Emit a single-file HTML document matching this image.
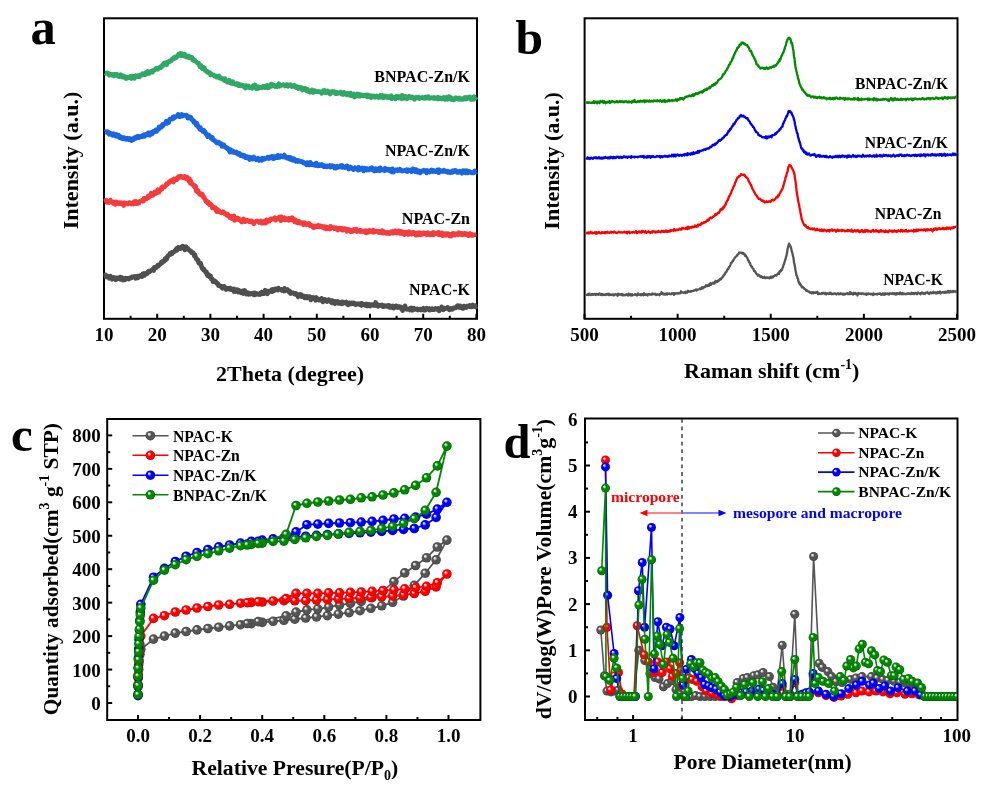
<!DOCTYPE html>
<html><head><meta charset="utf-8"><style>
html,body{margin:0;padding:0;background:#fff;width:988px;height:792px;overflow:hidden}
svg{display:block;will-change:transform}
text{font-family:'Liberation Serif',serif;font-weight:bold}
</style></head><body>
<svg width="988" height="792" viewBox="0 0 988 792">
<defs><radialGradient id="g_gray" cx="0.5" cy="0.5" r="0.5" fx="0.33" fy="0.3"><stop offset="0" stop-color="#ffffff"/><stop offset="0.16" stop-color="#dddddd"/><stop offset="0.42" stop-color="#555555"/><stop offset="0.82" stop-color="#555555"/><stop offset="1" stop-color="#3a3a3a"/></radialGradient><radialGradient id="g_red" cx="0.5" cy="0.5" r="0.5" fx="0.33" fy="0.3"><stop offset="0" stop-color="#ffffff"/><stop offset="0.16" stop-color="#ffcccc"/><stop offset="0.42" stop-color="#ff0000"/><stop offset="0.82" stop-color="#ff0000"/><stop offset="1" stop-color="#c00000"/></radialGradient><radialGradient id="g_blue" cx="0.5" cy="0.5" r="0.5" fx="0.33" fy="0.3"><stop offset="0" stop-color="#ffffff"/><stop offset="0.16" stop-color="#ccccff"/><stop offset="0.42" stop-color="#0000ff"/><stop offset="0.82" stop-color="#0000ff"/><stop offset="1" stop-color="#0000b0"/></radialGradient><radialGradient id="g_green" cx="0.5" cy="0.5" r="0.5" fx="0.33" fy="0.3"><stop offset="0" stop-color="#ffffff"/><stop offset="0.16" stop-color="#cce7cc"/><stop offset="0.42" stop-color="#008800"/><stop offset="0.82" stop-color="#008800"/><stop offset="1" stop-color="#005a00"/></radialGradient></defs>
<rect x="104" y="18.3" width="373" height="300.5" fill="none" stroke="#000" stroke-width="2"/>
<line x1="104.00" y1="318.8" x2="104.00" y2="313.8" stroke="#000" stroke-width="2"/>
<text x="104" y="341" font-size="19" text-anchor="middle" fill="#000" >10</text>
<line x1="130.60" y1="318.8" x2="130.60" y2="315.8" stroke="#000" stroke-width="2"/>
<line x1="157.20" y1="318.8" x2="157.20" y2="313.8" stroke="#000" stroke-width="2"/>
<text x="157.2" y="341" font-size="19" text-anchor="middle" fill="#000" >20</text>
<line x1="183.80" y1="318.8" x2="183.80" y2="315.8" stroke="#000" stroke-width="2"/>
<line x1="210.40" y1="318.8" x2="210.40" y2="313.8" stroke="#000" stroke-width="2"/>
<text x="210.4" y="341" font-size="19" text-anchor="middle" fill="#000" >30</text>
<line x1="237.00" y1="318.8" x2="237.00" y2="315.8" stroke="#000" stroke-width="2"/>
<line x1="263.60" y1="318.8" x2="263.60" y2="313.8" stroke="#000" stroke-width="2"/>
<text x="263.6" y="341" font-size="19" text-anchor="middle" fill="#000" >40</text>
<line x1="290.20" y1="318.8" x2="290.20" y2="315.8" stroke="#000" stroke-width="2"/>
<line x1="316.80" y1="318.8" x2="316.80" y2="313.8" stroke="#000" stroke-width="2"/>
<text x="316.8" y="341" font-size="19" text-anchor="middle" fill="#000" >50</text>
<line x1="343.40" y1="318.8" x2="343.40" y2="315.8" stroke="#000" stroke-width="2"/>
<line x1="370.00" y1="318.8" x2="370.00" y2="313.8" stroke="#000" stroke-width="2"/>
<text x="370" y="341" font-size="19" text-anchor="middle" fill="#000" >60</text>
<line x1="396.60" y1="318.8" x2="396.60" y2="315.8" stroke="#000" stroke-width="2"/>
<line x1="423.20" y1="318.8" x2="423.20" y2="313.8" stroke="#000" stroke-width="2"/>
<text x="423.2" y="341" font-size="19" text-anchor="middle" fill="#000" >70</text>
<line x1="449.80" y1="318.8" x2="449.80" y2="315.8" stroke="#000" stroke-width="2"/>
<line x1="476.40" y1="318.8" x2="476.40" y2="313.8" stroke="#000" stroke-width="2"/>
<text x="476.4" y="341" font-size="19" text-anchor="middle" fill="#000" >80</text>
<text x="290" y="380.8" font-size="22" text-anchor="middle" fill="#000" >2Theta (degree)</text>
<text transform="translate(77.5,160.5) rotate(-90)" font-size="22" text-anchor="middle">Intensity (a.u.)</text>
<text x="30.5" y="44.2" font-size="50.5" text-anchor="start" fill="#000" >a</text>
<path d="M105.00 73.03 L105.60 73.39 L106.20 73.09 L106.80 72.77 L107.40 73.30 L108.00 73.04 L108.60 74.06 L109.20 75.25 L109.80 73.95 L110.40 74.01 L111.00 75.05 L111.60 75.09 L112.20 75.04 L112.80 74.35 L113.40 75.20 L114.00 75.91 L114.60 74.41 L115.20 75.24 L115.80 74.21 L116.40 74.83 L117.00 74.52 L117.60 75.93 L118.20 75.23 L118.80 76.59 L119.40 76.62 L120.00 76.46 L120.60 74.72 L121.20 76.41 L121.80 76.91 L122.40 77.14 L123.00 75.92 L123.60 76.85 L124.20 76.53 L124.80 76.73 L125.40 78.29 L126.00 76.85 L126.60 77.51 L127.20 78.27 L127.80 77.11 L128.40 77.49 L129.00 77.66 L129.60 77.59 L130.20 76.52 L130.80 77.51 L131.40 78.46 L132.00 76.05 L132.60 77.88 L133.20 77.19 L133.80 76.46 L134.40 78.45 L135.00 77.33 L135.60 75.62 L136.20 76.49 L136.80 76.74 L137.40 75.97 L138.00 76.50 L138.60 75.74 L139.20 76.16 L139.80 76.60 L140.40 74.74 L141.00 75.28 L141.60 74.58 L142.20 74.88 L142.80 73.66 L143.40 73.97 L144.00 74.10 L144.60 74.79 L145.20 74.79 L145.80 72.61 L146.40 72.82 L147.00 73.76 L147.60 71.42 L148.20 72.41 L148.80 72.46 L149.40 73.30 L150.00 72.60 L150.60 71.53 L151.20 71.24 L151.80 71.07 L152.40 72.22 L153.00 70.39 L153.60 70.22 L154.20 70.46 L154.80 69.80 L155.40 69.46 L156.00 68.44 L156.60 69.03 L157.20 68.39 L157.80 69.37 L158.40 68.64 L159.00 67.77 L159.60 67.99 L160.20 66.83 L160.80 67.59 L161.40 66.38 L162.00 66.49 L162.60 64.61 L163.20 65.55 L163.80 63.54 L164.40 62.88 L165.00 63.88 L165.60 63.02 L166.20 63.49 L166.80 64.77 L167.40 61.93 L168.00 61.73 L168.60 62.02 L169.20 61.89 L169.80 61.00 L170.40 60.62 L171.00 60.99 L171.60 60.48 L172.20 58.86 L172.80 59.23 L173.40 58.92 L174.00 57.63 L174.60 58.26 L175.20 56.96 L175.80 58.02 L176.40 57.01 L177.00 56.56 L177.60 55.67 L178.20 55.74 L178.80 53.97 L179.40 54.44 L180.00 55.45 L180.60 53.34 L181.20 55.65 L181.80 53.56 L182.40 55.58 L183.00 54.37 L183.60 55.76 L184.20 55.36 L184.80 54.18 L185.40 56.58 L186.00 56.92 L186.60 55.93 L187.20 55.99 L187.80 56.31 L188.40 55.91 L189.00 57.83 L189.60 56.78 L190.20 57.45 L190.80 57.15 L191.40 57.61 L192.00 57.46 L192.60 59.90 L193.20 59.23 L193.80 60.62 L194.40 60.38 L195.00 60.36 L195.60 61.21 L196.20 61.60 L196.80 62.62 L197.40 62.88 L198.00 63.49 L198.60 63.16 L199.20 64.15 L199.80 66.64 L200.40 65.30 L201.00 65.52 L201.60 67.17 L202.20 68.57 L202.80 66.83 L203.40 68.38 L204.00 68.58 L204.60 68.22 L205.20 70.75 L205.80 70.66 L206.40 71.23 L207.00 71.06 L207.60 72.49 L208.20 72.13 L208.80 72.86 L209.40 72.46 L210.00 72.73 L210.60 75.09 L211.20 73.91 L211.80 74.82 L212.40 74.81 L213.00 74.72 L213.60 74.89 L214.20 76.02 L214.80 75.48 L215.40 75.80 L216.00 76.13 L216.60 77.25 L217.20 77.05 L217.80 77.00 L218.40 76.44 L219.00 75.99 L219.60 78.07 L220.20 78.31 L220.80 77.66 L221.40 78.44 L222.00 78.89 L222.60 79.19 L223.20 79.53 L223.80 78.70 L224.40 80.55 L225.00 78.63 L225.60 80.60 L226.20 80.60 L226.80 81.19 L227.40 82.29 L228.00 82.27 L228.60 80.45 L229.20 80.31 L229.80 82.60 L230.40 81.42 L231.00 82.50 L231.60 83.45 L232.20 81.73 L232.80 81.62 L233.40 83.76 L234.00 83.83 L234.60 83.83 L235.20 84.27 L235.80 83.76 L236.40 83.43 L237.00 84.68 L237.60 84.20 L238.20 83.82 L238.80 85.67 L239.40 85.35 L240.00 85.84 L240.60 84.85 L241.20 85.23 L241.80 85.07 L242.40 85.28 L243.00 86.26 L243.60 85.58 L244.20 86.60 L244.80 86.70 L245.40 88.15 L246.00 85.51 L246.60 87.44 L247.20 86.75 L247.80 86.90 L248.40 85.83 L249.00 86.71 L249.60 87.75 L250.20 87.16 L250.80 87.35 L251.40 87.11 L252.00 88.32 L252.60 87.43 L253.20 85.73 L253.80 86.97 L254.40 85.98 L255.00 84.97 L255.60 87.16 L256.20 88.66 L256.80 87.62 L257.40 86.64 L258.00 86.80 L258.60 88.43 L259.20 87.61 L259.80 87.48 L260.40 87.35 L261.00 87.37 L261.60 87.92 L262.20 87.65 L262.80 87.31 L263.40 86.23 L264.00 87.40 L264.60 86.37 L265.20 87.71 L265.80 85.74 L266.40 86.57 L267.00 86.59 L267.60 85.46 L268.20 87.83 L268.80 87.55 L269.40 85.94 L270.00 86.86 L270.60 86.48 L271.20 84.02 L271.80 86.25 L272.40 85.93 L273.00 85.97 L273.60 84.97 L274.20 85.53 L274.80 85.53 L275.40 86.54 L276.00 85.78 L276.60 85.43 L277.20 86.59 L277.80 84.85 L278.40 84.91 L279.00 83.70 L279.60 86.35 L280.20 85.80 L280.80 85.71 L281.40 85.47 L282.00 84.98 L282.60 85.03 L283.20 84.63 L283.80 84.66 L284.40 84.86 L285.00 86.03 L285.60 85.29 L286.20 84.83 L286.80 84.47 L287.40 84.49 L288.00 86.36 L288.60 85.58 L289.20 85.33 L289.80 85.12 L290.40 84.63 L291.00 85.60 L291.60 86.49 L292.20 85.62 L292.80 85.90 L293.40 86.06 L294.00 86.48 L294.60 85.27 L295.20 86.52 L295.80 86.18 L296.40 87.72 L297.00 86.55 L297.60 87.78 L298.20 88.68 L298.80 87.35 L299.40 87.27 L300.00 88.05 L300.60 88.05 L301.20 87.42 L301.80 88.75 L302.40 90.17 L303.00 88.53 L303.60 88.75 L304.20 88.26 L304.80 89.54 L305.40 88.46 L306.00 88.76 L306.60 90.84 L307.20 89.27 L307.80 91.02 L308.40 91.54 L309.00 90.67 L309.60 91.05 L310.20 92.30 L310.80 90.71 L311.40 90.50 L312.00 89.99 L312.60 91.19 L313.20 92.41 L313.80 92.06 L314.40 90.60 L315.00 90.72 L315.60 91.05 L316.20 91.74 L316.80 91.39 L317.40 91.77 L318.00 91.88 L318.60 91.44 L319.20 91.69 L319.80 91.92 L320.40 91.73 L321.00 92.23 L321.60 93.36 L322.20 92.37 L322.80 91.97 L323.40 90.61 L324.00 92.30 L324.60 90.46 L325.20 90.92 L325.80 92.76 L326.40 92.67 L327.00 92.02 L327.60 90.80 L328.20 91.90 L328.80 91.69 L329.40 92.78 L330.00 94.11 L330.60 92.51 L331.20 91.76 L331.80 91.48 L332.40 92.42 L333.00 92.37 L333.60 91.63 L334.20 92.70 L334.80 91.73 L335.40 93.60 L336.00 93.62 L336.60 93.70 L337.20 92.51 L337.80 93.37 L338.40 92.92 L339.00 92.78 L339.60 92.89 L340.20 92.20 L340.80 92.16 L341.40 94.02 L342.00 93.31 L342.60 93.71 L343.20 94.42 L343.80 92.31 L344.40 93.15 L345.00 94.00 L345.60 94.25 L346.20 93.71 L346.80 94.92 L347.40 94.34 L348.00 93.28 L348.60 93.58 L349.20 95.05 L349.80 94.85 L350.40 93.03 L351.00 95.70 L351.60 95.17 L352.20 95.84 L352.80 94.53 L353.40 94.66 L354.00 94.06 L354.60 97.05 L355.20 94.94 L355.80 96.41 L356.40 94.67 L357.00 95.38 L357.60 93.96 L358.20 95.05 L358.80 96.20 L359.40 94.46 L360.00 96.37 L360.60 95.84 L361.20 94.79 L361.80 95.27 L362.40 95.36 L363.00 95.74 L363.60 95.40 L364.20 95.21 L364.80 95.68 L365.40 95.15 L366.00 94.99 L366.60 96.03 L367.20 96.82 L367.80 94.93 L368.40 96.20 L369.00 95.72 L369.60 95.50 L370.20 97.00 L370.80 95.94 L371.40 97.60 L372.00 95.81 L372.60 96.78 L373.20 96.32 L373.80 95.93 L374.40 97.04 L375.00 96.47 L375.60 97.11 L376.20 96.62 L376.80 95.82 L377.40 96.63 L378.00 96.78 L378.60 97.53 L379.20 96.07 L379.80 96.79 L380.40 95.47 L381.00 97.39 L381.60 96.03 L382.20 95.47 L382.80 96.90 L383.40 97.85 L384.00 95.77 L384.60 96.14 L385.20 96.44 L385.80 96.15 L386.40 97.38 L387.00 96.45 L387.60 96.54 L388.20 97.61 L388.80 96.56 L389.40 97.53 L390.00 96.42 L390.60 96.25 L391.20 95.77 L391.80 98.75 L392.40 97.02 L393.00 97.49 L393.60 97.29 L394.20 97.46 L394.80 97.39 L395.40 98.89 L396.00 96.55 L396.60 96.16 L397.20 96.61 L397.80 96.37 L398.40 98.05 L399.00 98.13 L399.60 96.72 L400.20 96.40 L400.80 97.24 L401.40 98.66 L402.00 95.30 L402.60 98.00 L403.20 96.73 L403.80 98.44 L404.40 96.77 L405.00 97.42 L405.60 96.46 L406.20 96.90 L406.80 98.81 L407.40 98.37 L408.00 97.41 L408.60 97.05 L409.20 96.25 L409.80 97.47 L410.40 97.78 L411.00 97.75 L411.60 97.76 L412.20 96.96 L412.80 97.82 L413.40 97.86 L414.00 98.94 L414.60 99.42 L415.20 97.83 L415.80 97.34 L416.40 97.92 L417.00 97.50 L417.60 97.41 L418.20 97.97 L418.80 97.20 L419.40 98.54 L420.00 97.99 L420.60 98.28 L421.20 97.95 L421.80 97.53 L422.40 97.37 L423.00 97.95 L423.60 97.72 L424.20 98.36 L424.80 98.18 L425.40 97.11 L426.00 98.27 L426.60 97.15 L427.20 97.75 L427.80 98.02 L428.40 96.60 L429.00 98.35 L429.60 98.41 L430.20 98.17 L430.80 97.97 L431.40 98.02 L432.00 97.55 L432.60 98.13 L433.20 97.91 L433.80 98.43 L434.40 97.41 L435.00 98.57 L435.60 98.50 L436.20 98.28 L436.80 98.05 L437.40 98.85 L438.00 97.08 L438.60 98.79 L439.20 98.62 L439.80 98.66 L440.40 98.75 L441.00 97.93 L441.60 98.25 L442.20 98.97 L442.80 98.81 L443.40 98.64 L444.00 97.27 L444.60 98.92 L445.20 99.43 L445.80 99.31 L446.40 98.69 L447.00 97.27 L447.60 99.27 L448.20 98.41 L448.80 96.51 L449.40 98.84 L450.00 97.35 L450.60 97.51 L451.20 98.05 L451.80 99.58 L452.40 98.27 L453.00 98.79 L453.60 99.98 L454.20 99.86 L454.80 98.51 L455.40 98.40 L456.00 97.59 L456.60 98.05 L457.20 98.95 L457.80 98.93 L458.40 98.71 L459.00 99.42 L459.60 98.01 L460.20 98.59 L460.80 99.22 L461.40 99.11 L462.00 99.50 L462.60 98.97 L463.20 98.41 L463.80 98.95 L464.40 97.86 L465.00 97.35 L465.60 99.13 L466.20 98.63 L466.80 98.92 L467.40 97.32 L468.00 98.39 L468.60 98.20 L469.20 97.99 L469.80 96.88 L470.40 98.42 L471.00 99.41 L471.60 99.00 L472.20 98.21 L472.80 98.68 L473.40 99.30 L474.00 96.49 L474.60 98.60 L475.20 99.13 L475.80 99.25 L476.40 100.06" fill="none" stroke="#2ea864" stroke-width="4.6" stroke-linejoin="round"/>
<path d="M105.00 132.02 L105.60 131.53 L106.20 131.74 L106.80 132.38 L107.40 131.58 L108.00 132.23 L108.60 133.24 L109.20 134.34 L109.80 132.89 L110.40 133.22 L111.00 133.66 L111.60 134.81 L112.20 133.94 L112.80 135.36 L113.40 133.64 L114.00 134.48 L114.60 134.69 L115.20 135.70 L115.80 136.14 L116.40 134.33 L117.00 135.05 L117.60 136.29 L118.20 135.74 L118.80 135.29 L119.40 137.58 L120.00 137.38 L120.60 137.61 L121.20 137.06 L121.80 138.48 L122.40 137.67 L123.00 138.93 L123.60 137.51 L124.20 137.72 L124.80 138.71 L125.40 138.11 L126.00 139.32 L126.60 139.07 L127.20 138.19 L127.80 139.02 L128.40 138.70 L129.00 139.70 L129.60 138.44 L130.20 138.55 L130.80 139.82 L131.40 140.57 L132.00 140.30 L132.60 138.66 L133.20 138.68 L133.80 139.61 L134.40 138.16 L135.00 137.35 L135.60 138.08 L136.20 138.21 L136.80 137.03 L137.40 136.22 L138.00 136.22 L138.60 137.74 L139.20 136.43 L139.80 136.76 L140.40 136.87 L141.00 137.02 L141.60 136.09 L142.20 136.58 L142.80 135.29 L143.40 135.54 L144.00 134.81 L144.60 136.34 L145.20 135.20 L145.80 134.41 L146.40 134.49 L147.00 134.36 L147.60 134.85 L148.20 132.76 L148.80 132.94 L149.40 133.20 L150.00 135.25 L150.60 133.71 L151.20 132.57 L151.80 132.93 L152.40 133.71 L153.00 131.57 L153.60 131.16 L154.20 132.11 L154.80 131.21 L155.40 131.04 L156.00 129.77 L156.60 131.38 L157.20 130.87 L157.80 129.59 L158.40 129.31 L159.00 126.75 L159.60 128.47 L160.20 127.39 L160.80 127.45 L161.40 127.21 L162.00 125.93 L162.60 124.39 L163.20 125.58 L163.80 124.22 L164.40 124.08 L165.00 123.40 L165.60 123.15 L166.20 121.12 L166.80 123.49 L167.40 122.28 L168.00 122.54 L168.60 122.83 L169.20 120.86 L169.80 119.02 L170.40 119.39 L171.00 118.78 L171.60 118.99 L172.20 119.10 L172.80 117.07 L173.40 118.58 L174.00 116.73 L174.60 117.81 L175.20 117.12 L175.80 116.61 L176.40 116.47 L177.00 115.79 L177.60 115.44 L178.20 114.33 L178.80 115.43 L179.40 116.74 L180.00 116.70 L180.60 116.07 L181.20 115.52 L181.80 114.41 L182.40 116.13 L183.00 114.99 L183.60 115.08 L184.20 115.02 L184.80 115.47 L185.40 115.21 L186.00 115.68 L186.60 115.08 L187.20 115.87 L187.80 118.22 L188.40 116.59 L189.00 116.72 L189.60 117.64 L190.20 118.14 L190.80 117.12 L191.40 118.35 L192.00 119.81 L192.60 119.92 L193.20 120.48 L193.80 122.33 L194.40 121.29 L195.00 122.65 L195.60 122.93 L196.20 125.30 L196.80 123.29 L197.40 125.05 L198.00 125.86 L198.60 127.47 L199.20 128.05 L199.80 129.29 L200.40 127.49 L201.00 129.93 L201.60 129.67 L202.20 129.93 L202.80 131.46 L203.40 130.85 L204.00 130.47 L204.60 132.38 L205.20 132.01 L205.80 133.22 L206.40 134.56 L207.00 135.03 L207.60 136.55 L208.20 135.62 L208.80 135.04 L209.40 136.14 L210.00 136.47 L210.60 136.69 L211.20 138.46 L211.80 138.04 L212.40 137.40 L213.00 139.97 L213.60 139.74 L214.20 140.53 L214.80 140.73 L215.40 141.55 L216.00 141.47 L216.60 142.82 L217.20 142.56 L217.80 142.92 L218.40 143.31 L219.00 142.19 L219.60 143.60 L220.20 143.89 L220.80 144.63 L221.40 143.74 L222.00 146.49 L222.60 145.63 L223.20 144.94 L223.80 144.90 L224.40 146.40 L225.00 146.91 L225.60 146.77 L226.20 147.79 L226.80 147.58 L227.40 148.91 L228.00 148.26 L228.60 149.19 L229.20 150.38 L229.80 152.03 L230.40 149.54 L231.00 150.35 L231.60 150.41 L232.20 152.07 L232.80 150.87 L233.40 151.74 L234.00 152.43 L234.60 151.99 L235.20 152.31 L235.80 152.98 L236.40 151.96 L237.00 152.74 L237.60 153.80 L238.20 154.47 L238.80 154.41 L239.40 153.33 L240.00 154.56 L240.60 155.76 L241.20 155.75 L241.80 155.42 L242.40 154.95 L243.00 156.34 L243.60 155.55 L244.20 155.25 L244.80 155.72 L245.40 157.69 L246.00 156.87 L246.60 157.78 L247.20 156.63 L247.80 157.92 L248.40 156.83 L249.00 157.33 L249.60 159.59 L250.20 158.35 L250.80 157.46 L251.40 157.92 L252.00 158.37 L252.60 159.19 L253.20 157.93 L253.80 157.03 L254.40 158.29 L255.00 158.61 L255.60 158.77 L256.20 159.80 L256.80 159.06 L257.40 159.51 L258.00 158.02 L258.60 159.63 L259.20 160.64 L259.80 159.60 L260.40 159.19 L261.00 159.10 L261.60 160.39 L262.20 158.19 L262.80 158.79 L263.40 159.19 L264.00 159.35 L264.60 158.33 L265.20 158.84 L265.80 158.28 L266.40 158.49 L267.00 158.18 L267.60 157.26 L268.20 158.04 L268.80 158.64 L269.40 157.04 L270.00 157.49 L270.60 158.09 L271.20 156.58 L271.80 157.45 L272.40 156.34 L273.00 157.97 L273.60 158.80 L274.20 158.46 L274.80 156.56 L275.40 157.23 L276.00 156.65 L276.60 156.55 L277.20 157.63 L277.80 155.28 L278.40 157.13 L279.00 156.21 L279.60 157.35 L280.20 156.37 L280.80 155.69 L281.40 156.48 L282.00 156.90 L282.60 156.40 L283.20 156.85 L283.80 156.15 L284.40 154.97 L285.00 157.53 L285.60 157.52 L286.20 157.24 L286.80 157.34 L287.40 158.30 L288.00 157.29 L288.60 157.29 L289.20 157.90 L289.80 159.21 L290.40 157.36 L291.00 159.64 L291.60 158.39 L292.20 158.24 L292.80 160.34 L293.40 159.47 L294.00 158.72 L294.60 159.68 L295.20 160.91 L295.80 161.31 L296.40 160.20 L297.00 161.04 L297.60 161.46 L298.20 160.53 L298.80 161.48 L299.40 161.31 L300.00 161.05 L300.60 161.22 L301.20 161.81 L301.80 161.92 L302.40 161.58 L303.00 161.83 L303.60 163.20 L304.20 162.62 L304.80 163.30 L305.40 163.69 L306.00 163.33 L306.60 164.81 L307.20 162.47 L307.80 163.91 L308.40 163.14 L309.00 165.00 L309.60 165.01 L310.20 162.21 L310.80 163.12 L311.40 164.55 L312.00 164.76 L312.60 164.84 L313.20 164.30 L313.80 164.83 L314.40 165.10 L315.00 164.62 L315.60 165.60 L316.20 163.07 L316.80 165.48 L317.40 164.23 L318.00 165.91 L318.60 165.04 L319.20 164.59 L319.80 165.67 L320.40 164.71 L321.00 164.78 L321.60 164.32 L322.20 165.61 L322.80 166.09 L323.40 166.57 L324.00 165.69 L324.60 166.70 L325.20 165.92 L325.80 165.89 L326.40 166.47 L327.00 166.90 L327.60 165.83 L328.20 165.95 L328.80 166.07 L329.40 166.30 L330.00 165.56 L330.60 167.15 L331.20 166.05 L331.80 166.78 L332.40 165.79 L333.00 166.78 L333.60 166.84 L334.20 166.24 L334.80 168.23 L335.40 166.95 L336.00 168.12 L336.60 167.51 L337.20 166.25 L337.80 166.52 L338.40 167.22 L339.00 166.97 L339.60 167.00 L340.20 166.78 L340.80 165.61 L341.40 166.93 L342.00 165.39 L342.60 167.51 L343.20 166.69 L343.80 166.75 L344.40 167.21 L345.00 167.66 L345.60 166.35 L346.20 166.16 L346.80 166.77 L347.40 166.05 L348.00 166.97 L348.60 169.07 L349.20 167.02 L349.80 168.45 L350.40 166.89 L351.00 168.29 L351.60 167.85 L352.20 168.12 L352.80 168.68 L353.40 169.69 L354.00 168.50 L354.60 168.50 L355.20 167.68 L355.80 168.98 L356.40 168.37 L357.00 169.28 L357.60 168.63 L358.20 170.11 L358.80 167.17 L359.40 168.57 L360.00 169.55 L360.60 168.61 L361.20 168.29 L361.80 168.75 L362.40 167.89 L363.00 169.12 L363.60 171.01 L364.20 170.00 L364.80 168.23 L365.40 168.44 L366.00 168.85 L366.60 170.00 L367.20 168.57 L367.80 168.70 L368.40 169.98 L369.00 169.99 L369.60 169.03 L370.20 168.45 L370.80 168.13 L371.40 168.84 L372.00 167.63 L372.60 170.04 L373.20 168.96 L373.80 169.87 L374.40 171.00 L375.00 170.47 L375.60 168.63 L376.20 170.26 L376.80 170.52 L377.40 169.01 L378.00 168.87 L378.60 169.56 L379.20 168.39 L379.80 170.86 L380.40 167.78 L381.00 168.84 L381.60 169.53 L382.20 169.58 L382.80 169.91 L383.40 170.01 L384.00 169.64 L384.60 170.74 L385.20 168.13 L385.80 169.86 L386.40 169.31 L387.00 170.00 L387.60 170.09 L388.20 169.20 L388.80 169.44 L389.40 170.60 L390.00 170.26 L390.60 169.45 L391.20 171.65 L391.80 171.88 L392.40 168.88 L393.00 170.31 L393.60 172.09 L394.20 170.73 L394.80 170.29 L395.40 169.97 L396.00 169.72 L396.60 170.00 L397.20 169.74 L397.80 170.80 L398.40 169.90 L399.00 169.89 L399.60 169.30 L400.20 170.24 L400.80 169.58 L401.40 170.17 L402.00 171.17 L402.60 170.64 L403.20 170.77 L403.80 170.67 L404.40 170.46 L405.00 170.33 L405.60 170.20 L406.20 171.07 L406.80 169.62 L407.40 171.58 L408.00 170.55 L408.60 169.95 L409.20 170.17 L409.80 170.04 L410.40 170.73 L411.00 170.05 L411.60 171.56 L412.20 170.04 L412.80 168.86 L413.40 170.12 L414.00 169.12 L414.60 170.71 L415.20 171.61 L415.80 171.30 L416.40 169.73 L417.00 170.21 L417.60 172.26 L418.20 171.11 L418.80 170.88 L419.40 171.74 L420.00 172.88 L420.60 171.97 L421.20 171.07 L421.80 171.26 L422.40 171.48 L423.00 170.52 L423.60 170.18 L424.20 171.09 L424.80 170.31 L425.40 171.03 L426.00 171.18 L426.60 172.99 L427.20 170.45 L427.80 171.06 L428.40 171.04 L429.00 171.54 L429.60 172.04 L430.20 170.83 L430.80 170.58 L431.40 169.94 L432.00 170.53 L432.60 171.71 L433.20 171.34 L433.80 170.50 L434.40 171.03 L435.00 171.37 L435.60 171.76 L436.20 170.90 L436.80 171.19 L437.40 169.95 L438.00 170.50 L438.60 172.72 L439.20 169.69 L439.80 171.19 L440.40 171.64 L441.00 171.18 L441.60 170.85 L442.20 171.45 L442.80 171.51 L443.40 171.46 L444.00 170.04 L444.60 171.43 L445.20 170.88 L445.80 171.13 L446.40 171.76 L447.00 172.11 L447.60 172.32 L448.20 171.22 L448.80 172.36 L449.40 172.57 L450.00 172.56 L450.60 172.77 L451.20 171.55 L451.80 171.54 L452.40 172.35 L453.00 170.60 L453.60 171.88 L454.20 171.29 L454.80 171.43 L455.40 170.34 L456.00 171.03 L456.60 171.74 L457.20 172.48 L457.80 172.57 L458.40 171.72 L459.00 171.64 L459.60 171.14 L460.20 172.13 L460.80 171.62 L461.40 172.31 L462.00 173.24 L462.60 171.82 L463.20 170.66 L463.80 171.17 L464.40 170.70 L465.00 170.92 L465.60 172.93 L466.20 172.07 L466.80 170.68 L467.40 172.43 L468.00 172.92 L468.60 171.63 L469.20 171.39 L469.80 171.66 L470.40 172.17 L471.00 172.46 L471.60 172.90 L472.20 172.93 L472.80 172.91 L473.40 173.06 L474.00 172.50 L474.60 170.76 L475.20 171.88 L475.80 172.24 L476.40 171.69" fill="none" stroke="#1a66e0" stroke-width="4.6" stroke-linejoin="round"/>
<path d="M105.00 201.51 L105.60 200.59 L106.20 200.27 L106.80 202.32 L107.40 201.85 L108.00 201.64 L108.60 202.35 L109.20 202.60 L109.80 202.16 L110.40 200.06 L111.00 201.61 L111.60 201.90 L112.20 201.59 L112.80 202.65 L113.40 203.55 L114.00 202.30 L114.60 201.87 L115.20 204.49 L115.80 202.58 L116.40 202.03 L117.00 203.26 L117.60 203.47 L118.20 202.61 L118.80 203.85 L119.40 202.86 L120.00 202.53 L120.60 203.43 L121.20 203.91 L121.80 202.79 L122.40 203.56 L123.00 203.21 L123.60 205.54 L124.20 202.70 L124.80 204.36 L125.40 203.19 L126.00 203.11 L126.60 203.77 L127.20 203.88 L127.80 204.15 L128.40 203.37 L129.00 202.60 L129.60 202.61 L130.20 203.41 L130.80 203.43 L131.40 204.04 L132.00 203.22 L132.60 203.68 L133.20 204.00 L133.80 202.87 L134.40 201.50 L135.00 201.68 L135.60 201.41 L136.20 203.74 L136.80 201.68 L137.40 203.20 L138.00 202.52 L138.60 203.25 L139.20 202.48 L139.80 201.38 L140.40 201.08 L141.00 201.07 L141.60 200.90 L142.20 200.09 L142.80 200.22 L143.40 201.26 L144.00 198.30 L144.60 199.54 L145.20 198.27 L145.80 198.78 L146.40 198.93 L147.00 197.82 L147.60 198.10 L148.20 195.82 L148.80 197.60 L149.40 195.85 L150.00 196.45 L150.60 195.72 L151.20 193.13 L151.80 194.22 L152.40 194.62 L153.00 195.30 L153.60 193.90 L154.20 193.49 L154.80 191.76 L155.40 193.65 L156.00 193.56 L156.60 191.74 L157.20 191.15 L157.80 189.63 L158.40 191.24 L159.00 192.29 L159.60 190.30 L160.20 190.33 L160.80 189.34 L161.40 187.70 L162.00 189.13 L162.60 186.64 L163.20 187.03 L163.80 186.99 L164.40 187.03 L165.00 186.23 L165.60 185.77 L166.20 184.43 L166.80 183.59 L167.40 184.26 L168.00 183.23 L168.60 182.36 L169.20 182.01 L169.80 182.26 L170.40 180.81 L171.00 180.86 L171.60 180.28 L172.20 181.37 L172.80 181.18 L173.40 182.09 L174.00 178.91 L174.60 179.19 L175.20 180.10 L175.80 178.84 L176.40 178.41 L177.00 179.72 L177.60 177.79 L178.20 176.87 L178.80 176.51 L179.40 177.64 L180.00 177.47 L180.60 176.02 L181.20 176.28 L181.80 177.49 L182.40 177.58 L183.00 176.70 L183.60 177.86 L184.20 178.00 L184.80 176.33 L185.40 177.75 L186.00 178.60 L186.60 178.10 L187.20 177.15 L187.80 178.97 L188.40 180.19 L189.00 181.30 L189.60 178.81 L190.20 183.25 L190.80 180.92 L191.40 183.31 L192.00 184.29 L192.60 184.87 L193.20 185.01 L193.80 184.78 L194.40 187.02 L195.00 186.74 L195.60 186.07 L196.20 191.10 L196.80 190.13 L197.40 191.73 L198.00 190.26 L198.60 192.88 L199.20 193.69 L199.80 194.37 L200.40 193.83 L201.00 193.59 L201.60 195.12 L202.20 194.20 L202.80 195.29 L203.40 197.40 L204.00 197.21 L204.60 198.54 L205.20 199.24 L205.80 201.53 L206.40 201.67 L207.00 201.26 L207.60 202.91 L208.20 201.97 L208.80 202.96 L209.40 204.59 L210.00 203.47 L210.60 204.83 L211.20 204.57 L211.80 206.26 L212.40 207.99 L213.00 206.56 L213.60 207.80 L214.20 207.34 L214.80 207.55 L215.40 207.88 L216.00 210.42 L216.60 211.52 L217.20 210.38 L217.80 209.78 L218.40 211.26 L219.00 210.76 L219.60 212.00 L220.20 211.91 L220.80 212.21 L221.40 212.78 L222.00 212.13 L222.60 212.57 L223.20 211.80 L223.80 213.12 L224.40 212.62 L225.00 213.93 L225.60 213.57 L226.20 214.70 L226.80 215.27 L227.40 214.06 L228.00 214.84 L228.60 215.02 L229.20 216.66 L229.80 217.71 L230.40 217.31 L231.00 216.62 L231.60 218.34 L232.20 216.22 L232.80 218.88 L233.40 217.40 L234.00 215.93 L234.60 220.50 L235.20 219.86 L235.80 217.97 L236.40 219.11 L237.00 218.97 L237.60 219.38 L238.20 218.26 L238.80 219.02 L239.40 220.06 L240.00 219.98 L240.60 220.87 L241.20 220.08 L241.80 222.00 L242.40 219.65 L243.00 220.53 L243.60 218.89 L244.20 219.52 L244.80 221.68 L245.40 219.95 L246.00 221.22 L246.60 220.84 L247.20 220.14 L247.80 220.77 L248.40 220.72 L249.00 220.82 L249.60 221.89 L250.20 221.87 L250.80 220.96 L251.40 220.76 L252.00 221.77 L252.60 221.51 L253.20 222.47 L253.80 223.82 L254.40 222.41 L255.00 221.74 L255.60 221.67 L256.20 221.15 L256.80 221.13 L257.40 221.07 L258.00 221.57 L258.60 221.55 L259.20 222.48 L259.80 221.55 L260.40 221.68 L261.00 220.81 L261.60 223.04 L262.20 222.05 L262.80 222.99 L263.40 222.09 L264.00 222.53 L264.60 221.01 L265.20 221.65 L265.80 223.10 L266.40 219.81 L267.00 221.57 L267.60 221.83 L268.20 220.65 L268.80 220.77 L269.40 221.02 L270.00 219.29 L270.60 220.00 L271.20 218.80 L271.80 218.81 L272.40 218.71 L273.00 218.96 L273.60 219.07 L274.20 219.19 L274.80 217.55 L275.40 220.23 L276.00 219.47 L276.60 219.05 L277.20 218.10 L277.80 218.28 L278.40 218.77 L279.00 218.65 L279.60 216.94 L280.20 218.93 L280.80 220.73 L281.40 216.85 L282.00 219.21 L282.60 218.73 L283.20 218.38 L283.80 219.64 L284.40 217.59 L285.00 218.74 L285.60 219.87 L286.20 218.56 L286.80 218.44 L287.40 218.94 L288.00 218.55 L288.60 220.26 L289.20 218.33 L289.80 219.89 L290.40 218.26 L291.00 219.98 L291.60 219.50 L292.20 217.63 L292.80 219.93 L293.40 219.25 L294.00 219.96 L294.60 221.80 L295.20 219.82 L295.80 220.08 L296.40 222.34 L297.00 221.44 L297.60 222.81 L298.20 221.99 L298.80 221.17 L299.40 222.01 L300.00 223.24 L300.60 223.17 L301.20 222.56 L301.80 222.77 L302.40 222.81 L303.00 222.59 L303.60 224.83 L304.20 223.42 L304.80 222.65 L305.40 223.36 L306.00 224.52 L306.60 224.62 L307.20 224.15 L307.80 223.88 L308.40 224.61 L309.00 223.38 L309.60 223.84 L310.20 225.73 L310.80 224.84 L311.40 225.69 L312.00 226.53 L312.60 226.21 L313.20 225.84 L313.80 227.71 L314.40 226.64 L315.00 225.93 L315.60 226.95 L316.20 226.80 L316.80 225.88 L317.40 226.75 L318.00 226.66 L318.60 225.27 L319.20 226.84 L319.80 226.83 L320.40 226.79 L321.00 225.87 L321.60 227.00 L322.20 227.33 L322.80 227.52 L323.40 226.56 L324.00 228.08 L324.60 226.62 L325.20 227.49 L325.80 228.80 L326.40 227.22 L327.00 227.42 L327.60 228.77 L328.20 227.62 L328.80 227.74 L329.40 228.22 L330.00 228.94 L330.60 226.32 L331.20 227.49 L331.80 227.39 L332.40 227.37 L333.00 227.61 L333.60 227.66 L334.20 228.65 L334.80 227.72 L335.40 228.59 L336.00 228.87 L336.60 227.99 L337.20 228.74 L337.80 230.03 L338.40 229.00 L339.00 228.26 L339.60 228.79 L340.20 228.15 L340.80 229.17 L341.40 229.72 L342.00 228.40 L342.60 228.97 L343.20 230.11 L343.80 228.87 L344.40 229.50 L345.00 228.58 L345.60 228.82 L346.20 229.15 L346.80 231.38 L347.40 229.39 L348.00 229.37 L348.60 229.43 L349.20 229.82 L349.80 230.56 L350.40 230.27 L351.00 231.84 L351.60 230.44 L352.20 231.51 L352.80 230.65 L353.40 230.99 L354.00 229.42 L354.60 230.55 L355.20 230.67 L355.80 230.60 L356.40 229.14 L357.00 231.63 L357.60 230.68 L358.20 230.70 L358.80 230.91 L359.40 230.98 L360.00 231.54 L360.60 230.25 L361.20 230.57 L361.80 231.59 L362.40 231.51 L363.00 231.13 L363.60 231.00 L364.20 230.83 L364.80 231.48 L365.40 232.50 L366.00 230.74 L366.60 232.84 L367.20 232.32 L367.80 231.32 L368.40 232.33 L369.00 230.56 L369.60 230.38 L370.20 230.76 L370.80 231.49 L371.40 231.58 L372.00 231.45 L372.60 231.97 L373.20 230.20 L373.80 232.33 L374.40 230.82 L375.00 231.45 L375.60 231.67 L376.20 231.10 L376.80 230.95 L377.40 231.26 L378.00 232.08 L378.60 232.58 L379.20 232.58 L379.80 231.35 L380.40 231.53 L381.00 231.45 L381.60 232.56 L382.20 230.59 L382.80 233.23 L383.40 231.87 L384.00 231.65 L384.60 232.57 L385.20 233.14 L385.80 232.61 L386.40 233.19 L387.00 232.47 L387.60 233.37 L388.20 233.40 L388.80 232.34 L389.40 233.59 L390.00 232.59 L390.60 232.54 L391.20 231.75 L391.80 232.28 L392.40 233.15 L393.00 231.49 L393.60 233.08 L394.20 232.86 L394.80 232.82 L395.40 230.85 L396.00 232.55 L396.60 233.17 L397.20 232.06 L397.80 232.76 L398.40 230.81 L399.00 233.27 L399.60 232.22 L400.20 233.47 L400.80 231.32 L401.40 233.37 L402.00 232.65 L402.60 233.50 L403.20 232.14 L403.80 232.41 L404.40 234.72 L405.00 232.29 L405.60 232.41 L406.20 232.77 L406.80 232.20 L407.40 234.00 L408.00 234.45 L408.60 232.53 L409.20 231.74 L409.80 234.08 L410.40 234.05 L411.00 233.85 L411.60 234.14 L412.20 232.55 L412.80 233.13 L413.40 232.19 L414.00 232.19 L414.60 234.13 L415.20 232.83 L415.80 235.22 L416.40 233.48 L417.00 232.93 L417.60 234.11 L418.20 234.94 L418.80 233.91 L419.40 232.57 L420.00 233.87 L420.60 234.70 L421.20 233.22 L421.80 233.02 L422.40 234.48 L423.00 233.80 L423.60 232.83 L424.20 233.43 L424.80 233.15 L425.40 234.02 L426.00 233.89 L426.60 234.75 L427.20 234.41 L427.80 232.62 L428.40 234.21 L429.00 234.62 L429.60 234.29 L430.20 234.77 L430.80 233.52 L431.40 233.22 L432.00 234.74 L432.60 233.16 L433.20 232.31 L433.80 234.87 L434.40 233.49 L435.00 233.83 L435.60 232.98 L436.20 233.05 L436.80 233.19 L437.40 233.84 L438.00 234.44 L438.60 232.32 L439.20 234.77 L439.80 233.23 L440.40 233.33 L441.00 234.73 L441.60 234.14 L442.20 232.97 L442.80 235.68 L443.40 233.52 L444.00 234.42 L444.60 234.38 L445.20 235.36 L445.80 233.87 L446.40 235.05 L447.00 233.65 L447.60 235.15 L448.20 233.65 L448.80 233.97 L449.40 235.78 L450.00 234.53 L450.60 234.37 L451.20 236.08 L451.80 234.58 L452.40 233.64 L453.00 234.88 L453.60 233.36 L454.20 235.21 L454.80 235.27 L455.40 233.86 L456.00 233.82 L456.60 234.46 L457.20 234.34 L457.80 233.55 L458.40 234.79 L459.00 232.71 L459.60 234.00 L460.20 234.02 L460.80 234.13 L461.40 234.60 L462.00 233.37 L462.60 234.83 L463.20 234.22 L463.80 233.85 L464.40 233.28 L465.00 233.42 L465.60 234.66 L466.20 233.61 L466.80 234.43 L467.40 235.23 L468.00 235.21 L468.60 235.63 L469.20 234.15 L469.80 233.52 L470.40 235.21 L471.00 234.64 L471.60 235.29 L472.20 234.40 L472.80 235.35 L473.40 235.07 L474.00 234.97 L474.60 234.80 L475.20 234.72 L475.80 234.59 L476.40 234.58" fill="none" stroke="#f43c3c" stroke-width="4.6" stroke-linejoin="round"/>
<path d="M105.00 276.00 L105.60 274.96 L106.20 276.97 L106.80 275.73 L107.40 276.84 L108.00 276.21 L108.60 276.30 L109.20 278.34 L109.80 276.67 L110.40 276.09 L111.00 276.72 L111.60 277.21 L112.20 279.36 L112.80 277.95 L113.40 278.68 L114.00 277.27 L114.60 278.48 L115.20 278.85 L115.80 279.86 L116.40 277.96 L117.00 279.08 L117.60 278.91 L118.20 277.92 L118.80 278.77 L119.40 278.62 L120.00 277.00 L120.60 279.36 L121.20 279.32 L121.80 278.53 L122.40 277.80 L123.00 280.03 L123.60 279.02 L124.20 279.57 L124.80 279.83 L125.40 278.22 L126.00 279.22 L126.60 278.29 L127.20 278.35 L127.80 278.24 L128.40 278.20 L129.00 278.99 L129.60 278.09 L130.20 277.75 L130.80 277.54 L131.40 277.91 L132.00 276.80 L132.60 276.99 L133.20 277.22 L133.80 276.69 L134.40 276.92 L135.00 276.39 L135.60 278.36 L136.20 277.68 L136.80 276.84 L137.40 276.29 L138.00 277.93 L138.60 276.27 L139.20 275.77 L139.80 275.91 L140.40 275.72 L141.00 276.42 L141.60 275.07 L142.20 276.56 L142.80 273.96 L143.40 275.00 L144.00 273.42 L144.60 275.44 L145.20 273.48 L145.80 273.46 L146.40 273.99 L147.00 273.99 L147.60 271.83 L148.20 272.17 L148.80 271.06 L149.40 271.99 L150.00 271.50 L150.60 270.98 L151.20 270.36 L151.80 270.24 L152.40 269.56 L153.00 270.18 L153.60 270.55 L154.20 267.35 L154.80 268.36 L155.40 267.66 L156.00 267.92 L156.60 266.28 L157.20 266.45 L157.80 265.25 L158.40 266.15 L159.00 265.18 L159.60 264.48 L160.20 264.39 L160.80 263.38 L161.40 261.79 L162.00 262.96 L162.60 262.14 L163.20 261.21 L163.80 261.53 L164.40 261.13 L165.00 258.68 L165.60 258.34 L166.20 259.61 L166.80 258.92 L167.40 256.61 L168.00 255.69 L168.60 255.57 L169.20 255.14 L169.80 253.75 L170.40 254.54 L171.00 252.99 L171.60 252.55 L172.20 253.74 L172.80 251.94 L173.40 251.91 L174.00 251.93 L174.60 251.55 L175.20 250.11 L175.80 249.91 L176.40 248.73 L177.00 250.34 L177.60 249.04 L178.20 247.26 L178.80 247.81 L179.40 248.11 L180.00 247.70 L180.60 248.63 L181.20 248.19 L181.80 246.64 L182.40 247.05 L183.00 246.19 L183.60 247.56 L184.20 247.67 L184.80 249.94 L185.40 248.11 L186.00 246.65 L186.60 248.11 L187.20 249.08 L187.80 248.36 L188.40 249.05 L189.00 249.85 L189.60 250.82 L190.20 250.84 L190.80 250.72 L191.40 252.57 L192.00 252.09 L192.60 252.77 L193.20 252.78 L193.80 254.03 L194.40 256.00 L195.00 255.05 L195.60 257.17 L196.20 258.71 L196.80 258.75 L197.40 260.15 L198.00 259.96 L198.60 262.78 L199.20 263.47 L199.80 263.64 L200.40 262.91 L201.00 264.36 L201.60 266.86 L202.20 268.35 L202.80 268.12 L203.40 269.77 L204.00 269.17 L204.60 270.37 L205.20 271.37 L205.80 272.53 L206.40 271.76 L207.00 274.49 L207.60 275.51 L208.20 274.22 L208.80 274.73 L209.40 276.74 L210.00 276.58 L210.60 275.83 L211.20 278.99 L211.80 279.07 L212.40 279.15 L213.00 281.78 L213.60 280.75 L214.20 280.57 L214.80 281.76 L215.40 281.34 L216.00 282.03 L216.60 283.39 L217.20 283.07 L217.80 283.56 L218.40 285.64 L219.00 285.38 L219.60 285.71 L220.20 285.85 L220.80 286.17 L221.40 287.30 L222.00 286.45 L222.60 288.27 L223.20 286.33 L223.80 287.18 L224.40 286.55 L225.00 287.64 L225.60 288.57 L226.20 289.53 L226.80 288.04 L227.40 288.76 L228.00 288.63 L228.60 288.48 L229.20 288.26 L229.80 289.39 L230.40 288.09 L231.00 289.68 L231.60 289.72 L232.20 289.28 L232.80 289.10 L233.40 288.90 L234.00 291.60 L234.60 289.13 L235.20 291.54 L235.80 290.87 L236.40 290.19 L237.00 289.65 L237.60 291.51 L238.20 292.17 L238.80 290.14 L239.40 290.76 L240.00 291.96 L240.60 291.51 L241.20 292.97 L241.80 291.04 L242.40 292.07 L243.00 290.77 L243.60 293.59 L244.20 291.47 L244.80 290.43 L245.40 292.24 L246.00 292.36 L246.60 294.15 L247.20 292.48 L247.80 292.87 L248.40 293.49 L249.00 294.41 L249.60 293.21 L250.20 294.20 L250.80 293.89 L251.40 293.33 L252.00 293.72 L252.60 293.76 L253.20 293.08 L253.80 294.84 L254.40 292.81 L255.00 294.89 L255.60 294.74 L256.20 293.91 L256.80 293.36 L257.40 293.77 L258.00 294.29 L258.60 294.45 L259.20 294.01 L259.80 294.49 L260.40 293.15 L261.00 293.67 L261.60 292.11 L262.20 293.84 L262.80 293.21 L263.40 292.61 L264.00 293.71 L264.60 293.17 L265.20 290.19 L265.80 292.30 L266.40 290.92 L267.00 292.76 L267.60 293.71 L268.20 291.12 L268.80 291.40 L269.40 290.96 L270.00 291.26 L270.60 291.31 L271.20 291.65 L271.80 289.65 L272.40 291.53 L273.00 289.37 L273.60 290.18 L274.20 290.74 L274.80 290.25 L275.40 288.80 L276.00 288.88 L276.60 288.96 L277.20 289.20 L277.80 290.09 L278.40 288.07 L279.00 289.44 L279.60 289.52 L280.20 289.48 L280.80 289.42 L281.40 290.31 L282.00 289.57 L282.60 289.98 L283.20 289.88 L283.80 291.03 L284.40 288.26 L285.00 291.02 L285.60 290.02 L286.20 290.25 L286.80 289.96 L287.40 289.51 L288.00 290.98 L288.60 291.02 L289.20 292.26 L289.80 290.98 L290.40 293.60 L291.00 292.96 L291.60 292.82 L292.20 292.73 L292.80 292.93 L293.40 292.91 L294.00 293.62 L294.60 294.28 L295.20 294.33 L295.80 293.52 L296.40 294.61 L297.00 294.27 L297.60 295.27 L298.20 296.78 L298.80 295.94 L299.40 295.33 L300.00 294.42 L300.60 294.73 L301.20 294.64 L301.80 296.71 L302.40 295.64 L303.00 296.43 L303.60 296.01 L304.20 296.71 L304.80 297.88 L305.40 296.33 L306.00 296.72 L306.60 296.47 L307.20 297.93 L307.80 296.52 L308.40 296.55 L309.00 296.46 L309.60 296.56 L310.20 298.17 L310.80 299.97 L311.40 297.23 L312.00 298.89 L312.60 298.45 L313.20 297.47 L313.80 298.25 L314.40 298.39 L315.00 298.14 L315.60 300.34 L316.20 297.39 L316.80 299.33 L317.40 299.40 L318.00 298.78 L318.60 299.47 L319.20 300.16 L319.80 299.68 L320.40 300.00 L321.00 300.33 L321.60 298.25 L322.20 301.17 L322.80 301.91 L323.40 300.97 L324.00 301.10 L324.60 299.26 L325.20 300.39 L325.80 299.94 L326.40 300.21 L327.00 301.55 L327.60 300.23 L328.20 300.86 L328.80 299.53 L329.40 301.02 L330.00 301.30 L330.60 300.75 L331.20 300.83 L331.80 302.99 L332.40 300.60 L333.00 300.81 L333.60 301.08 L334.20 302.76 L334.80 303.55 L335.40 302.21 L336.00 301.44 L336.60 301.74 L337.20 303.01 L337.80 301.49 L338.40 303.45 L339.00 303.49 L339.60 302.47 L340.20 303.00 L340.80 303.14 L341.40 303.85 L342.00 301.82 L342.60 303.67 L343.20 302.49 L343.80 302.23 L344.40 302.98 L345.00 302.79 L345.60 302.23 L346.20 301.79 L346.80 302.37 L347.40 304.35 L348.00 304.81 L348.60 303.81 L349.20 304.30 L349.80 302.99 L350.40 303.39 L351.00 303.73 L351.60 302.70 L352.20 302.82 L352.80 303.75 L353.40 303.47 L354.00 302.92 L354.60 304.14 L355.20 303.67 L355.80 304.75 L356.40 303.99 L357.00 303.80 L357.60 304.20 L358.20 304.01 L358.80 303.67 L359.40 303.94 L360.00 304.91 L360.60 304.88 L361.20 305.45 L361.80 303.12 L362.40 304.21 L363.00 304.24 L363.60 304.76 L364.20 304.31 L364.80 304.31 L365.40 305.40 L366.00 304.96 L366.60 303.93 L367.20 305.97 L367.80 305.75 L368.40 304.53 L369.00 305.70 L369.60 304.48 L370.20 306.01 L370.80 304.97 L371.40 304.54 L372.00 304.91 L372.60 304.63 L373.20 305.43 L373.80 305.44 L374.40 305.36 L375.00 304.91 L375.60 302.45 L376.20 305.48 L376.80 303.91 L377.40 305.65 L378.00 306.38 L378.60 305.71 L379.20 305.21 L379.80 305.40 L380.40 305.45 L381.00 305.14 L381.60 305.14 L382.20 304.89 L382.80 306.60 L383.40 305.66 L384.00 306.47 L384.60 305.53 L385.20 305.81 L385.80 305.65 L386.40 306.18 L387.00 306.51 L387.60 306.07 L388.20 305.37 L388.80 305.32 L389.40 307.31 L390.00 305.80 L390.60 305.84 L391.20 307.29 L391.80 307.04 L392.40 306.65 L393.00 305.97 L393.60 308.26 L394.20 306.79 L394.80 307.03 L395.40 306.58 L396.00 305.72 L396.60 305.92 L397.20 307.46 L397.80 307.60 L398.40 307.25 L399.00 306.65 L399.60 306.58 L400.20 307.60 L400.80 306.83 L401.40 308.83 L402.00 309.13 L402.60 310.56 L403.20 309.07 L403.80 307.95 L404.40 307.78 L405.00 305.77 L405.60 308.10 L406.20 308.49 L406.80 309.45 L407.40 309.21 L408.00 309.24 L408.60 308.98 L409.20 309.38 L409.80 310.05 L410.40 308.08 L411.00 308.61 L411.60 307.90 L412.20 310.35 L412.80 310.12 L413.40 309.72 L414.00 308.20 L414.60 309.33 L415.20 309.03 L415.80 309.31 L416.40 309.12 L417.00 309.72 L417.60 309.01 L418.20 310.03 L418.80 309.57 L419.40 309.16 L420.00 309.32 L420.60 309.08 L421.20 310.09 L421.80 309.24 L422.40 309.70 L423.00 309.16 L423.60 308.30 L424.20 310.22 L424.80 308.65 L425.40 310.04 L426.00 309.83 L426.60 308.17 L427.20 308.73 L427.80 309.07 L428.40 308.82 L429.00 308.52 L429.60 310.04 L430.20 309.24 L430.80 309.72 L431.40 309.05 L432.00 309.62 L432.60 308.75 L433.20 309.30 L433.80 309.76 L434.40 309.30 L435.00 308.87 L435.60 308.34 L436.20 309.31 L436.80 309.42 L437.40 308.90 L438.00 308.46 L438.60 309.47 L439.20 310.98 L439.80 308.72 L440.40 309.19 L441.00 309.18 L441.60 306.79 L442.20 308.90 L442.80 308.20 L443.40 309.83 L444.00 308.47 L444.60 308.01 L445.20 308.42 L445.80 308.69 L446.40 308.06 L447.00 308.43 L447.60 307.34 L448.20 308.20 L448.80 308.96 L449.40 309.86 L450.00 308.80 L450.60 308.39 L451.20 309.06 L451.80 308.87 L452.40 309.32 L453.00 308.79 L453.60 307.76 L454.20 308.00 L454.80 307.87 L455.40 307.90 L456.00 307.75 L456.60 306.91 L457.20 305.79 L457.80 306.88 L458.40 305.74 L459.00 307.37 L459.60 307.27 L460.20 305.88 L460.80 307.72 L461.40 307.82 L462.00 307.16 L462.60 308.37 L463.20 308.49 L463.80 305.99 L464.40 307.74 L465.00 307.22 L465.60 307.16 L466.20 307.53 L466.80 306.17 L467.40 306.23 L468.00 306.01 L468.60 306.03 L469.20 306.51 L469.80 305.39 L470.40 305.68 L471.00 306.95 L471.60 306.40 L472.20 306.73 L472.80 304.88 L473.40 305.73 L474.00 305.89 L474.60 306.33 L475.20 305.81 L475.80 307.00 L476.40 306.19" fill="none" stroke="#4f4f4f" stroke-width="4.6" stroke-linejoin="round"/>
<text x="470" y="82" font-size="16" text-anchor="end" fill="#000" >BNPAC-Zn/K</text>
<text x="470" y="155.7" font-size="16" text-anchor="end" fill="#000" >NPAC-Zn/K</text>
<text x="470" y="224.3" font-size="16" text-anchor="end" fill="#000" >NPAC-Zn</text>
<text x="470" y="294.7" font-size="16" text-anchor="end" fill="#000" >NPAC-K</text>
<rect x="584.6" y="18.3" width="372.9" height="300.5" fill="none" stroke="#000" stroke-width="2"/>
<line x1="584.50" y1="318.8" x2="584.50" y2="313.8" stroke="#000" stroke-width="2"/>
<text x="584.5" y="341" font-size="19" text-anchor="middle" fill="#000" >500</text>
<line x1="631.06" y1="318.8" x2="631.06" y2="315.8" stroke="#000" stroke-width="2"/>
<line x1="677.62" y1="318.8" x2="677.62" y2="313.8" stroke="#000" stroke-width="2"/>
<text x="677.6" y="341" font-size="19" text-anchor="middle" fill="#000" >1000</text>
<line x1="724.19" y1="318.8" x2="724.19" y2="315.8" stroke="#000" stroke-width="2"/>
<line x1="770.75" y1="318.8" x2="770.75" y2="313.8" stroke="#000" stroke-width="2"/>
<text x="770.8" y="341" font-size="19" text-anchor="middle" fill="#000" >1500</text>
<line x1="817.31" y1="318.8" x2="817.31" y2="315.8" stroke="#000" stroke-width="2"/>
<line x1="863.88" y1="318.8" x2="863.88" y2="313.8" stroke="#000" stroke-width="2"/>
<text x="863.9" y="341" font-size="19" text-anchor="middle" fill="#000" >2000</text>
<line x1="910.44" y1="318.8" x2="910.44" y2="315.8" stroke="#000" stroke-width="2"/>
<line x1="957.00" y1="318.8" x2="957.00" y2="313.8" stroke="#000" stroke-width="2"/>
<text x="957" y="341" font-size="19" text-anchor="middle" fill="#000" >2500</text>
<text x="684" y="377.7" font-size="22">Raman shift (cm<tspan font-size="14" dy="-9">-1</tspan><tspan dy="9">)</tspan></text>
<text transform="translate(558.5,160.9) rotate(-90)" font-size="22" text-anchor="middle">Intensity (a.u.)</text>
<text x="515.5" y="54.3" font-size="49.5" text-anchor="start" fill="#000" >b</text>
<path d="M586.00 102.49 L586.50 102.47 L587.00 102.81 L587.50 102.21 L588.00 103.00 L588.50 102.65 L589.00 102.49 L589.50 102.42 L590.00 102.65 L590.50 102.89 L591.00 102.84 L591.50 102.55 L592.00 102.79 L592.50 102.40 L593.00 102.95 L593.50 102.30 L594.00 101.27 L594.50 102.96 L595.00 102.34 L595.50 101.68 L596.00 102.16 L596.50 101.81 L597.00 103.29 L597.50 102.48 L598.00 101.43 L598.50 102.48 L599.00 101.99 L599.50 103.14 L600.00 101.65 L600.50 101.04 L601.00 102.18 L601.50 101.97 L602.00 101.92 L602.50 101.05 L603.00 102.32 L603.50 102.93 L604.00 101.13 L604.50 102.66 L605.00 101.78 L605.50 103.23 L606.00 102.26 L606.50 101.94 L607.00 102.57 L607.50 102.27 L608.00 101.70 L608.50 102.34 L609.00 101.72 L609.50 101.07 L610.00 102.97 L610.50 101.77 L611.00 101.63 L611.50 102.09 L612.00 101.13 L612.50 101.22 L613.00 101.64 L613.50 101.62 L614.00 101.90 L614.50 102.42 L615.00 101.61 L615.50 102.08 L616.00 102.12 L616.50 101.27 L617.00 101.92 L617.50 101.32 L618.00 102.31 L618.50 102.00 L619.00 101.77 L619.50 101.08 L620.00 101.79 L620.50 101.34 L621.00 102.07 L621.50 101.64 L622.00 101.29 L622.50 102.14 L623.00 102.03 L623.50 101.36 L624.00 102.23 L624.50 101.49 L625.00 101.47 L625.50 101.68 L626.00 101.23 L626.50 101.37 L627.00 101.50 L627.50 102.34 L628.00 102.31 L628.50 101.42 L629.00 102.34 L629.50 101.51 L630.00 101.71 L630.50 101.95 L631.00 101.64 L631.50 102.69 L632.00 101.60 L632.50 100.86 L633.00 102.11 L633.50 101.24 L634.00 101.28 L634.50 99.92 L635.00 101.91 L635.50 101.81 L636.00 101.79 L636.50 101.87 L637.00 102.21 L637.50 101.33 L638.00 101.81 L638.50 100.96 L639.00 101.14 L639.50 101.84 L640.00 101.50 L640.50 100.62 L641.00 101.46 L641.50 101.18 L642.00 100.85 L642.50 101.47 L643.00 101.04 L643.50 100.44 L644.00 100.66 L644.50 102.09 L645.00 100.44 L645.50 101.30 L646.00 101.49 L646.50 101.49 L647.00 100.55 L647.50 101.00 L648.00 101.22 L648.50 101.54 L649.00 100.81 L649.50 100.54 L650.00 101.61 L650.50 101.65 L651.00 101.28 L651.50 100.78 L652.00 101.28 L652.50 101.12 L653.00 101.47 L653.50 100.42 L654.00 101.09 L654.50 100.94 L655.00 100.46 L655.50 101.11 L656.00 101.01 L656.50 100.78 L657.00 101.17 L657.50 100.25 L658.00 100.92 L658.50 101.15 L659.00 101.06 L659.50 101.44 L660.00 100.29 L660.50 100.12 L661.00 100.98 L661.50 101.08 L662.00 101.89 L662.50 101.12 L663.00 100.36 L663.50 101.19 L664.00 100.34 L664.50 100.00 L665.00 102.03 L665.50 100.87 L666.00 101.04 L666.50 100.94 L667.00 101.54 L667.50 100.75 L668.00 101.19 L668.50 100.04 L669.00 99.83 L669.50 101.21 L670.00 101.20 L670.50 100.68 L671.00 100.51 L671.50 100.44 L672.00 99.97 L672.50 101.05 L673.00 100.56 L673.50 100.44 L674.00 100.33 L674.50 100.61 L675.00 100.27 L675.50 100.31 L676.00 99.28 L676.50 100.03 L677.00 100.77 L677.50 99.32 L678.00 99.41 L678.50 99.80 L679.00 99.72 L679.50 99.43 L680.00 98.18 L680.50 99.11 L681.00 98.13 L681.50 98.18 L682.00 98.72 L682.50 98.15 L683.00 98.56 L683.50 99.58 L684.00 98.24 L684.50 98.06 L685.00 97.10 L685.50 97.07 L686.00 96.70 L686.50 96.81 L687.00 96.38 L687.50 96.44 L688.00 96.51 L688.50 95.95 L689.00 95.59 L689.50 95.47 L690.00 96.23 L690.50 95.88 L691.00 96.21 L691.50 96.07 L692.00 95.22 L692.50 95.57 L693.00 94.35 L693.50 96.05 L694.00 95.34 L694.50 94.47 L695.00 93.82 L695.50 94.42 L696.00 93.12 L696.50 93.48 L697.00 94.06 L697.50 93.54 L698.00 93.06 L698.50 93.59 L699.00 92.39 L699.50 92.85 L700.00 92.25 L700.50 91.86 L701.00 92.30 L701.50 91.36 L702.00 92.58 L702.50 91.11 L703.00 92.17 L703.50 90.39 L704.00 91.01 L704.50 89.86 L705.00 89.54 L705.50 90.04 L706.00 90.04 L706.50 88.80 L707.00 89.76 L707.50 88.50 L708.00 88.68 L708.50 88.52 L709.00 88.33 L709.50 86.84 L710.00 88.24 L710.50 87.40 L711.00 86.59 L711.50 85.96 L712.00 85.29 L712.50 85.11 L713.00 85.72 L713.50 84.91 L714.00 84.14 L714.50 84.06 L715.00 84.71 L715.50 83.35 L716.00 82.79 L716.50 83.32 L717.00 82.42 L717.50 81.74 L718.00 80.93 L718.50 79.96 L719.00 79.64 L719.50 79.46 L720.00 79.05 L720.50 78.78 L721.00 78.31 L721.50 77.56 L722.00 76.96 L722.50 75.73 L723.00 74.53 L723.50 74.70 L724.00 73.82 L724.50 73.25 L725.00 72.67 L725.50 71.37 L726.00 70.58 L726.50 70.19 L727.00 69.38 L727.50 68.05 L728.00 67.66 L728.50 66.31 L729.00 64.92 L729.50 64.45 L730.00 64.38 L730.50 62.11 L731.00 62.04 L731.50 61.18 L732.00 60.26 L732.50 58.07 L733.00 58.42 L733.50 56.37 L734.00 55.07 L734.50 53.96 L735.00 53.28 L735.50 51.92 L736.00 50.77 L736.50 50.51 L737.00 48.59 L737.50 47.59 L738.00 47.76 L738.50 47.05 L739.00 46.57 L739.50 44.80 L740.00 45.24 L740.50 44.37 L741.00 44.55 L741.50 42.72 L742.00 43.31 L742.50 43.08 L743.00 42.50 L743.50 43.06 L744.00 44.14 L744.50 43.54 L745.00 43.64 L745.50 44.68 L746.00 44.99 L746.50 45.33 L747.00 44.92 L747.50 45.89 L748.00 47.14 L748.50 47.10 L749.00 47.92 L749.50 49.62 L750.00 50.95 L750.50 50.56 L751.00 50.81 L751.50 52.33 L752.00 53.47 L752.50 54.77 L753.00 55.99 L753.50 56.55 L754.00 57.28 L754.50 58.76 L755.00 59.29 L755.50 60.85 L756.00 61.65 L756.50 64.38 L757.00 64.46 L757.50 64.59 L758.00 65.37 L758.50 66.41 L759.00 66.44 L759.50 67.38 L760.00 67.70 L760.50 68.64 L761.00 68.02 L761.50 67.87 L762.00 67.62 L762.50 67.73 L763.00 68.31 L763.50 68.25 L764.00 68.94 L764.50 68.07 L765.00 68.92 L765.50 68.53 L766.00 68.40 L766.50 67.37 L767.00 67.69 L767.50 68.64 L768.00 68.88 L768.50 68.17 L769.00 68.33 L769.50 67.61 L770.00 67.47 L770.50 67.16 L771.00 67.80 L771.50 67.29 L772.00 66.80 L772.50 66.55 L773.00 66.78 L773.50 66.45 L774.00 65.64 L774.50 66.65 L775.00 65.60 L775.50 65.11 L776.00 65.44 L776.50 64.77 L777.00 63.73 L777.50 63.52 L778.00 62.15 L778.50 61.78 L779.00 60.34 L779.50 61.33 L780.00 58.88 L780.50 59.16 L781.00 57.30 L781.50 56.03 L782.00 55.18 L782.50 54.13 L783.00 53.02 L783.50 52.32 L784.00 50.36 L784.50 49.37 L785.00 47.14 L785.50 46.16 L786.00 44.17 L786.50 42.19 L787.00 40.83 L787.50 39.53 L788.00 38.67 L788.50 38.20 L789.00 37.68 L789.50 37.95 L790.00 39.43 L790.50 39.24 L791.00 41.02 L791.50 43.50 L792.00 42.85 L792.50 45.65 L793.00 48.96 L793.50 51.03 L794.00 56.76 L794.50 57.92 L795.00 63.60 L795.50 67.01 L796.00 69.48 L796.50 71.21 L797.00 73.75 L797.50 75.31 L798.00 78.26 L798.50 79.30 L799.00 81.58 L799.50 83.93 L800.00 84.40 L800.50 86.09 L801.00 87.45 L801.50 87.55 L802.00 89.59 L802.50 89.92 L803.00 89.71 L803.50 91.12 L804.00 91.39 L804.50 92.05 L805.00 92.98 L805.50 93.10 L806.00 94.41 L806.50 94.00 L807.00 95.22 L807.50 95.04 L808.00 95.77 L808.50 95.30 L809.00 95.49 L809.50 95.30 L810.00 96.29 L810.50 96.58 L811.00 97.29 L811.50 96.98 L812.00 96.57 L812.50 96.44 L813.00 96.84 L813.50 96.73 L814.00 97.57 L814.50 97.40 L815.00 96.59 L815.50 96.75 L816.00 97.86 L816.50 97.41 L817.00 97.21 L817.50 97.99 L818.00 97.27 L818.50 97.39 L819.00 97.36 L819.50 96.67 L820.00 98.14 L820.50 97.16 L821.00 97.54 L821.50 97.50 L822.00 98.28 L822.50 97.93 L823.00 98.01 L823.50 97.21 L824.00 98.04 L824.50 97.38 L825.00 98.31 L825.50 98.37 L826.00 98.21 L826.50 99.27 L827.00 98.54 L827.50 98.60 L828.00 98.39 L828.50 98.25 L829.00 98.85 L829.50 98.93 L830.00 97.75 L830.50 98.94 L831.00 98.69 L831.50 98.93 L832.00 98.70 L832.50 97.86 L833.00 97.91 L833.50 99.43 L834.00 98.66 L834.50 97.84 L835.00 98.73 L835.50 98.39 L836.00 97.67 L836.50 97.46 L837.00 97.82 L837.50 98.77 L838.00 98.63 L838.50 98.54 L839.00 98.82 L839.50 98.99 L840.00 97.66 L840.50 98.57 L841.00 98.32 L841.50 98.13 L842.00 98.49 L842.50 98.71 L843.00 98.66 L843.50 98.07 L844.00 98.57 L844.50 99.83 L845.00 98.31 L845.50 98.01 L846.00 99.00 L846.50 99.17 L847.00 99.12 L847.50 98.34 L848.00 99.41 L848.50 98.53 L849.00 98.37 L849.50 98.64 L850.00 98.90 L850.50 99.33 L851.00 99.29 L851.50 98.98 L852.00 99.47 L852.50 99.05 L853.00 99.47 L853.50 98.33 L854.00 98.25 L854.50 99.44 L855.00 98.37 L855.50 98.92 L856.00 99.03 L856.50 98.85 L857.00 98.87 L857.50 99.80 L858.00 97.85 L858.50 99.57 L859.00 100.28 L859.50 99.16 L860.00 99.14 L860.50 99.52 L861.00 100.08 L861.50 98.58 L862.00 99.23 L862.50 99.10 L863.00 99.48 L863.50 99.29 L864.00 99.54 L864.50 99.01 L865.00 99.25 L865.50 98.90 L866.00 98.91 L866.50 99.18 L867.00 99.18 L867.50 98.67 L868.00 100.05 L868.50 99.21 L869.00 98.59 L869.50 99.84 L870.00 98.92 L870.50 99.55 L871.00 99.29 L871.50 99.43 L872.00 99.40 L872.50 99.03 L873.00 99.34 L873.50 100.34 L874.00 98.21 L874.50 99.37 L875.00 99.56 L875.50 98.82 L876.00 98.66 L876.50 100.43 L877.00 99.17 L877.50 100.40 L878.00 99.63 L878.50 99.40 L879.00 99.60 L879.50 99.69 L880.00 99.96 L880.50 99.59 L881.00 99.45 L881.50 99.47 L882.00 100.06 L882.50 99.79 L883.00 98.89 L883.50 99.07 L884.00 99.56 L884.50 99.08 L885.00 99.20 L885.50 98.92 L886.00 99.26 L886.50 99.61 L887.00 99.90 L887.50 99.40 L888.00 100.44 L888.50 99.36 L889.00 101.00 L889.50 99.90 L890.00 99.65 L890.50 99.15 L891.00 97.99 L891.50 99.32 L892.00 99.49 L892.50 100.36 L893.00 98.70 L893.50 100.34 L894.00 99.26 L894.50 99.75 L895.00 98.11 L895.50 99.45 L896.00 99.20 L896.50 99.71 L897.00 99.41 L897.50 98.79 L898.00 99.83 L898.50 99.70 L899.00 99.65 L899.50 99.85 L900.00 99.89 L900.50 99.32 L901.00 98.64 L901.50 98.62 L902.00 99.98 L902.50 99.66 L903.00 99.34 L903.50 99.07 L904.00 99.29 L904.50 99.28 L905.00 99.09 L905.50 98.90 L906.00 100.32 L906.50 99.34 L907.00 98.92 L907.50 98.56 L908.00 98.84 L908.50 99.55 L909.00 99.55 L909.50 99.05 L910.00 99.18 L910.50 98.99 L911.00 98.57 L911.50 99.77 L912.00 99.29 L912.50 100.33 L913.00 98.70 L913.50 98.99 L914.00 99.49 L914.50 98.91 L915.00 98.32 L915.50 98.53 L916.00 99.04 L916.50 99.14 L917.00 98.91 L917.50 99.44 L918.00 99.42 L918.50 99.07 L919.00 98.91 L919.50 98.75 L920.00 99.13 L920.50 99.30 L921.00 98.85 L921.50 99.03 L922.00 98.63 L922.50 98.06 L923.00 98.25 L923.50 99.11 L924.00 98.94 L924.50 99.49 L925.00 98.70 L925.50 99.09 L926.00 99.30 L926.50 99.11 L927.00 98.29 L927.50 98.48 L928.00 98.62 L928.50 98.04 L929.00 98.75 L929.50 99.00 L930.00 98.23 L930.50 99.43 L931.00 98.28 L931.50 98.30 L932.00 98.26 L932.50 98.00 L933.00 98.54 L933.50 98.32 L934.00 99.11 L934.50 98.56 L935.00 98.51 L935.50 98.10 L936.00 97.48 L936.50 98.12 L937.00 97.71 L937.50 98.59 L938.00 98.07 L938.50 98.90 L939.00 98.41 L939.50 98.43 L940.00 98.10 L940.50 98.06 L941.00 98.26 L941.50 98.37 L942.00 97.53 L942.50 98.10 L943.00 99.14 L943.50 97.75 L944.00 97.64 L944.50 97.40 L945.00 96.99 L945.50 98.28 L946.00 97.69 L946.50 97.78 L947.00 98.53 L947.50 98.83 L948.00 97.10 L948.50 98.04 L949.00 97.80 L949.50 97.66 L950.00 97.67 L950.50 97.39 L951.00 98.17 L951.50 97.65 L952.00 97.48 L952.50 97.90 L953.00 97.70 L953.50 97.45 L954.00 97.35 L954.50 98.04 L955.00 97.38 L955.50 97.05 L956.00 96.64 L956.50 96.86" fill="none" stroke="#008c00" stroke-width="2.3" stroke-linejoin="round"/>
<path d="M586.00 157.94 L586.50 158.49 L587.00 158.55 L587.50 157.38 L588.00 158.39 L588.50 158.69 L589.00 158.43 L589.50 157.85 L590.00 158.94 L590.50 157.94 L591.00 157.65 L591.50 157.71 L592.00 158.22 L592.50 158.70 L593.00 158.77 L593.50 158.27 L594.00 157.55 L594.50 157.80 L595.00 157.67 L595.50 158.01 L596.00 157.19 L596.50 158.11 L597.00 158.36 L597.50 157.95 L598.00 158.23 L598.50 157.52 L599.00 157.24 L599.50 157.63 L600.00 158.51 L600.50 158.43 L601.00 157.67 L601.50 158.48 L602.00 157.70 L602.50 158.60 L603.00 158.07 L603.50 157.59 L604.00 158.19 L604.50 157.39 L605.00 157.29 L605.50 157.02 L606.00 157.86 L606.50 157.68 L607.00 157.66 L607.50 157.47 L608.00 158.38 L608.50 157.43 L609.00 157.27 L609.50 158.24 L610.00 158.31 L610.50 157.75 L611.00 156.70 L611.50 157.25 L612.00 157.84 L612.50 157.53 L613.00 158.28 L613.50 156.81 L614.00 157.81 L614.50 157.14 L615.00 158.10 L615.50 157.39 L616.00 157.93 L616.50 157.07 L617.00 156.68 L617.50 156.81 L618.00 157.05 L618.50 156.83 L619.00 157.93 L619.50 157.98 L620.00 157.43 L620.50 156.77 L621.00 157.21 L621.50 156.91 L622.00 157.97 L622.50 157.39 L623.00 157.46 L623.50 157.00 L624.00 156.18 L624.50 156.79 L625.00 156.60 L625.50 157.33 L626.00 157.18 L626.50 156.72 L627.00 156.91 L627.50 157.88 L628.00 156.60 L628.50 156.61 L629.00 156.94 L629.50 156.69 L630.00 156.82 L630.50 157.28 L631.00 157.87 L631.50 156.10 L632.00 156.97 L632.50 156.99 L633.00 156.92 L633.50 156.85 L634.00 156.76 L634.50 157.43 L635.00 156.68 L635.50 156.84 L636.00 156.89 L636.50 156.93 L637.00 156.78 L637.50 157.35 L638.00 156.84 L638.50 156.92 L639.00 156.80 L639.50 156.31 L640.00 156.39 L640.50 156.26 L641.00 156.88 L641.50 156.41 L642.00 156.23 L642.50 156.87 L643.00 157.01 L643.50 155.85 L644.00 157.57 L644.50 156.73 L645.00 156.66 L645.50 157.24 L646.00 156.73 L646.50 156.39 L647.00 157.78 L647.50 156.14 L648.00 156.62 L648.50 157.09 L649.00 156.12 L649.50 156.60 L650.00 156.84 L650.50 157.84 L651.00 156.18 L651.50 156.60 L652.00 156.95 L652.50 156.65 L653.00 156.00 L653.50 156.80 L654.00 156.64 L654.50 156.80 L655.00 157.14 L655.50 157.07 L656.00 156.76 L656.50 156.70 L657.00 155.99 L657.50 156.46 L658.00 156.63 L658.50 156.31 L659.00 156.55 L659.50 156.08 L660.00 157.25 L660.50 157.54 L661.00 156.26 L661.50 156.64 L662.00 156.31 L662.50 157.05 L663.00 156.62 L663.50 156.42 L664.00 156.25 L664.50 156.41 L665.00 155.82 L665.50 156.63 L666.00 155.91 L666.50 156.50 L667.00 156.26 L667.50 156.71 L668.00 156.12 L668.50 156.60 L669.00 155.59 L669.50 156.32 L670.00 155.86 L670.50 156.03 L671.00 155.93 L671.50 156.32 L672.00 154.80 L672.50 155.93 L673.00 154.98 L673.50 156.30 L674.00 154.67 L674.50 155.11 L675.00 154.74 L675.50 156.35 L676.00 154.85 L676.50 155.51 L677.00 155.14 L677.50 154.47 L678.00 155.16 L678.50 155.62 L679.00 155.15 L679.50 155.67 L680.00 154.98 L680.50 155.12 L681.00 154.88 L681.50 155.19 L682.00 155.92 L682.50 155.11 L683.00 154.97 L683.50 154.52 L684.00 154.39 L684.50 155.45 L685.00 154.11 L685.50 154.15 L686.00 154.50 L686.50 154.27 L687.00 155.40 L687.50 153.17 L688.00 154.47 L688.50 154.58 L689.00 153.59 L689.50 153.75 L690.00 154.22 L690.50 154.73 L691.00 153.37 L691.50 152.94 L692.00 154.11 L692.50 154.28 L693.00 153.23 L693.50 152.17 L694.00 153.87 L694.50 152.91 L695.00 153.44 L695.50 152.71 L696.00 152.39 L696.50 152.20 L697.00 153.01 L697.50 152.83 L698.00 150.89 L698.50 151.33 L699.00 152.52 L699.50 151.28 L700.00 150.62 L700.50 151.13 L701.00 150.90 L701.50 150.73 L702.00 150.36 L702.50 150.26 L703.00 150.00 L703.50 150.20 L704.00 149.42 L704.50 149.48 L705.00 149.35 L705.50 149.86 L706.00 149.18 L706.50 148.72 L707.00 148.82 L707.50 148.52 L708.00 148.63 L708.50 148.10 L709.00 148.50 L709.50 148.03 L710.00 147.09 L710.50 146.65 L711.00 147.04 L711.50 146.59 L712.00 146.01 L712.50 145.05 L713.00 144.60 L713.50 145.40 L714.00 145.32 L714.50 145.03 L715.00 143.66 L715.50 144.49 L716.00 143.36 L716.50 143.47 L717.00 143.12 L717.50 142.14 L718.00 141.86 L718.50 140.73 L719.00 140.91 L719.50 140.06 L720.00 140.77 L720.50 140.16 L721.00 140.16 L721.50 139.45 L722.00 138.51 L722.50 138.54 L723.00 137.71 L723.50 137.74 L724.00 137.10 L724.50 135.96 L725.00 135.95 L725.50 135.46 L726.00 134.75 L726.50 134.81 L727.00 134.67 L727.50 133.06 L728.00 132.50 L728.50 130.96 L729.00 131.41 L729.50 130.61 L730.00 129.04 L730.50 129.52 L731.00 128.89 L731.50 127.42 L732.00 126.78 L732.50 125.66 L733.00 125.71 L733.50 123.77 L734.00 123.60 L734.50 123.99 L735.00 122.36 L735.50 121.93 L736.00 121.01 L736.50 119.84 L737.00 119.74 L737.50 119.28 L738.00 117.92 L738.50 117.98 L739.00 117.86 L739.50 117.28 L740.00 115.54 L740.50 115.54 L741.00 115.04 L741.50 116.34 L742.00 116.15 L742.50 116.31 L743.00 115.69 L743.50 115.76 L744.00 116.64 L744.50 116.94 L745.00 116.78 L745.50 117.62 L746.00 118.22 L746.50 118.37 L747.00 118.11 L747.50 118.04 L748.00 119.52 L748.50 120.35 L749.00 120.82 L749.50 121.46 L750.00 122.09 L750.50 123.56 L751.00 123.95 L751.50 124.80 L752.00 124.99 L752.50 125.86 L753.00 126.92 L753.50 127.05 L754.00 127.65 L754.50 128.86 L755.00 130.38 L755.50 130.62 L756.00 131.99 L756.50 131.90 L757.00 132.48 L757.50 132.56 L758.00 133.53 L758.50 135.04 L759.00 134.92 L759.50 135.48 L760.00 135.82 L760.50 135.81 L761.00 136.04 L761.50 136.52 L762.00 137.08 L762.50 137.23 L763.00 137.45 L763.50 137.44 L764.00 137.08 L764.50 137.37 L765.00 137.02 L765.50 137.96 L766.00 136.35 L766.50 137.23 L767.00 138.44 L767.50 136.97 L768.00 136.45 L768.50 136.88 L769.00 137.38 L769.50 136.49 L770.00 136.71 L770.50 136.27 L771.00 135.85 L771.50 137.41 L772.00 135.66 L772.50 135.15 L773.00 134.96 L773.50 135.18 L774.00 134.97 L774.50 134.89 L775.00 134.29 L775.50 133.18 L776.00 133.81 L776.50 133.01 L777.00 132.61 L777.50 131.56 L778.00 131.55 L778.50 130.97 L779.00 130.78 L779.50 129.51 L780.00 129.68 L780.50 129.10 L781.00 127.84 L781.50 127.42 L782.00 126.55 L782.50 126.49 L783.00 123.67 L783.50 123.56 L784.00 121.62 L784.50 120.93 L785.00 120.28 L785.50 118.32 L786.00 117.58 L786.50 116.05 L787.00 116.28 L787.50 114.58 L788.00 113.57 L788.50 111.41 L789.00 110.89 L789.50 111.74 L790.00 111.26 L790.50 111.66 L791.00 112.61 L791.50 112.63 L792.00 114.58 L792.50 115.20 L793.00 116.48 L793.50 117.31 L794.00 119.66 L794.50 121.09 L795.00 124.15 L795.50 126.56 L796.00 128.79 L796.50 130.85 L797.00 133.01 L797.50 133.20 L798.00 136.80 L798.50 138.12 L799.00 140.18 L799.50 141.82 L800.00 143.00 L800.50 145.01 L801.00 147.01 L801.50 148.54 L802.00 148.39 L802.50 148.93 L803.00 150.76 L803.50 150.20 L804.00 152.24 L804.50 151.75 L805.00 151.76 L805.50 153.12 L806.00 153.84 L806.50 152.60 L807.00 154.36 L807.50 153.64 L808.00 154.67 L808.50 153.86 L809.00 153.38 L809.50 154.54 L810.00 154.86 L810.50 155.56 L811.00 155.48 L811.50 155.07 L812.00 154.71 L812.50 154.67 L813.00 154.88 L813.50 154.70 L814.00 155.07 L814.50 154.02 L815.00 155.47 L815.50 155.45 L816.00 156.82 L816.50 155.99 L817.00 155.45 L817.50 156.04 L818.00 155.21 L818.50 155.59 L819.00 155.02 L819.50 156.73 L820.00 156.36 L820.50 155.53 L821.00 156.14 L821.50 156.69 L822.00 156.51 L822.50 156.49 L823.00 155.91 L823.50 156.06 L824.00 156.46 L824.50 156.90 L825.00 156.05 L825.50 155.93 L826.00 157.09 L826.50 156.07 L827.00 157.09 L827.50 156.69 L828.00 157.02 L828.50 157.46 L829.00 156.94 L829.50 156.99 L830.00 156.14 L830.50 156.25 L831.00 156.92 L831.50 157.37 L832.00 157.29 L832.50 157.75 L833.00 156.75 L833.50 156.69 L834.00 157.09 L834.50 156.60 L835.00 156.56 L835.50 156.06 L836.00 157.08 L836.50 156.04 L837.00 156.83 L837.50 155.86 L838.00 157.11 L838.50 156.05 L839.00 156.98 L839.50 155.76 L840.00 156.33 L840.50 157.13 L841.00 156.13 L841.50 156.57 L842.00 156.29 L842.50 155.37 L843.00 156.67 L843.50 156.72 L844.00 155.95 L844.50 156.78 L845.00 156.09 L845.50 155.98 L846.00 156.48 L846.50 156.13 L847.00 157.61 L847.50 155.67 L848.00 156.81 L848.50 156.93 L849.00 155.44 L849.50 155.55 L850.00 156.69 L850.50 156.16 L851.00 156.59 L851.50 156.95 L852.00 156.19 L852.50 155.83 L853.00 154.99 L853.50 156.45 L854.00 155.87 L854.50 156.49 L855.00 156.44 L855.50 155.62 L856.00 157.16 L856.50 156.83 L857.00 156.70 L857.50 155.68 L858.00 156.06 L858.50 155.98 L859.00 156.03 L859.50 155.67 L860.00 156.44 L860.50 156.32 L861.00 156.38 L861.50 155.93 L862.00 156.82 L862.50 156.26 L863.00 154.79 L863.50 155.82 L864.00 156.10 L864.50 156.60 L865.00 155.96 L865.50 155.97 L866.00 155.76 L866.50 156.41 L867.00 155.84 L867.50 155.75 L868.00 155.67 L868.50 156.31 L869.00 155.76 L869.50 155.17 L870.00 156.31 L870.50 155.64 L871.00 156.16 L871.50 156.15 L872.00 156.56 L872.50 156.47 L873.00 155.65 L873.50 155.84 L874.00 155.27 L874.50 156.74 L875.00 156.11 L875.50 156.58 L876.00 155.71 L876.50 154.83 L877.00 156.61 L877.50 155.88 L878.00 155.89 L878.50 155.84 L879.00 156.13 L879.50 156.06 L880.00 154.99 L880.50 156.32 L881.00 155.50 L881.50 155.52 L882.00 156.61 L882.50 156.19 L883.00 155.55 L883.50 154.79 L884.00 155.79 L884.50 155.96 L885.00 155.65 L885.50 155.05 L886.00 155.27 L886.50 155.03 L887.00 155.76 L887.50 156.05 L888.00 156.15 L888.50 155.26 L889.00 155.73 L889.50 155.88 L890.00 155.34 L890.50 155.52 L891.00 156.65 L891.50 155.68 L892.00 156.01 L892.50 155.34 L893.00 155.57 L893.50 154.69 L894.00 155.52 L894.50 156.13 L895.00 156.57 L895.50 156.11 L896.00 155.85 L896.50 155.52 L897.00 155.19 L897.50 155.40 L898.00 155.78 L898.50 155.07 L899.00 155.93 L899.50 154.96 L900.00 154.55 L900.50 154.93 L901.00 154.60 L901.50 154.73 L902.00 155.98 L902.50 155.30 L903.00 155.51 L903.50 155.97 L904.00 156.01 L904.50 155.12 L905.00 156.03 L905.50 155.55 L906.00 155.35 L906.50 155.56 L907.00 154.62 L907.50 154.93 L908.00 155.27 L908.50 155.62 L909.00 155.12 L909.50 155.23 L910.00 155.77 L910.50 155.99 L911.00 155.66 L911.50 155.90 L912.00 155.06 L912.50 155.10 L913.00 155.40 L913.50 155.09 L914.00 154.97 L914.50 156.05 L915.00 155.11 L915.50 154.72 L916.00 155.44 L916.50 156.11 L917.00 155.22 L917.50 155.79 L918.00 154.95 L918.50 154.91 L919.00 154.81 L919.50 155.07 L920.00 156.06 L920.50 154.55 L921.00 155.94 L921.50 154.61 L922.00 154.99 L922.50 155.52 L923.00 155.41 L923.50 155.23 L924.00 154.25 L924.50 155.25 L925.00 154.55 L925.50 156.34 L926.00 154.94 L926.50 155.13 L927.00 154.46 L927.50 154.79 L928.00 154.37 L928.50 155.50 L929.00 154.87 L929.50 155.28 L930.00 154.65 L930.50 154.73 L931.00 155.62 L931.50 154.48 L932.00 154.06 L932.50 155.15 L933.00 154.37 L933.50 154.72 L934.00 155.39 L934.50 154.51 L935.00 155.35 L935.50 154.57 L936.00 155.65 L936.50 155.56 L937.00 154.65 L937.50 154.77 L938.00 154.46 L938.50 154.96 L939.00 155.43 L939.50 154.13 L940.00 155.30 L940.50 154.17 L941.00 154.40 L941.50 153.93 L942.00 155.87 L942.50 154.84 L943.00 154.92 L943.50 154.45 L944.00 155.32 L944.50 153.73 L945.00 154.78 L945.50 155.87 L946.00 154.56 L946.50 154.76 L947.00 155.08 L947.50 154.33 L948.00 154.74 L948.50 155.20 L949.00 154.81 L949.50 154.89 L950.00 154.52 L950.50 154.85 L951.00 154.71 L951.50 155.41 L952.00 155.03 L952.50 154.54 L953.00 153.43 L953.50 155.01 L954.00 155.02 L954.50 154.18 L955.00 153.63 L955.50 154.05 L956.00 155.08 L956.50 154.07" fill="none" stroke="#0000f0" stroke-width="2.3" stroke-linejoin="round"/>
<path d="M586.00 232.56 L586.50 232.90 L587.00 233.40 L587.50 232.77 L588.00 232.73 L588.50 232.50 L589.00 233.59 L589.50 233.30 L590.00 232.72 L590.50 232.06 L591.00 232.36 L591.50 233.04 L592.00 232.38 L592.50 233.19 L593.00 232.92 L593.50 232.88 L594.00 233.05 L594.50 232.97 L595.00 232.29 L595.50 232.55 L596.00 233.88 L596.50 232.10 L597.00 232.46 L597.50 233.22 L598.00 232.60 L598.50 232.27 L599.00 232.01 L599.50 232.93 L600.00 233.17 L600.50 233.35 L601.00 232.68 L601.50 233.17 L602.00 232.12 L602.50 232.71 L603.00 232.29 L603.50 232.70 L604.00 232.99 L604.50 233.14 L605.00 232.10 L605.50 233.22 L606.00 232.35 L606.50 232.06 L607.00 232.48 L607.50 231.83 L608.00 232.56 L608.50 232.69 L609.00 232.44 L609.50 232.80 L610.00 232.37 L610.50 232.52 L611.00 231.79 L611.50 232.53 L612.00 232.07 L612.50 232.26 L613.00 232.43 L613.50 232.57 L614.00 231.64 L614.50 231.68 L615.00 232.30 L615.50 232.68 L616.00 232.61 L616.50 232.87 L617.00 233.07 L617.50 232.66 L618.00 232.39 L618.50 231.88 L619.00 231.91 L619.50 232.14 L620.00 232.50 L620.50 232.47 L621.00 232.35 L621.50 232.27 L622.00 232.65 L622.50 232.43 L623.00 232.47 L623.50 232.46 L624.00 232.03 L624.50 231.77 L625.00 232.53 L625.50 232.48 L626.00 232.15 L626.50 232.05 L627.00 233.38 L627.50 231.86 L628.00 232.12 L628.50 232.35 L629.00 231.63 L629.50 232.26 L630.00 233.09 L630.50 232.65 L631.00 232.49 L631.50 232.46 L632.00 232.21 L632.50 232.62 L633.00 232.06 L633.50 231.91 L634.00 232.17 L634.50 232.56 L635.00 232.26 L635.50 232.42 L636.00 231.07 L636.50 232.66 L637.00 233.23 L637.50 232.72 L638.00 231.88 L638.50 231.60 L639.00 232.16 L639.50 231.52 L640.00 232.36 L640.50 231.73 L641.00 232.46 L641.50 232.65 L642.00 230.95 L642.50 232.10 L643.00 231.59 L643.50 231.23 L644.00 231.62 L644.50 231.81 L645.00 232.42 L645.50 231.14 L646.00 232.41 L646.50 232.89 L647.00 232.17 L647.50 232.13 L648.00 231.84 L648.50 231.25 L649.00 232.10 L649.50 232.01 L650.00 232.18 L650.50 233.08 L651.00 232.15 L651.50 231.99 L652.00 232.55 L652.50 231.08 L653.00 231.17 L653.50 231.54 L654.00 231.39 L654.50 232.05 L655.00 231.53 L655.50 232.55 L656.00 232.42 L656.50 232.03 L657.00 231.44 L657.50 231.92 L658.00 232.00 L658.50 231.05 L659.00 231.74 L659.50 231.90 L660.00 231.63 L660.50 232.29 L661.00 232.09 L661.50 231.05 L662.00 231.51 L662.50 231.00 L663.00 231.69 L663.50 230.94 L664.00 231.80 L664.50 231.50 L665.00 231.75 L665.50 231.15 L666.00 230.44 L666.50 232.00 L667.00 230.97 L667.50 231.69 L668.00 231.15 L668.50 231.21 L669.00 231.72 L669.50 230.91 L670.00 231.37 L670.50 229.86 L671.00 230.97 L671.50 230.34 L672.00 230.32 L672.50 230.33 L673.00 230.43 L673.50 231.02 L674.00 229.19 L674.50 230.07 L675.00 229.63 L675.50 230.50 L676.00 229.64 L676.50 230.01 L677.00 229.51 L677.50 229.98 L678.00 230.08 L678.50 229.30 L679.00 229.45 L679.50 228.65 L680.00 229.43 L680.50 229.63 L681.00 228.85 L681.50 229.61 L682.00 227.94 L682.50 227.97 L683.00 228.12 L683.50 228.49 L684.00 228.66 L684.50 228.52 L685.00 228.44 L685.50 228.75 L686.00 228.06 L686.50 227.57 L687.00 227.49 L687.50 229.07 L688.00 226.74 L688.50 227.73 L689.00 228.44 L689.50 227.85 L690.00 227.09 L690.50 227.39 L691.00 227.71 L691.50 227.76 L692.00 226.59 L692.50 227.29 L693.00 226.91 L693.50 227.20 L694.00 227.21 L694.50 226.20 L695.00 225.50 L695.50 226.27 L696.00 226.80 L696.50 226.10 L697.00 225.71 L697.50 226.62 L698.00 224.73 L698.50 225.52 L699.00 224.60 L699.50 224.72 L700.00 224.54 L700.50 225.06 L701.00 223.62 L701.50 223.59 L702.00 222.83 L702.50 223.63 L703.00 222.90 L703.50 223.08 L704.00 222.07 L704.50 222.15 L705.00 222.56 L705.50 221.66 L706.00 221.76 L706.50 221.41 L707.00 220.66 L707.50 219.73 L708.00 220.68 L708.50 219.95 L709.00 220.02 L709.50 218.19 L710.00 218.02 L710.50 217.44 L711.00 217.72 L711.50 218.33 L712.00 217.74 L712.50 217.08 L713.00 216.81 L713.50 216.77 L714.00 215.88 L714.50 215.87 L715.00 215.38 L715.50 213.86 L716.00 214.39 L716.50 214.90 L717.00 213.64 L717.50 213.38 L718.00 212.75 L718.50 212.41 L719.00 212.79 L719.50 211.66 L720.00 210.83 L720.50 209.32 L721.00 210.11 L721.50 208.90 L722.00 208.45 L722.50 209.21 L723.00 208.60 L723.50 206.69 L724.00 207.44 L724.50 206.53 L725.00 205.11 L725.50 205.01 L726.00 202.91 L726.50 202.15 L727.00 201.01 L727.50 200.11 L728.00 200.02 L728.50 197.80 L729.00 196.77 L729.50 195.74 L730.00 195.19 L730.50 193.81 L731.00 193.31 L731.50 191.45 L732.00 190.08 L732.50 189.31 L733.00 188.34 L733.50 186.58 L734.00 185.88 L734.50 185.36 L735.00 182.88 L735.50 181.97 L736.00 181.46 L736.50 179.40 L737.00 178.35 L737.50 177.41 L738.00 177.50 L738.50 177.06 L739.00 176.24 L739.50 175.87 L740.00 176.07 L740.50 175.50 L741.00 174.08 L741.50 174.57 L742.00 174.54 L742.50 174.89 L743.00 174.56 L743.50 174.59 L744.00 175.01 L744.50 174.74 L745.00 176.07 L745.50 176.26 L746.00 177.30 L746.50 177.07 L747.00 177.90 L747.50 178.31 L748.00 179.06 L748.50 180.85 L749.00 181.25 L749.50 182.75 L750.00 183.05 L750.50 184.75 L751.00 184.93 L751.50 186.58 L752.00 187.55 L752.50 189.00 L753.00 189.65 L753.50 190.35 L754.00 191.76 L754.50 192.34 L755.00 193.41 L755.50 194.40 L756.00 194.83 L756.50 195.53 L757.00 196.59 L757.50 196.90 L758.00 197.91 L758.50 198.79 L759.00 199.07 L759.50 198.77 L760.00 198.62 L760.50 199.53 L761.00 199.77 L761.50 200.66 L762.00 200.17 L762.50 200.50 L763.00 201.19 L763.50 200.79 L764.00 201.13 L764.50 202.23 L765.00 202.25 L765.50 201.93 L766.00 201.83 L766.50 201.27 L767.00 202.05 L767.50 201.80 L768.00 201.84 L768.50 201.42 L769.00 201.59 L769.50 201.41 L770.00 201.54 L770.50 201.96 L771.00 201.27 L771.50 200.10 L772.00 200.26 L772.50 199.77 L773.00 199.97 L773.50 200.44 L774.00 200.14 L774.50 199.36 L775.00 199.45 L775.50 198.54 L776.00 197.75 L776.50 197.25 L777.00 196.96 L777.50 197.49 L778.00 195.46 L778.50 196.05 L779.00 195.35 L779.50 193.82 L780.00 193.07 L780.50 191.94 L781.00 191.35 L781.50 190.79 L782.00 189.45 L782.50 188.68 L783.00 187.31 L783.50 185.27 L784.00 183.54 L784.50 181.56 L785.00 179.98 L785.50 177.50 L786.00 176.60 L786.50 174.88 L787.00 172.47 L787.50 171.98 L788.00 168.52 L788.50 166.97 L789.00 166.43 L789.50 164.91 L790.00 165.58 L790.50 165.49 L791.00 166.22 L791.50 167.22 L792.00 168.16 L792.50 169.36 L793.00 170.11 L793.50 171.28 L794.00 172.66 L794.50 174.64 L795.00 178.59 L795.50 181.39 L796.00 185.18 L796.50 190.16 L797.00 193.55 L797.50 196.69 L798.00 199.85 L798.50 202.52 L799.00 204.08 L799.50 207.41 L800.00 209.54 L800.50 212.79 L801.00 214.86 L801.50 218.17 L802.00 219.81 L802.50 220.94 L803.00 222.80 L803.50 223.30 L804.00 224.60 L804.50 225.36 L805.00 225.69 L805.50 225.04 L806.00 226.25 L806.50 227.06 L807.00 227.31 L807.50 228.05 L808.00 227.12 L808.50 228.29 L809.00 227.94 L809.50 228.57 L810.00 228.85 L810.50 229.14 L811.00 228.64 L811.50 229.12 L812.00 228.52 L812.50 228.46 L813.00 229.51 L813.50 229.27 L814.00 228.55 L814.50 228.99 L815.00 229.48 L815.50 230.31 L816.00 230.10 L816.50 230.03 L817.00 228.79 L817.50 229.68 L818.00 230.01 L818.50 230.01 L819.00 230.06 L819.50 229.77 L820.00 230.80 L820.50 230.70 L821.00 229.94 L821.50 229.53 L822.00 231.08 L822.50 229.81 L823.00 230.71 L823.50 231.09 L824.00 229.69 L824.50 230.33 L825.00 230.03 L825.50 230.48 L826.00 230.41 L826.50 231.24 L827.00 230.58 L827.50 230.29 L828.00 230.88 L828.50 230.19 L829.00 230.16 L829.50 231.48 L830.00 229.96 L830.50 230.14 L831.00 230.42 L831.50 229.88 L832.00 229.37 L832.50 230.96 L833.00 230.05 L833.50 230.19 L834.00 230.28 L834.50 229.99 L835.00 229.96 L835.50 230.59 L836.00 231.72 L836.50 230.90 L837.00 230.91 L837.50 229.80 L838.00 230.55 L838.50 229.98 L839.00 230.97 L839.50 230.48 L840.00 230.63 L840.50 230.57 L841.00 230.34 L841.50 229.88 L842.00 230.94 L842.50 229.97 L843.00 230.08 L843.50 230.53 L844.00 230.34 L844.50 230.83 L845.00 231.22 L845.50 230.85 L846.00 230.83 L846.50 230.75 L847.00 231.18 L847.50 229.84 L848.00 230.95 L848.50 230.31 L849.00 230.17 L849.50 230.80 L850.00 230.61 L850.50 231.11 L851.00 231.37 L851.50 229.67 L852.00 230.80 L852.50 231.83 L853.00 231.29 L853.50 231.59 L854.00 230.92 L854.50 230.16 L855.00 230.33 L855.50 231.25 L856.00 231.38 L856.50 230.55 L857.00 230.79 L857.50 231.06 L858.00 230.06 L858.50 230.77 L859.00 231.76 L859.50 232.05 L860.00 230.91 L860.50 231.89 L861.00 230.71 L861.50 230.58 L862.00 229.87 L862.50 231.47 L863.00 230.81 L863.50 232.18 L864.00 231.18 L864.50 231.11 L865.00 230.12 L865.50 231.78 L866.00 230.86 L866.50 230.96 L867.00 229.94 L867.50 231.52 L868.00 231.55 L868.50 230.76 L869.00 231.11 L869.50 231.27 L870.00 231.56 L870.50 231.13 L871.00 231.95 L871.50 230.97 L872.00 230.79 L872.50 230.87 L873.00 229.83 L873.50 230.70 L874.00 231.62 L874.50 231.25 L875.00 230.71 L875.50 231.30 L876.00 230.12 L876.50 230.99 L877.00 231.40 L877.50 231.48 L878.00 230.75 L878.50 231.60 L879.00 232.08 L879.50 230.93 L880.00 231.52 L880.50 230.37 L881.00 230.17 L881.50 231.46 L882.00 231.18 L882.50 231.26 L883.00 230.87 L883.50 231.02 L884.00 231.57 L884.50 232.03 L885.00 231.06 L885.50 230.34 L886.00 231.81 L886.50 231.47 L887.00 231.51 L887.50 231.26 L888.00 232.34 L888.50 231.21 L889.00 231.43 L889.50 230.25 L890.00 230.88 L890.50 230.83 L891.00 231.16 L891.50 231.35 L892.00 230.79 L892.50 232.03 L893.00 230.63 L893.50 230.93 L894.00 231.28 L894.50 230.53 L895.00 231.43 L895.50 231.46 L896.00 230.99 L896.50 232.08 L897.00 231.16 L897.50 231.25 L898.00 230.62 L898.50 230.25 L899.00 230.77 L899.50 230.91 L900.00 230.83 L900.50 231.43 L901.00 229.84 L901.50 230.46 L902.00 230.10 L902.50 231.67 L903.00 230.70 L903.50 230.71 L904.00 230.41 L904.50 231.39 L905.00 230.72 L905.50 231.02 L906.00 229.87 L906.50 231.46 L907.00 231.06 L907.50 231.12 L908.00 231.44 L908.50 230.71 L909.00 230.70 L909.50 231.12 L910.00 230.96 L910.50 230.60 L911.00 230.72 L911.50 230.43 L912.00 231.01 L912.50 231.10 L913.00 230.61 L913.50 231.53 L914.00 229.79 L914.50 230.42 L915.00 231.37 L915.50 230.28 L916.00 229.66 L916.50 231.13 L917.00 230.68 L917.50 229.78 L918.00 230.74 L918.50 229.82 L919.00 229.63 L919.50 230.19 L920.00 230.00 L920.50 229.66 L921.00 230.00 L921.50 229.65 L922.00 230.15 L922.50 230.08 L923.00 230.43 L923.50 229.80 L924.00 229.33 L924.50 229.30 L925.00 229.81 L925.50 230.67 L926.00 230.29 L926.50 229.51 L927.00 230.27 L927.50 229.18 L928.00 230.24 L928.50 229.50 L929.00 230.05 L929.50 229.94 L930.00 229.45 L930.50 229.72 L931.00 228.98 L931.50 229.44 L932.00 229.99 L932.50 231.46 L933.00 229.72 L933.50 229.37 L934.00 228.78 L934.50 229.78 L935.00 228.38 L935.50 228.77 L936.00 229.32 L936.50 228.49 L937.00 229.83 L937.50 229.56 L938.00 228.69 L938.50 228.66 L939.00 228.23 L939.50 228.15 L940.00 229.03 L940.50 229.08 L941.00 228.90 L941.50 228.82 L942.00 228.36 L942.50 228.78 L943.00 227.82 L943.50 228.52 L944.00 229.21 L944.50 229.09 L945.00 228.15 L945.50 228.17 L946.00 228.99 L946.50 229.15 L947.00 227.46 L947.50 227.95 L948.00 228.23 L948.50 228.68 L949.00 227.61 L949.50 228.30 L950.00 227.78 L950.50 229.08 L951.00 228.06 L951.50 227.73 L952.00 227.58 L952.50 228.23 L953.00 228.00 L953.50 227.07 L954.00 227.67 L954.50 226.84 L955.00 227.09 L955.50 226.77 L956.00 226.71 L956.50 226.98" fill="none" stroke="#ff0000" stroke-width="2.3" stroke-linejoin="round"/>
<path d="M586.00 294.09 L586.50 294.84 L587.00 294.98 L587.50 294.46 L588.00 294.02 L588.50 294.98 L589.00 293.56 L589.50 293.61 L590.00 294.94 L590.50 294.91 L591.00 295.07 L591.50 294.47 L592.00 293.94 L592.50 294.32 L593.00 294.86 L593.50 294.19 L594.00 294.23 L594.50 293.88 L595.00 293.99 L595.50 295.00 L596.00 294.81 L596.50 293.99 L597.00 294.04 L597.50 294.30 L598.00 294.85 L598.50 293.99 L599.00 294.49 L599.50 293.50 L600.00 293.95 L600.50 294.79 L601.00 295.03 L601.50 294.00 L602.00 294.19 L602.50 294.98 L603.00 294.38 L603.50 294.31 L604.00 294.84 L604.50 294.68 L605.00 295.14 L605.50 294.98 L606.00 294.29 L606.50 294.52 L607.00 294.55 L607.50 293.90 L608.00 294.09 L608.50 295.07 L609.00 293.78 L609.50 295.08 L610.00 294.72 L610.50 294.51 L611.00 294.85 L611.50 294.82 L612.00 295.19 L612.50 294.38 L613.00 294.46 L613.50 294.46 L614.00 295.52 L614.50 295.05 L615.00 294.12 L615.50 294.41 L616.00 294.22 L616.50 294.59 L617.00 294.69 L617.50 295.73 L618.00 293.66 L618.50 295.10 L619.00 294.80 L619.50 294.23 L620.00 294.50 L620.50 294.33 L621.00 294.61 L621.50 295.09 L622.00 293.82 L622.50 295.24 L623.00 294.39 L623.50 295.33 L624.00 294.79 L624.50 295.20 L625.00 294.86 L625.50 295.13 L626.00 294.61 L626.50 294.16 L627.00 294.92 L627.50 294.94 L628.00 295.63 L628.50 293.58 L629.00 294.48 L629.50 295.11 L630.00 293.95 L630.50 294.47 L631.00 295.64 L631.50 295.29 L632.00 294.14 L632.50 295.30 L633.00 295.18 L633.50 294.97 L634.00 294.77 L634.50 294.70 L635.00 294.15 L635.50 294.33 L636.00 294.95 L636.50 294.65 L637.00 295.51 L637.50 294.42 L638.00 293.38 L638.50 294.42 L639.00 294.72 L639.50 294.78 L640.00 294.62 L640.50 294.17 L641.00 295.33 L641.50 294.25 L642.00 294.93 L642.50 294.43 L643.00 293.97 L643.50 295.27 L644.00 293.29 L644.50 294.11 L645.00 294.75 L645.50 294.34 L646.00 294.88 L646.50 294.45 L647.00 294.26 L647.50 295.55 L648.00 294.35 L648.50 294.36 L649.00 293.88 L649.50 294.03 L650.00 294.72 L650.50 294.66 L651.00 294.36 L651.50 293.99 L652.00 294.66 L652.50 293.45 L653.00 294.11 L653.50 294.14 L654.00 293.82 L654.50 294.30 L655.00 293.87 L655.50 293.78 L656.00 295.06 L656.50 294.51 L657.00 294.72 L657.50 294.13 L658.00 294.57 L658.50 294.45 L659.00 294.65 L659.50 295.21 L660.00 293.89 L660.50 294.12 L661.00 293.94 L661.50 292.19 L662.00 293.23 L662.50 293.92 L663.00 294.21 L663.50 293.59 L664.00 294.43 L664.50 294.49 L665.00 293.62 L665.50 294.53 L666.00 294.68 L666.50 294.02 L667.00 293.28 L667.50 294.49 L668.00 293.65 L668.50 293.53 L669.00 293.76 L669.50 293.41 L670.00 294.20 L670.50 294.03 L671.00 294.23 L671.50 293.89 L672.00 293.18 L672.50 293.47 L673.00 293.96 L673.50 293.29 L674.00 294.92 L674.50 293.31 L675.00 293.10 L675.50 293.93 L676.00 293.69 L676.50 293.26 L677.00 293.12 L677.50 293.40 L678.00 293.55 L678.50 293.46 L679.00 292.88 L679.50 293.19 L680.00 293.34 L680.50 293.24 L681.00 291.25 L681.50 292.28 L682.00 292.27 L682.50 292.48 L683.00 292.61 L683.50 292.91 L684.00 292.68 L684.50 292.24 L685.00 292.23 L685.50 293.02 L686.00 291.75 L686.50 292.13 L687.00 292.68 L687.50 291.98 L688.00 290.70 L688.50 291.82 L689.00 291.35 L689.50 291.39 L690.00 291.88 L690.50 291.49 L691.00 291.03 L691.50 291.51 L692.00 291.19 L692.50 290.92 L693.00 290.92 L693.50 290.79 L694.00 290.39 L694.50 290.23 L695.00 290.36 L695.50 289.77 L696.00 289.50 L696.50 290.66 L697.00 289.75 L697.50 289.72 L698.00 289.51 L698.50 289.42 L699.00 289.26 L699.50 289.11 L700.00 288.50 L700.50 289.19 L701.00 288.19 L701.50 288.86 L702.00 287.19 L702.50 287.42 L703.00 288.24 L703.50 287.45 L704.00 286.98 L704.50 287.28 L705.00 286.35 L705.50 286.68 L706.00 285.31 L706.50 285.96 L707.00 285.62 L707.50 285.98 L708.00 285.92 L708.50 284.82 L709.00 285.81 L709.50 284.47 L710.00 283.51 L710.50 283.11 L711.00 284.84 L711.50 283.80 L712.00 283.31 L712.50 283.04 L713.00 282.66 L713.50 283.67 L714.00 282.73 L714.50 283.45 L715.00 282.24 L715.50 280.93 L716.00 282.29 L716.50 281.44 L717.00 281.25 L717.50 281.88 L718.00 280.68 L718.50 281.09 L719.00 280.18 L719.50 279.47 L720.00 279.73 L720.50 278.75 L721.00 279.19 L721.50 278.54 L722.00 277.54 L722.50 277.22 L723.00 276.58 L723.50 275.51 L724.00 275.43 L724.50 274.19 L725.00 273.92 L725.50 272.44 L726.00 272.27 L726.50 271.73 L727.00 270.38 L727.50 269.76 L728.00 268.86 L728.50 268.61 L729.00 266.98 L729.50 266.63 L730.00 266.25 L730.50 264.74 L731.00 262.84 L731.50 262.82 L732.00 262.41 L732.50 260.93 L733.00 260.85 L733.50 259.89 L734.00 259.15 L734.50 258.22 L735.00 257.50 L735.50 257.01 L736.00 256.56 L736.50 256.19 L737.00 255.56 L737.50 254.65 L738.00 254.33 L738.50 254.05 L739.00 252.66 L739.50 252.78 L740.00 252.55 L740.50 252.72 L741.00 252.68 L741.50 252.77 L742.00 252.62 L742.50 253.61 L743.00 253.69 L743.50 253.05 L744.00 254.22 L744.50 254.00 L745.00 255.80 L745.50 255.22 L746.00 255.86 L746.50 256.82 L747.00 257.48 L747.50 258.42 L748.00 260.15 L748.50 260.46 L749.00 261.75 L749.50 262.91 L750.00 262.86 L750.50 265.17 L751.00 265.62 L751.50 266.65 L752.00 266.58 L752.50 268.18 L753.00 268.68 L753.50 268.92 L754.00 271.06 L754.50 270.93 L755.00 271.24 L755.50 272.16 L756.00 273.19 L756.50 273.94 L757.00 274.26 L757.50 275.11 L758.00 275.72 L758.50 274.77 L759.00 275.46 L759.50 275.48 L760.00 276.24 L760.50 277.14 L761.00 276.96 L761.50 276.32 L762.00 276.89 L762.50 277.72 L763.00 277.10 L763.50 277.45 L764.00 277.77 L764.50 276.80 L765.00 278.16 L765.50 277.98 L766.00 278.09 L766.50 277.31 L767.00 277.38 L767.50 277.42 L768.00 277.79 L768.50 277.63 L769.00 277.58 L769.50 278.32 L770.00 277.97 L770.50 276.84 L771.00 276.75 L771.50 277.80 L772.00 276.64 L772.50 277.34 L773.00 277.29 L773.50 276.06 L774.00 276.03 L774.50 276.03 L775.00 275.38 L775.50 275.12 L776.00 275.17 L776.50 275.51 L777.00 274.54 L777.50 274.30 L778.00 273.76 L778.50 272.87 L779.00 273.81 L779.50 271.38 L780.00 271.66 L780.50 271.66 L781.00 270.04 L781.50 270.35 L782.00 269.88 L782.50 267.76 L783.00 267.02 L783.50 264.89 L784.00 264.10 L784.50 262.18 L785.00 260.48 L785.50 259.26 L786.00 257.04 L786.50 255.61 L787.00 252.86 L787.50 249.30 L788.00 247.54 L788.50 245.66 L789.00 243.60 L789.50 245.02 L790.00 245.16 L790.50 246.61 L791.00 247.64 L791.50 249.96 L792.00 251.91 L792.50 253.52 L793.00 256.13 L793.50 257.79 L794.00 262.51 L794.50 264.33 L795.00 266.80 L795.50 270.21 L796.00 272.75 L796.50 275.44 L797.00 276.22 L797.50 278.21 L798.00 278.91 L798.50 281.74 L799.00 282.07 L799.50 283.86 L800.00 283.37 L800.50 285.13 L801.00 285.14 L801.50 286.64 L802.00 287.32 L802.50 286.72 L803.00 287.41 L803.50 287.83 L804.00 288.09 L804.50 288.88 L805.00 289.15 L805.50 289.27 L806.00 290.38 L806.50 290.92 L807.00 290.29 L807.50 290.93 L808.00 291.45 L808.50 291.55 L809.00 291.49 L809.50 292.40 L810.00 292.54 L810.50 292.55 L811.00 292.17 L811.50 293.34 L812.00 293.28 L812.50 292.28 L813.00 292.48 L813.50 293.19 L814.00 292.26 L814.50 292.91 L815.00 292.79 L815.50 292.47 L816.00 292.76 L816.50 292.13 L817.00 292.70 L817.50 292.01 L818.00 294.20 L818.50 293.85 L819.00 293.75 L819.50 293.33 L820.00 293.71 L820.50 293.88 L821.00 293.79 L821.50 293.77 L822.00 292.88 L822.50 293.58 L823.00 293.12 L823.50 292.83 L824.00 292.87 L824.50 293.67 L825.00 294.01 L825.50 292.82 L826.00 294.39 L826.50 294.27 L827.00 293.36 L827.50 293.33 L828.00 293.53 L828.50 294.07 L829.00 293.40 L829.50 293.04 L830.00 293.77 L830.50 292.57 L831.00 293.68 L831.50 294.20 L832.00 293.77 L832.50 294.02 L833.00 293.88 L833.50 294.00 L834.00 293.71 L834.50 293.23 L835.00 293.54 L835.50 293.62 L836.00 294.29 L836.50 294.48 L837.00 293.88 L837.50 293.30 L838.00 293.32 L838.50 293.59 L839.00 294.38 L839.50 293.86 L840.00 293.67 L840.50 293.32 L841.00 294.15 L841.50 293.86 L842.00 293.69 L842.50 293.77 L843.00 294.57 L843.50 293.65 L844.00 294.58 L844.50 294.36 L845.00 293.77 L845.50 294.19 L846.00 293.69 L846.50 293.34 L847.00 293.62 L847.50 293.30 L848.00 294.02 L848.50 293.77 L849.00 294.05 L849.50 294.19 L850.00 292.22 L850.50 293.93 L851.00 292.88 L851.50 293.87 L852.00 293.35 L852.50 293.84 L853.00 294.48 L853.50 292.94 L854.00 293.90 L854.50 293.76 L855.00 292.86 L855.50 294.13 L856.00 293.83 L856.50 293.56 L857.00 293.46 L857.50 295.43 L858.00 293.63 L858.50 292.92 L859.00 293.36 L859.50 293.65 L860.00 293.64 L860.50 293.80 L861.00 293.31 L861.50 294.11 L862.00 293.60 L862.50 293.16 L863.00 293.44 L863.50 293.66 L864.00 294.27 L864.50 294.09 L865.00 293.68 L865.50 293.87 L866.00 293.97 L866.50 294.88 L867.00 293.55 L867.50 294.10 L868.00 294.23 L868.50 293.39 L869.00 293.96 L869.50 293.95 L870.00 293.64 L870.50 294.16 L871.00 294.39 L871.50 294.44 L872.00 293.78 L872.50 293.97 L873.00 295.05 L873.50 293.33 L874.00 293.99 L874.50 294.33 L875.00 293.96 L875.50 294.21 L876.00 293.97 L876.50 294.26 L877.00 294.53 L877.50 293.78 L878.00 293.99 L878.50 293.86 L879.00 293.69 L879.50 293.88 L880.00 293.33 L880.50 294.27 L881.00 294.75 L881.50 294.75 L882.00 294.53 L882.50 293.41 L883.00 294.66 L883.50 293.54 L884.00 293.87 L884.50 294.82 L885.00 293.36 L885.50 294.32 L886.00 294.04 L886.50 293.82 L887.00 293.46 L887.50 294.11 L888.00 293.67 L888.50 294.42 L889.00 294.51 L889.50 293.21 L890.00 293.65 L890.50 293.74 L891.00 293.31 L891.50 293.34 L892.00 293.94 L892.50 293.79 L893.00 293.07 L893.50 293.62 L894.00 294.15 L894.50 293.28 L895.00 293.42 L895.50 294.67 L896.00 294.53 L896.50 293.06 L897.00 293.19 L897.50 294.05 L898.00 293.26 L898.50 293.72 L899.00 293.62 L899.50 294.12 L900.00 292.56 L900.50 292.72 L901.00 293.20 L901.50 294.31 L902.00 293.72 L902.50 292.94 L903.00 294.03 L903.50 294.13 L904.00 293.64 L904.50 293.59 L905.00 293.96 L905.50 294.34 L906.00 293.80 L906.50 293.98 L907.00 293.68 L907.50 293.50 L908.00 293.22 L908.50 293.79 L909.00 293.50 L909.50 293.52 L910.00 294.09 L910.50 293.86 L911.00 294.03 L911.50 292.80 L912.00 293.85 L912.50 293.26 L913.00 293.14 L913.50 293.10 L914.00 294.12 L914.50 293.91 L915.00 293.12 L915.50 292.90 L916.00 293.46 L916.50 293.20 L917.00 294.25 L917.50 292.67 L918.00 292.47 L918.50 293.24 L919.00 293.35 L919.50 293.40 L920.00 293.69 L920.50 294.33 L921.00 293.10 L921.50 292.99 L922.00 292.36 L922.50 293.34 L923.00 293.63 L923.50 293.05 L924.00 293.75 L924.50 293.16 L925.00 293.88 L925.50 293.27 L926.00 292.55 L926.50 292.74 L927.00 292.27 L927.50 292.15 L928.00 293.13 L928.50 293.41 L929.00 293.93 L929.50 292.90 L930.00 292.79 L930.50 292.33 L931.00 293.36 L931.50 293.03 L932.00 292.52 L932.50 293.14 L933.00 293.05 L933.50 291.81 L934.00 293.09 L934.50 292.77 L935.00 292.48 L935.50 292.44 L936.00 293.50 L936.50 293.37 L937.00 293.49 L937.50 291.98 L938.00 292.20 L938.50 292.96 L939.00 291.87 L939.50 292.09 L940.00 291.53 L940.50 293.33 L941.00 292.91 L941.50 292.58 L942.00 292.43 L942.50 292.09 L943.00 292.07 L943.50 292.55 L944.00 291.86 L944.50 292.81 L945.00 291.92 L945.50 291.70 L946.00 292.76 L946.50 292.01 L947.00 292.34 L947.50 291.82 L948.00 290.88 L948.50 292.25 L949.00 291.28 L949.50 292.46 L950.00 291.12 L950.50 290.93 L951.00 291.99 L951.50 292.02 L952.00 291.84 L952.50 291.15 L953.00 292.17 L953.50 290.97 L954.00 291.44 L954.50 291.25 L955.00 291.43 L955.50 292.01 L956.00 291.24 L956.50 291.81" fill="none" stroke="#555555" stroke-width="2.3" stroke-linejoin="round"/>
<text x="948" y="89.2" font-size="16" text-anchor="end" fill="#000" textLength="93" lengthAdjust="spacingAndGlyphs" >BNPAC-Zn/K</text>
<text x="948" y="147.5" font-size="16" text-anchor="end" fill="#000" textLength="83.3" lengthAdjust="spacingAndGlyphs" >NPAC-Zn/K</text>
<text x="941.5" y="218.5" font-size="16" text-anchor="end" fill="#000" textLength="66.7" lengthAdjust="spacingAndGlyphs" >NPAC-Zn</text>
<text x="943" y="285.1" font-size="16" text-anchor="end" fill="#000" textLength="59.8" lengthAdjust="spacingAndGlyphs" >NPAC-K</text>
<rect x="107.2" y="419" width="373.2" height="301" fill="none" stroke="#000" stroke-width="2"/>
<line x1="138.00" y1="720" x2="138.00" y2="715" stroke="#000" stroke-width="2"/>
<text x="138" y="742.2" font-size="19" text-anchor="middle" fill="#000" >0.0</text>
<line x1="169.05" y1="720" x2="169.05" y2="717" stroke="#000" stroke-width="2"/>
<line x1="200.10" y1="720" x2="200.10" y2="715" stroke="#000" stroke-width="2"/>
<text x="200.1" y="742.2" font-size="19" text-anchor="middle" fill="#000" >0.2</text>
<line x1="231.15" y1="720" x2="231.15" y2="717" stroke="#000" stroke-width="2"/>
<line x1="262.20" y1="720" x2="262.20" y2="715" stroke="#000" stroke-width="2"/>
<text x="262.2" y="742.2" font-size="19" text-anchor="middle" fill="#000" >0.4</text>
<line x1="293.25" y1="720" x2="293.25" y2="717" stroke="#000" stroke-width="2"/>
<line x1="324.30" y1="720" x2="324.30" y2="715" stroke="#000" stroke-width="2"/>
<text x="324.3" y="742.2" font-size="19" text-anchor="middle" fill="#000" >0.6</text>
<line x1="355.35" y1="720" x2="355.35" y2="717" stroke="#000" stroke-width="2"/>
<line x1="386.40" y1="720" x2="386.40" y2="715" stroke="#000" stroke-width="2"/>
<text x="386.4" y="742.2" font-size="19" text-anchor="middle" fill="#000" >0.8</text>
<line x1="417.45" y1="720" x2="417.45" y2="717" stroke="#000" stroke-width="2"/>
<line x1="448.50" y1="720" x2="448.50" y2="715" stroke="#000" stroke-width="2"/>
<text x="448.5" y="742.2" font-size="19" text-anchor="middle" fill="#000" >1.0</text>
<line x1="107.2" y1="703.00" x2="112.2" y2="703.00" stroke="#000" stroke-width="2"/>
<text x="100.8" y="710" font-size="19" text-anchor="end" fill="#000" >0</text>
<line x1="107.2" y1="686.27" x2="110.2" y2="686.27" stroke="#000" stroke-width="2"/>
<line x1="107.2" y1="669.55" x2="112.2" y2="669.55" stroke="#000" stroke-width="2"/>
<text x="100.8" y="676.5" font-size="19" text-anchor="end" fill="#000" >100</text>
<line x1="107.2" y1="652.83" x2="110.2" y2="652.83" stroke="#000" stroke-width="2"/>
<line x1="107.2" y1="636.10" x2="112.2" y2="636.10" stroke="#000" stroke-width="2"/>
<text x="100.8" y="643.1" font-size="19" text-anchor="end" fill="#000" >200</text>
<line x1="107.2" y1="619.38" x2="110.2" y2="619.38" stroke="#000" stroke-width="2"/>
<line x1="107.2" y1="602.65" x2="112.2" y2="602.65" stroke="#000" stroke-width="2"/>
<text x="100.8" y="609.6" font-size="19" text-anchor="end" fill="#000" >300</text>
<line x1="107.2" y1="585.92" x2="110.2" y2="585.92" stroke="#000" stroke-width="2"/>
<line x1="107.2" y1="569.20" x2="112.2" y2="569.20" stroke="#000" stroke-width="2"/>
<text x="100.8" y="576.2" font-size="19" text-anchor="end" fill="#000" >400</text>
<line x1="107.2" y1="552.48" x2="110.2" y2="552.48" stroke="#000" stroke-width="2"/>
<line x1="107.2" y1="535.75" x2="112.2" y2="535.75" stroke="#000" stroke-width="2"/>
<text x="100.8" y="542.8" font-size="19" text-anchor="end" fill="#000" >500</text>
<line x1="107.2" y1="519.02" x2="110.2" y2="519.02" stroke="#000" stroke-width="2"/>
<line x1="107.2" y1="502.30" x2="112.2" y2="502.30" stroke="#000" stroke-width="2"/>
<text x="100.8" y="509.3" font-size="19" text-anchor="end" fill="#000" >600</text>
<line x1="107.2" y1="485.57" x2="110.2" y2="485.57" stroke="#000" stroke-width="2"/>
<line x1="107.2" y1="468.85" x2="112.2" y2="468.85" stroke="#000" stroke-width="2"/>
<text x="100.8" y="475.9" font-size="19" text-anchor="end" fill="#000" >700</text>
<line x1="107.2" y1="452.12" x2="110.2" y2="452.12" stroke="#000" stroke-width="2"/>
<line x1="107.2" y1="435.40" x2="112.2" y2="435.40" stroke="#000" stroke-width="2"/>
<text x="100.8" y="442.4" font-size="19" text-anchor="end" fill="#000" >800</text>
<text x="191.5" y="775.4" font-size="21.7">Relative Presure(P/P<tspan font-size="14" dy="5">0</tspan><tspan dy="-5">)</tspan></text>
<text transform="translate(57.5,715.2) rotate(-90)" font-size="21.35">Quantity adsorbed(cm<tspan font-size="14" dy="-9">3</tspan><tspan dy="9"> g</tspan><tspan font-size="14" dy="-9">-1</tspan><tspan dy="9"> STP)</tspan></text>
<text x="11" y="451" font-size="49" text-anchor="start" fill="#000" >c</text>
<path d="M138.0 694.6 L138.1 686.3 L138.3 677.9 L138.7 669.5 L139.2 661.2 L139.9 654.5 L140.8 649.5 L153.5 639.1 L164.4 636.1 L175.3 633.1 L186.1 631.5 L197.0 629.9 L207.9 628.5 L218.7 627.2 L229.6 625.9 L240.5 624.7 L251.3 623.6 L262.2 622.4 L273.1 621.3 L283.9 620.3 L294.8 619.2 L305.7 618.0 L316.5 616.9 L327.4 615.6 L338.3 614.1 L349.1 612.6 L360.0 610.7 L370.9 608.3 L381.7 605.8 L392.6 602.3 L403.5 596.0 L414.3 585.3 L425.2 573.2 L436.1 559.8 L446.9 540.1 L437.3 547.0 L426.5 557.8 L415.6 565.5 L404.7 572.9 L393.9 581.6 L383.0 590.9 L372.1 597.6 L361.2 601.4 L350.4 603.4 L339.5 605.1 L328.6 607.1 L317.8 608.8 L306.9 609.9 L296.0 612.1 L286.1 615.8 L258.2 621.6 L247.3 623.5" fill="none" stroke="#555555" stroke-width="1.8" stroke-linejoin="round"/>
<circle cx="138.0" cy="694.6" r="4.8" fill="url(#g_gray)"/>
<circle cx="138.1" cy="686.3" r="4.8" fill="url(#g_gray)"/>
<circle cx="138.3" cy="677.9" r="4.8" fill="url(#g_gray)"/>
<circle cx="138.7" cy="669.5" r="4.8" fill="url(#g_gray)"/>
<circle cx="139.2" cy="661.2" r="4.8" fill="url(#g_gray)"/>
<circle cx="139.9" cy="654.5" r="4.8" fill="url(#g_gray)"/>
<circle cx="140.8" cy="649.5" r="4.8" fill="url(#g_gray)"/>
<circle cx="153.5" cy="639.1" r="4.8" fill="url(#g_gray)"/>
<circle cx="164.4" cy="636.1" r="4.8" fill="url(#g_gray)"/>
<circle cx="175.3" cy="633.1" r="4.8" fill="url(#g_gray)"/>
<circle cx="186.1" cy="631.5" r="4.8" fill="url(#g_gray)"/>
<circle cx="197.0" cy="629.9" r="4.8" fill="url(#g_gray)"/>
<circle cx="207.9" cy="628.5" r="4.8" fill="url(#g_gray)"/>
<circle cx="218.7" cy="627.2" r="4.8" fill="url(#g_gray)"/>
<circle cx="229.6" cy="625.9" r="4.8" fill="url(#g_gray)"/>
<circle cx="240.5" cy="624.7" r="4.8" fill="url(#g_gray)"/>
<circle cx="251.3" cy="623.6" r="4.8" fill="url(#g_gray)"/>
<circle cx="262.2" cy="622.4" r="4.8" fill="url(#g_gray)"/>
<circle cx="273.1" cy="621.3" r="4.8" fill="url(#g_gray)"/>
<circle cx="283.9" cy="620.3" r="4.8" fill="url(#g_gray)"/>
<circle cx="294.8" cy="619.2" r="4.8" fill="url(#g_gray)"/>
<circle cx="305.7" cy="618.0" r="4.8" fill="url(#g_gray)"/>
<circle cx="316.5" cy="616.9" r="4.8" fill="url(#g_gray)"/>
<circle cx="327.4" cy="615.6" r="4.8" fill="url(#g_gray)"/>
<circle cx="338.3" cy="614.1" r="4.8" fill="url(#g_gray)"/>
<circle cx="349.1" cy="612.6" r="4.8" fill="url(#g_gray)"/>
<circle cx="360.0" cy="610.7" r="4.8" fill="url(#g_gray)"/>
<circle cx="370.9" cy="608.3" r="4.8" fill="url(#g_gray)"/>
<circle cx="381.7" cy="605.8" r="4.8" fill="url(#g_gray)"/>
<circle cx="392.6" cy="602.3" r="4.8" fill="url(#g_gray)"/>
<circle cx="403.5" cy="596.0" r="4.8" fill="url(#g_gray)"/>
<circle cx="414.3" cy="585.3" r="4.8" fill="url(#g_gray)"/>
<circle cx="425.2" cy="573.2" r="4.8" fill="url(#g_gray)"/>
<circle cx="436.1" cy="559.8" r="4.8" fill="url(#g_gray)"/>
<circle cx="446.9" cy="540.1" r="4.8" fill="url(#g_gray)"/>
<circle cx="437.3" cy="547.0" r="4.8" fill="url(#g_gray)"/>
<circle cx="426.5" cy="557.8" r="4.8" fill="url(#g_gray)"/>
<circle cx="415.6" cy="565.5" r="4.8" fill="url(#g_gray)"/>
<circle cx="404.7" cy="572.9" r="4.8" fill="url(#g_gray)"/>
<circle cx="393.9" cy="581.6" r="4.8" fill="url(#g_gray)"/>
<circle cx="383.0" cy="590.9" r="4.8" fill="url(#g_gray)"/>
<circle cx="372.1" cy="597.6" r="4.8" fill="url(#g_gray)"/>
<circle cx="361.2" cy="601.4" r="4.8" fill="url(#g_gray)"/>
<circle cx="350.4" cy="603.4" r="4.8" fill="url(#g_gray)"/>
<circle cx="339.5" cy="605.1" r="4.8" fill="url(#g_gray)"/>
<circle cx="328.6" cy="607.1" r="4.8" fill="url(#g_gray)"/>
<circle cx="317.8" cy="608.8" r="4.8" fill="url(#g_gray)"/>
<circle cx="306.9" cy="609.9" r="4.8" fill="url(#g_gray)"/>
<circle cx="296.0" cy="612.1" r="4.8" fill="url(#g_gray)"/>
<circle cx="286.1" cy="615.8" r="4.8" fill="url(#g_gray)"/>
<circle cx="258.2" cy="621.6" r="4.8" fill="url(#g_gray)"/>
<circle cx="247.3" cy="623.5" r="4.8" fill="url(#g_gray)"/>
<path d="M138.0 694.6 L138.1 684.6 L138.3 674.6 L138.7 664.5 L139.2 654.5 L139.9 644.5 L140.8 636.1 L153.5 618.4 L164.4 615.7 L175.3 612.0 L186.1 610.0 L197.0 608.0 L207.9 606.5 L218.7 605.0 L229.6 604.3 L240.5 603.2 L251.3 602.4 L262.2 602.0 L273.1 601.0 L283.9 600.6 L294.8 600.8 L305.7 600.5 L316.5 600.0 L327.4 599.5 L338.3 599.0 L349.1 598.5 L360.0 598.0 L370.9 597.5 L381.7 596.8 L392.6 596.0 L403.5 595.0 L414.3 593.5 L425.2 591.3 L436.1 586.9 L446.9 574.0 L437.3 582.7 L426.5 586.4 L415.6 587.6 L404.7 588.8 L393.9 589.9 L383.0 590.6 L372.1 591.3 L361.2 592.0 L350.4 592.4 L339.5 592.9 L328.6 592.9 L317.8 593.4 L306.9 593.4 L296.0 593.4 L286.1 598.6 L258.2 601.7 L247.3 602.7" fill="none" stroke="#ff0000" stroke-width="1.8" stroke-linejoin="round"/>
<circle cx="138.0" cy="694.6" r="4.8" fill="url(#g_red)"/>
<circle cx="138.1" cy="684.6" r="4.8" fill="url(#g_red)"/>
<circle cx="138.3" cy="674.6" r="4.8" fill="url(#g_red)"/>
<circle cx="138.7" cy="664.5" r="4.8" fill="url(#g_red)"/>
<circle cx="139.2" cy="654.5" r="4.8" fill="url(#g_red)"/>
<circle cx="139.9" cy="644.5" r="4.8" fill="url(#g_red)"/>
<circle cx="140.8" cy="636.1" r="4.8" fill="url(#g_red)"/>
<circle cx="153.5" cy="618.4" r="4.8" fill="url(#g_red)"/>
<circle cx="164.4" cy="615.7" r="4.8" fill="url(#g_red)"/>
<circle cx="175.3" cy="612.0" r="4.8" fill="url(#g_red)"/>
<circle cx="186.1" cy="610.0" r="4.8" fill="url(#g_red)"/>
<circle cx="197.0" cy="608.0" r="4.8" fill="url(#g_red)"/>
<circle cx="207.9" cy="606.5" r="4.8" fill="url(#g_red)"/>
<circle cx="218.7" cy="605.0" r="4.8" fill="url(#g_red)"/>
<circle cx="229.6" cy="604.3" r="4.8" fill="url(#g_red)"/>
<circle cx="240.5" cy="603.2" r="4.8" fill="url(#g_red)"/>
<circle cx="251.3" cy="602.4" r="4.8" fill="url(#g_red)"/>
<circle cx="262.2" cy="602.0" r="4.8" fill="url(#g_red)"/>
<circle cx="273.1" cy="601.0" r="4.8" fill="url(#g_red)"/>
<circle cx="283.9" cy="600.6" r="4.8" fill="url(#g_red)"/>
<circle cx="294.8" cy="600.8" r="4.8" fill="url(#g_red)"/>
<circle cx="305.7" cy="600.5" r="4.8" fill="url(#g_red)"/>
<circle cx="316.5" cy="600.0" r="4.8" fill="url(#g_red)"/>
<circle cx="327.4" cy="599.5" r="4.8" fill="url(#g_red)"/>
<circle cx="338.3" cy="599.0" r="4.8" fill="url(#g_red)"/>
<circle cx="349.1" cy="598.5" r="4.8" fill="url(#g_red)"/>
<circle cx="360.0" cy="598.0" r="4.8" fill="url(#g_red)"/>
<circle cx="370.9" cy="597.5" r="4.8" fill="url(#g_red)"/>
<circle cx="381.7" cy="596.8" r="4.8" fill="url(#g_red)"/>
<circle cx="392.6" cy="596.0" r="4.8" fill="url(#g_red)"/>
<circle cx="403.5" cy="595.0" r="4.8" fill="url(#g_red)"/>
<circle cx="414.3" cy="593.5" r="4.8" fill="url(#g_red)"/>
<circle cx="425.2" cy="591.3" r="4.8" fill="url(#g_red)"/>
<circle cx="436.1" cy="586.9" r="4.8" fill="url(#g_red)"/>
<circle cx="446.9" cy="574.0" r="4.8" fill="url(#g_red)"/>
<circle cx="437.3" cy="582.7" r="4.8" fill="url(#g_red)"/>
<circle cx="426.5" cy="586.4" r="4.8" fill="url(#g_red)"/>
<circle cx="415.6" cy="587.6" r="4.8" fill="url(#g_red)"/>
<circle cx="404.7" cy="588.8" r="4.8" fill="url(#g_red)"/>
<circle cx="393.9" cy="589.9" r="4.8" fill="url(#g_red)"/>
<circle cx="383.0" cy="590.6" r="4.8" fill="url(#g_red)"/>
<circle cx="372.1" cy="591.3" r="4.8" fill="url(#g_red)"/>
<circle cx="361.2" cy="592.0" r="4.8" fill="url(#g_red)"/>
<circle cx="350.4" cy="592.4" r="4.8" fill="url(#g_red)"/>
<circle cx="339.5" cy="592.9" r="4.8" fill="url(#g_red)"/>
<circle cx="328.6" cy="592.9" r="4.8" fill="url(#g_red)"/>
<circle cx="317.8" cy="593.4" r="4.8" fill="url(#g_red)"/>
<circle cx="306.9" cy="593.4" r="4.8" fill="url(#g_red)"/>
<circle cx="296.0" cy="593.4" r="4.8" fill="url(#g_red)"/>
<circle cx="286.1" cy="598.6" r="4.8" fill="url(#g_red)"/>
<circle cx="258.2" cy="601.7" r="4.8" fill="url(#g_red)"/>
<circle cx="247.3" cy="602.7" r="4.8" fill="url(#g_red)"/>
<path d="M138.0 695.6 L138.0 686.3 L138.1 676.9 L138.3 667.5 L138.4 658.2 L138.7 648.8 L139.0 639.4 L139.4 630.1 L139.8 620.7 L140.3 612.0 L140.8 604.3 L153.5 577.2 L164.4 568.4 L175.3 561.5 L186.1 556.2 L197.0 552.5 L207.9 549.5 L218.7 546.8 L229.6 545.0 L240.5 543.1 L251.3 541.4 L262.2 540.1 L273.1 538.9 L283.9 537.9 L294.8 537.0 L305.7 536.2 L316.5 535.3 L327.4 534.6 L338.3 534.0 L349.1 533.4 L360.0 532.8 L370.9 532.1 L381.7 531.4 L392.6 530.4 L403.5 529.4 L414.3 528.5 L425.2 524.9 L436.1 517.4 L446.9 502.3 L437.3 509.1 L426.5 514.2 L415.6 517.1 L404.7 518.3 L393.9 519.0 L383.0 520.4 L372.1 521.4 L361.2 522.1 L350.4 522.7 L339.5 523.0 L328.6 523.4 L317.8 524.1 L306.9 524.7 L296.0 531.9 L286.1 536.1 L258.2 541.2 L247.3 544.1" fill="none" stroke="#0000ff" stroke-width="1.8" stroke-linejoin="round"/>
<circle cx="138.0" cy="695.6" r="4.8" fill="url(#g_blue)"/>
<circle cx="138.0" cy="686.3" r="4.8" fill="url(#g_blue)"/>
<circle cx="138.1" cy="676.9" r="4.8" fill="url(#g_blue)"/>
<circle cx="138.3" cy="667.5" r="4.8" fill="url(#g_blue)"/>
<circle cx="138.4" cy="658.2" r="4.8" fill="url(#g_blue)"/>
<circle cx="138.7" cy="648.8" r="4.8" fill="url(#g_blue)"/>
<circle cx="139.0" cy="639.4" r="4.8" fill="url(#g_blue)"/>
<circle cx="139.4" cy="630.1" r="4.8" fill="url(#g_blue)"/>
<circle cx="139.8" cy="620.7" r="4.8" fill="url(#g_blue)"/>
<circle cx="140.3" cy="612.0" r="4.8" fill="url(#g_blue)"/>
<circle cx="140.8" cy="604.3" r="4.8" fill="url(#g_blue)"/>
<circle cx="153.5" cy="577.2" r="4.8" fill="url(#g_blue)"/>
<circle cx="164.4" cy="568.4" r="4.8" fill="url(#g_blue)"/>
<circle cx="175.3" cy="561.5" r="4.8" fill="url(#g_blue)"/>
<circle cx="186.1" cy="556.2" r="4.8" fill="url(#g_blue)"/>
<circle cx="197.0" cy="552.5" r="4.8" fill="url(#g_blue)"/>
<circle cx="207.9" cy="549.5" r="4.8" fill="url(#g_blue)"/>
<circle cx="218.7" cy="546.8" r="4.8" fill="url(#g_blue)"/>
<circle cx="229.6" cy="545.0" r="4.8" fill="url(#g_blue)"/>
<circle cx="240.5" cy="543.1" r="4.8" fill="url(#g_blue)"/>
<circle cx="251.3" cy="541.4" r="4.8" fill="url(#g_blue)"/>
<circle cx="262.2" cy="540.1" r="4.8" fill="url(#g_blue)"/>
<circle cx="273.1" cy="538.9" r="4.8" fill="url(#g_blue)"/>
<circle cx="283.9" cy="537.9" r="4.8" fill="url(#g_blue)"/>
<circle cx="294.8" cy="537.0" r="4.8" fill="url(#g_blue)"/>
<circle cx="305.7" cy="536.2" r="4.8" fill="url(#g_blue)"/>
<circle cx="316.5" cy="535.3" r="4.8" fill="url(#g_blue)"/>
<circle cx="327.4" cy="534.6" r="4.8" fill="url(#g_blue)"/>
<circle cx="338.3" cy="534.0" r="4.8" fill="url(#g_blue)"/>
<circle cx="349.1" cy="533.4" r="4.8" fill="url(#g_blue)"/>
<circle cx="360.0" cy="532.8" r="4.8" fill="url(#g_blue)"/>
<circle cx="370.9" cy="532.1" r="4.8" fill="url(#g_blue)"/>
<circle cx="381.7" cy="531.4" r="4.8" fill="url(#g_blue)"/>
<circle cx="392.6" cy="530.4" r="4.8" fill="url(#g_blue)"/>
<circle cx="403.5" cy="529.4" r="4.8" fill="url(#g_blue)"/>
<circle cx="414.3" cy="528.5" r="4.8" fill="url(#g_blue)"/>
<circle cx="425.2" cy="524.9" r="4.8" fill="url(#g_blue)"/>
<circle cx="436.1" cy="517.4" r="4.8" fill="url(#g_blue)"/>
<circle cx="446.9" cy="502.3" r="4.8" fill="url(#g_blue)"/>
<circle cx="437.3" cy="509.1" r="4.8" fill="url(#g_blue)"/>
<circle cx="426.5" cy="514.2" r="4.8" fill="url(#g_blue)"/>
<circle cx="415.6" cy="517.1" r="4.8" fill="url(#g_blue)"/>
<circle cx="404.7" cy="518.3" r="4.8" fill="url(#g_blue)"/>
<circle cx="393.9" cy="519.0" r="4.8" fill="url(#g_blue)"/>
<circle cx="383.0" cy="520.4" r="4.8" fill="url(#g_blue)"/>
<circle cx="372.1" cy="521.4" r="4.8" fill="url(#g_blue)"/>
<circle cx="361.2" cy="522.1" r="4.8" fill="url(#g_blue)"/>
<circle cx="350.4" cy="522.7" r="4.8" fill="url(#g_blue)"/>
<circle cx="339.5" cy="523.0" r="4.8" fill="url(#g_blue)"/>
<circle cx="328.6" cy="523.4" r="4.8" fill="url(#g_blue)"/>
<circle cx="317.8" cy="524.1" r="4.8" fill="url(#g_blue)"/>
<circle cx="306.9" cy="524.7" r="4.8" fill="url(#g_blue)"/>
<circle cx="296.0" cy="531.9" r="4.8" fill="url(#g_blue)"/>
<circle cx="286.1" cy="536.1" r="4.8" fill="url(#g_blue)"/>
<circle cx="258.2" cy="541.2" r="4.8" fill="url(#g_blue)"/>
<circle cx="247.3" cy="544.1" r="4.8" fill="url(#g_blue)"/>
<path d="M138.0 694.6 L138.0 685.6 L138.1 676.2 L138.2 668.2 L138.4 659.8 L138.6 651.8 L138.8 643.8 L139.1 636.4 L139.5 629.1 L139.9 621.7 L140.3 615.0 L140.8 608.0 L153.5 580.2 L164.4 570.1 L175.3 564.7 L186.1 559.7 L197.0 556.4 L207.9 553.6 L218.7 550.8 L229.6 548.1 L240.5 545.7 L251.3 544.4 L262.2 543.1 L273.1 541.4 L283.9 541.1 L294.8 539.4 L305.7 537.8 L316.5 536.4 L327.4 535.4 L338.3 533.8 L349.1 532.4 L360.0 531.4 L370.9 530.4 L381.7 528.4 L392.6 526.3 L403.5 523.4 L414.3 518.6 L425.2 510.4 L436.1 492.3 L446.9 446.1 L437.3 465.9 L426.5 477.8 L415.6 485.4 L404.7 489.8 L393.9 492.9 L383.0 495.0 L372.1 496.8 L361.2 497.8 L350.4 499.3 L339.5 500.0 L328.6 501.0 L317.8 502.0 L306.9 503.3 L296.0 505.5 L286.1 534.4 L258.2 543.4 L247.3 545.0" fill="none" stroke="#008800" stroke-width="1.8" stroke-linejoin="round"/>
<circle cx="138.0" cy="694.6" r="4.8" fill="url(#g_green)"/>
<circle cx="138.0" cy="685.6" r="4.8" fill="url(#g_green)"/>
<circle cx="138.1" cy="676.2" r="4.8" fill="url(#g_green)"/>
<circle cx="138.2" cy="668.2" r="4.8" fill="url(#g_green)"/>
<circle cx="138.4" cy="659.8" r="4.8" fill="url(#g_green)"/>
<circle cx="138.6" cy="651.8" r="4.8" fill="url(#g_green)"/>
<circle cx="138.8" cy="643.8" r="4.8" fill="url(#g_green)"/>
<circle cx="139.1" cy="636.4" r="4.8" fill="url(#g_green)"/>
<circle cx="139.5" cy="629.1" r="4.8" fill="url(#g_green)"/>
<circle cx="139.9" cy="621.7" r="4.8" fill="url(#g_green)"/>
<circle cx="140.3" cy="615.0" r="4.8" fill="url(#g_green)"/>
<circle cx="140.8" cy="608.0" r="4.8" fill="url(#g_green)"/>
<circle cx="153.5" cy="580.2" r="4.8" fill="url(#g_green)"/>
<circle cx="164.4" cy="570.1" r="4.8" fill="url(#g_green)"/>
<circle cx="175.3" cy="564.7" r="4.8" fill="url(#g_green)"/>
<circle cx="186.1" cy="559.7" r="4.8" fill="url(#g_green)"/>
<circle cx="197.0" cy="556.4" r="4.8" fill="url(#g_green)"/>
<circle cx="207.9" cy="553.6" r="4.8" fill="url(#g_green)"/>
<circle cx="218.7" cy="550.8" r="4.8" fill="url(#g_green)"/>
<circle cx="229.6" cy="548.1" r="4.8" fill="url(#g_green)"/>
<circle cx="240.5" cy="545.7" r="4.8" fill="url(#g_green)"/>
<circle cx="251.3" cy="544.4" r="4.8" fill="url(#g_green)"/>
<circle cx="262.2" cy="543.1" r="4.8" fill="url(#g_green)"/>
<circle cx="273.1" cy="541.4" r="4.8" fill="url(#g_green)"/>
<circle cx="283.9" cy="541.1" r="4.8" fill="url(#g_green)"/>
<circle cx="294.8" cy="539.4" r="4.8" fill="url(#g_green)"/>
<circle cx="305.7" cy="537.8" r="4.8" fill="url(#g_green)"/>
<circle cx="316.5" cy="536.4" r="4.8" fill="url(#g_green)"/>
<circle cx="327.4" cy="535.4" r="4.8" fill="url(#g_green)"/>
<circle cx="338.3" cy="533.8" r="4.8" fill="url(#g_green)"/>
<circle cx="349.1" cy="532.4" r="4.8" fill="url(#g_green)"/>
<circle cx="360.0" cy="531.4" r="4.8" fill="url(#g_green)"/>
<circle cx="370.9" cy="530.4" r="4.8" fill="url(#g_green)"/>
<circle cx="381.7" cy="528.4" r="4.8" fill="url(#g_green)"/>
<circle cx="392.6" cy="526.3" r="4.8" fill="url(#g_green)"/>
<circle cx="403.5" cy="523.4" r="4.8" fill="url(#g_green)"/>
<circle cx="414.3" cy="518.6" r="4.8" fill="url(#g_green)"/>
<circle cx="425.2" cy="510.4" r="4.8" fill="url(#g_green)"/>
<circle cx="436.1" cy="492.3" r="4.8" fill="url(#g_green)"/>
<circle cx="446.9" cy="446.1" r="4.8" fill="url(#g_green)"/>
<circle cx="437.3" cy="465.9" r="4.8" fill="url(#g_green)"/>
<circle cx="426.5" cy="477.8" r="4.8" fill="url(#g_green)"/>
<circle cx="415.6" cy="485.4" r="4.8" fill="url(#g_green)"/>
<circle cx="404.7" cy="489.8" r="4.8" fill="url(#g_green)"/>
<circle cx="393.9" cy="492.9" r="4.8" fill="url(#g_green)"/>
<circle cx="383.0" cy="495.0" r="4.8" fill="url(#g_green)"/>
<circle cx="372.1" cy="496.8" r="4.8" fill="url(#g_green)"/>
<circle cx="361.2" cy="497.8" r="4.8" fill="url(#g_green)"/>
<circle cx="350.4" cy="499.3" r="4.8" fill="url(#g_green)"/>
<circle cx="339.5" cy="500.0" r="4.8" fill="url(#g_green)"/>
<circle cx="328.6" cy="501.0" r="4.8" fill="url(#g_green)"/>
<circle cx="317.8" cy="502.0" r="4.8" fill="url(#g_green)"/>
<circle cx="306.9" cy="503.3" r="4.8" fill="url(#g_green)"/>
<circle cx="296.0" cy="505.5" r="4.8" fill="url(#g_green)"/>
<circle cx="286.1" cy="534.4" r="4.8" fill="url(#g_green)"/>
<circle cx="258.2" cy="543.4" r="4.8" fill="url(#g_green)"/>
<circle cx="247.3" cy="545.0" r="4.8" fill="url(#g_green)"/>
<line x1="132.5" y1="435.7" x2="168.5" y2="435.7" stroke="#555555" stroke-width="1.6"/>
<circle cx="150.4" cy="435.7" r="4.8" fill="url(#g_gray)"/>
<text x="173" y="441.7" font-size="15.7" text-anchor="start" fill="#000" >NPAC-K</text>
<line x1="132.5" y1="455.3" x2="168.5" y2="455.3" stroke="#ff0000" stroke-width="1.6"/>
<circle cx="150.4" cy="455.3" r="4.8" fill="url(#g_red)"/>
<text x="173" y="461.3" font-size="15.7" text-anchor="start" fill="#000" >NPAC-Zn</text>
<line x1="132.5" y1="475.2" x2="168.5" y2="475.2" stroke="#0000ff" stroke-width="1.6"/>
<circle cx="150.4" cy="475.2" r="4.8" fill="url(#g_blue)"/>
<text x="173" y="481.2" font-size="15.7" text-anchor="start" fill="#000" >NPAC-Zn/K</text>
<line x1="132.5" y1="494.8" x2="168.5" y2="494.8" stroke="#008800" stroke-width="1.6"/>
<circle cx="150.4" cy="494.8" r="4.8" fill="url(#g_green)"/>
<text x="173" y="500.8" font-size="15.7" text-anchor="start" fill="#000" >BNPAC-Zn/K</text>
<rect x="585" y="418.5" width="372.5" height="301.5" fill="none" stroke="#000" stroke-width="2"/>
<line x1="597.20" y1="720" x2="597.20" y2="717" stroke="#000" stroke-width="2"/>
<line x1="617.42" y1="720" x2="617.42" y2="717" stroke="#000" stroke-width="2"/>
<line x1="633.10" y1="720" x2="633.10" y2="715" stroke="#000" stroke-width="2"/>
<line x1="681.81" y1="720" x2="681.81" y2="717" stroke="#000" stroke-width="2"/>
<line x1="730.51" y1="720" x2="730.51" y2="717" stroke="#000" stroke-width="2"/>
<line x1="759.00" y1="720" x2="759.00" y2="717" stroke="#000" stroke-width="2"/>
<line x1="779.22" y1="720" x2="779.22" y2="717" stroke="#000" stroke-width="2"/>
<line x1="794.90" y1="720" x2="794.90" y2="715" stroke="#000" stroke-width="2"/>
<line x1="843.61" y1="720" x2="843.61" y2="717" stroke="#000" stroke-width="2"/>
<line x1="892.31" y1="720" x2="892.31" y2="717" stroke="#000" stroke-width="2"/>
<line x1="920.80" y1="720" x2="920.80" y2="717" stroke="#000" stroke-width="2"/>
<line x1="941.02" y1="720" x2="941.02" y2="717" stroke="#000" stroke-width="2"/>
<text x="633.1" y="742.2" font-size="19" text-anchor="middle" fill="#000" >1</text>
<text x="794.9" y="742.2" font-size="19" text-anchor="middle" fill="#000" >10</text>
<text x="956.7" y="742.2" font-size="19" text-anchor="middle" fill="#000" >100</text>
<line x1="585" y1="696.50" x2="590" y2="696.50" stroke="#000" stroke-width="2"/>
<line x1="585" y1="673.40" x2="588" y2="673.40" stroke="#000" stroke-width="2"/>
<line x1="585" y1="650.30" x2="590" y2="650.30" stroke="#000" stroke-width="2"/>
<line x1="585" y1="627.20" x2="588" y2="627.20" stroke="#000" stroke-width="2"/>
<line x1="585" y1="604.10" x2="590" y2="604.10" stroke="#000" stroke-width="2"/>
<line x1="585" y1="581.00" x2="588" y2="581.00" stroke="#000" stroke-width="2"/>
<line x1="585" y1="557.90" x2="590" y2="557.90" stroke="#000" stroke-width="2"/>
<line x1="585" y1="534.80" x2="588" y2="534.80" stroke="#000" stroke-width="2"/>
<line x1="585" y1="511.70" x2="590" y2="511.70" stroke="#000" stroke-width="2"/>
<line x1="585" y1="488.60" x2="588" y2="488.60" stroke="#000" stroke-width="2"/>
<line x1="585" y1="465.50" x2="590" y2="465.50" stroke="#000" stroke-width="2"/>
<line x1="585" y1="442.40" x2="588" y2="442.40" stroke="#000" stroke-width="2"/>
<text x="577.5" y="703" font-size="19" text-anchor="end" fill="#000" >0</text>
<text x="577.5" y="656.8" font-size="19" text-anchor="end" fill="#000" >1</text>
<text x="577.5" y="610.6" font-size="19" text-anchor="end" fill="#000" >2</text>
<text x="577.5" y="564.4" font-size="19" text-anchor="end" fill="#000" >3</text>
<text x="577.5" y="518.2" font-size="19" text-anchor="end" fill="#000" >4</text>
<text x="577.5" y="472" font-size="19" text-anchor="end" fill="#000" >5</text>
<text x="577.5" y="425.8" font-size="19" text-anchor="end" fill="#000" >6</text>
<text x="673.5" y="769.2" font-size="21.5">Pore Diameter(nm)</text>
<text transform="translate(551.2,719.3) rotate(-90)" font-size="21.75">dV/dlog(W)Pore Volume(cm<tspan font-size="14" dy="-9">3</tspan><tspan dy="9">g</tspan><tspan font-size="14" dy="-9">-1</tspan><tspan dy="9">)</tspan></text>
<text x="503.5" y="458" font-size="48.5" text-anchor="start" fill="#000" >d</text>
<line x1="682" y1="418.9" x2="682" y2="719" stroke="#333" stroke-width="1.4" stroke-dasharray="3.8,3.8"/>
<clipPath id="clipd"><rect x="586" y="419.5" width="370.5" height="299.5"/></clipPath><g clip-path="url(#clipd)">
<path d="M600.8 630.0 L604.4 675.7 L607.0 691.0 L611.0 691.9 L614.5 691.0 L618.5 690.0 L622.0 694.2 L626.0 696.5 L630.0 696.5 L634.0 696.5 L638.8 650.3 L644.8 660.5 L650.0 673.4 L655.0 677.6 L659.0 678.9 L663.4 686.8 L667.5 683.6 L671.8 680.8 L676.0 689.6 L680.0 694.2 L684.0 696.5 L688.0 696.5 L691.5 696.5 L695.7 695.6 L700.0 696.5 L705.0 696.5 L710.0 696.5 L715.0 696.5 L720.0 696.5 L725.0 696.5 L730.0 694.2 L737.1 682.6 L743.2 678.5 L747.3 677.6 L753.8 675.7 L758.0 674.8 L763.0 672.5 L769.5 676.6 L773.0 687.3 L777.0 694.2 L782.2 645.2 L786.0 694.2 L790.0 694.2 L794.8 614.3 L798.0 695.6 L802.0 696.5 L806.0 695.6 L809.5 694.2 L813.6 556.5 L819.1 663.2 L822.2 667.4 L827.9 671.6 L831.7 676.6 L836.0 681.7 L842.0 682.6 L850.6 679.4 L856.0 678.0 L862.0 676.6 L871.4 676.6 L877.0 678.0 L882.8 679.4 L888.0 680.3 L894.2 681.3 L900.0 682.2 L905.5 683.1 L911.0 684.0 L916.9 685.0 L921.0 691.9 L925.0 696.5 L928.2 696.5 L931.4 696.5 L934.6 696.5 L937.8 696.5 L941.0 696.5 L944.2 696.5 L947.4 696.5 L950.6 696.5 L953.8 696.5 L957.0 696.5" fill="none" stroke="#555555" stroke-width="1.6" stroke-linejoin="round"/>
<circle cx="600.8" cy="630.0" r="4.5" fill="url(#g_gray)"/>
<circle cx="604.4" cy="675.7" r="4.5" fill="url(#g_gray)"/>
<circle cx="607.0" cy="691.0" r="4.5" fill="url(#g_gray)"/>
<circle cx="611.0" cy="691.9" r="4.5" fill="url(#g_gray)"/>
<circle cx="614.5" cy="691.0" r="4.5" fill="url(#g_gray)"/>
<circle cx="618.5" cy="690.0" r="4.5" fill="url(#g_gray)"/>
<circle cx="622.0" cy="694.2" r="4.5" fill="url(#g_gray)"/>
<circle cx="626.0" cy="696.5" r="4.5" fill="url(#g_gray)"/>
<circle cx="630.0" cy="696.5" r="4.5" fill="url(#g_gray)"/>
<circle cx="634.0" cy="696.5" r="4.5" fill="url(#g_gray)"/>
<circle cx="638.8" cy="650.3" r="4.5" fill="url(#g_gray)"/>
<circle cx="644.8" cy="660.5" r="4.5" fill="url(#g_gray)"/>
<circle cx="650.0" cy="673.4" r="4.5" fill="url(#g_gray)"/>
<circle cx="655.0" cy="677.6" r="4.5" fill="url(#g_gray)"/>
<circle cx="659.0" cy="678.9" r="4.5" fill="url(#g_gray)"/>
<circle cx="663.4" cy="686.8" r="4.5" fill="url(#g_gray)"/>
<circle cx="667.5" cy="683.6" r="4.5" fill="url(#g_gray)"/>
<circle cx="671.8" cy="680.8" r="4.5" fill="url(#g_gray)"/>
<circle cx="676.0" cy="689.6" r="4.5" fill="url(#g_gray)"/>
<circle cx="680.0" cy="694.2" r="4.5" fill="url(#g_gray)"/>
<circle cx="684.0" cy="696.5" r="4.5" fill="url(#g_gray)"/>
<circle cx="688.0" cy="696.5" r="4.5" fill="url(#g_gray)"/>
<circle cx="691.5" cy="696.5" r="4.5" fill="url(#g_gray)"/>
<circle cx="695.7" cy="695.6" r="4.5" fill="url(#g_gray)"/>
<circle cx="700.0" cy="696.5" r="4.5" fill="url(#g_gray)"/>
<circle cx="705.0" cy="696.5" r="4.5" fill="url(#g_gray)"/>
<circle cx="710.0" cy="696.5" r="4.5" fill="url(#g_gray)"/>
<circle cx="715.0" cy="696.5" r="4.5" fill="url(#g_gray)"/>
<circle cx="720.0" cy="696.5" r="4.5" fill="url(#g_gray)"/>
<circle cx="725.0" cy="696.5" r="4.5" fill="url(#g_gray)"/>
<circle cx="730.0" cy="694.2" r="4.5" fill="url(#g_gray)"/>
<circle cx="737.1" cy="682.6" r="4.5" fill="url(#g_gray)"/>
<circle cx="743.2" cy="678.5" r="4.5" fill="url(#g_gray)"/>
<circle cx="747.3" cy="677.6" r="4.5" fill="url(#g_gray)"/>
<circle cx="753.8" cy="675.7" r="4.5" fill="url(#g_gray)"/>
<circle cx="758.0" cy="674.8" r="4.5" fill="url(#g_gray)"/>
<circle cx="763.0" cy="672.5" r="4.5" fill="url(#g_gray)"/>
<circle cx="769.5" cy="676.6" r="4.5" fill="url(#g_gray)"/>
<circle cx="773.0" cy="687.3" r="4.5" fill="url(#g_gray)"/>
<circle cx="777.0" cy="694.2" r="4.5" fill="url(#g_gray)"/>
<circle cx="782.2" cy="645.2" r="4.5" fill="url(#g_gray)"/>
<circle cx="786.0" cy="694.2" r="4.5" fill="url(#g_gray)"/>
<circle cx="790.0" cy="694.2" r="4.5" fill="url(#g_gray)"/>
<circle cx="794.8" cy="614.3" r="4.5" fill="url(#g_gray)"/>
<circle cx="798.0" cy="695.6" r="4.5" fill="url(#g_gray)"/>
<circle cx="802.0" cy="696.5" r="4.5" fill="url(#g_gray)"/>
<circle cx="806.0" cy="695.6" r="4.5" fill="url(#g_gray)"/>
<circle cx="809.5" cy="694.2" r="4.5" fill="url(#g_gray)"/>
<circle cx="813.6" cy="556.5" r="4.5" fill="url(#g_gray)"/>
<circle cx="819.1" cy="663.2" r="4.5" fill="url(#g_gray)"/>
<circle cx="822.2" cy="667.4" r="4.5" fill="url(#g_gray)"/>
<circle cx="827.9" cy="671.6" r="4.5" fill="url(#g_gray)"/>
<circle cx="831.7" cy="676.6" r="4.5" fill="url(#g_gray)"/>
<circle cx="836.0" cy="681.7" r="4.5" fill="url(#g_gray)"/>
<circle cx="842.0" cy="682.6" r="4.5" fill="url(#g_gray)"/>
<circle cx="850.6" cy="679.4" r="4.5" fill="url(#g_gray)"/>
<circle cx="856.0" cy="678.0" r="4.5" fill="url(#g_gray)"/>
<circle cx="862.0" cy="676.6" r="4.5" fill="url(#g_gray)"/>
<circle cx="871.4" cy="676.6" r="4.5" fill="url(#g_gray)"/>
<circle cx="877.0" cy="678.0" r="4.5" fill="url(#g_gray)"/>
<circle cx="882.8" cy="679.4" r="4.5" fill="url(#g_gray)"/>
<circle cx="888.0" cy="680.3" r="4.5" fill="url(#g_gray)"/>
<circle cx="894.2" cy="681.3" r="4.5" fill="url(#g_gray)"/>
<circle cx="900.0" cy="682.2" r="4.5" fill="url(#g_gray)"/>
<circle cx="905.5" cy="683.1" r="4.5" fill="url(#g_gray)"/>
<circle cx="911.0" cy="684.0" r="4.5" fill="url(#g_gray)"/>
<circle cx="916.9" cy="685.0" r="4.5" fill="url(#g_gray)"/>
<circle cx="921.0" cy="691.9" r="4.5" fill="url(#g_gray)"/>
<circle cx="925.0" cy="696.5" r="4.5" fill="url(#g_gray)"/>
<circle cx="928.2" cy="696.5" r="4.5" fill="url(#g_gray)"/>
<circle cx="931.4" cy="696.5" r="4.5" fill="url(#g_gray)"/>
<circle cx="934.6" cy="696.5" r="4.5" fill="url(#g_gray)"/>
<circle cx="937.8" cy="696.5" r="4.5" fill="url(#g_gray)"/>
<circle cx="941.0" cy="696.5" r="4.5" fill="url(#g_gray)"/>
<circle cx="944.2" cy="696.5" r="4.5" fill="url(#g_gray)"/>
<circle cx="947.4" cy="696.5" r="4.5" fill="url(#g_gray)"/>
<circle cx="950.6" cy="696.5" r="4.5" fill="url(#g_gray)"/>
<circle cx="953.8" cy="696.5" r="4.5" fill="url(#g_gray)"/>
<circle cx="957.0" cy="696.5" r="4.5" fill="url(#g_gray)"/>
<path d="M605.5 460.0 L607.0 627.2 L610.6 690.0 L614.5 675.7 L618.5 672.5 L622.0 694.2 L626.0 696.5 L630.0 696.5 L634.0 696.5 L637.2 625.8 L644.2 654.9 L648.5 661.9 L653.8 672.5 L658.0 661.9 L662.2 672.5 L666.4 661.9 L670.0 668.8 L672.4 676.6 L676.0 673.4 L679.6 662.8 L681.4 685.4 L685.0 680.3 L689.0 678.0 L692.0 679.4 L696.7 681.3 L702.1 686.8 L706.2 691.0 L711.9 693.3 L718.5 695.6 L724.0 696.5 L731.6 698.8 L738.0 695.6 L745.0 693.7 L752.0 692.8 L759.0 691.9 L765.0 692.8 L772.0 695.1 L777.0 696.5 L782.2 686.3 L786.0 696.5 L790.0 696.5 L794.8 682.6 L798.0 696.5 L802.0 695.6 L806.0 694.7 L809.5 694.2 L813.1 675.7 L818.4 692.8 L826.0 695.6 L834.0 697.4 L841.0 696.0 L848.0 694.2 L856.0 692.8 L862.0 691.0 L869.0 691.9 L876.0 691.0 L883.0 691.9 L890.0 693.7 L897.0 692.8 L905.0 694.2 L912.0 693.7 L919.0 694.7 L925.0 696.5 L928.2 696.5 L931.4 696.5 L934.6 696.5 L937.8 696.5 L941.0 696.5 L944.2 696.5 L947.4 696.5 L950.6 696.5 L953.8 696.5 L957.0 696.5" fill="none" stroke="#ff0000" stroke-width="1.6" stroke-linejoin="round"/>
<circle cx="605.5" cy="460.0" r="4.5" fill="url(#g_red)"/>
<circle cx="607.0" cy="627.2" r="4.5" fill="url(#g_red)"/>
<circle cx="610.6" cy="690.0" r="4.5" fill="url(#g_red)"/>
<circle cx="614.5" cy="675.7" r="4.5" fill="url(#g_red)"/>
<circle cx="618.5" cy="672.5" r="4.5" fill="url(#g_red)"/>
<circle cx="622.0" cy="694.2" r="4.5" fill="url(#g_red)"/>
<circle cx="626.0" cy="696.5" r="4.5" fill="url(#g_red)"/>
<circle cx="630.0" cy="696.5" r="4.5" fill="url(#g_red)"/>
<circle cx="634.0" cy="696.5" r="4.5" fill="url(#g_red)"/>
<circle cx="637.2" cy="625.8" r="4.5" fill="url(#g_red)"/>
<circle cx="644.2" cy="654.9" r="4.5" fill="url(#g_red)"/>
<circle cx="648.5" cy="661.9" r="4.5" fill="url(#g_red)"/>
<circle cx="653.8" cy="672.5" r="4.5" fill="url(#g_red)"/>
<circle cx="658.0" cy="661.9" r="4.5" fill="url(#g_red)"/>
<circle cx="662.2" cy="672.5" r="4.5" fill="url(#g_red)"/>
<circle cx="666.4" cy="661.9" r="4.5" fill="url(#g_red)"/>
<circle cx="670.0" cy="668.8" r="4.5" fill="url(#g_red)"/>
<circle cx="672.4" cy="676.6" r="4.5" fill="url(#g_red)"/>
<circle cx="676.0" cy="673.4" r="4.5" fill="url(#g_red)"/>
<circle cx="679.6" cy="662.8" r="4.5" fill="url(#g_red)"/>
<circle cx="681.4" cy="685.4" r="4.5" fill="url(#g_red)"/>
<circle cx="685.0" cy="680.3" r="4.5" fill="url(#g_red)"/>
<circle cx="689.0" cy="678.0" r="4.5" fill="url(#g_red)"/>
<circle cx="692.0" cy="679.4" r="4.5" fill="url(#g_red)"/>
<circle cx="696.7" cy="681.3" r="4.5" fill="url(#g_red)"/>
<circle cx="702.1" cy="686.8" r="4.5" fill="url(#g_red)"/>
<circle cx="706.2" cy="691.0" r="4.5" fill="url(#g_red)"/>
<circle cx="711.9" cy="693.3" r="4.5" fill="url(#g_red)"/>
<circle cx="718.5" cy="695.6" r="4.5" fill="url(#g_red)"/>
<circle cx="724.0" cy="696.5" r="4.5" fill="url(#g_red)"/>
<circle cx="731.6" cy="698.8" r="4.5" fill="url(#g_red)"/>
<circle cx="738.0" cy="695.6" r="4.5" fill="url(#g_red)"/>
<circle cx="745.0" cy="693.7" r="4.5" fill="url(#g_red)"/>
<circle cx="752.0" cy="692.8" r="4.5" fill="url(#g_red)"/>
<circle cx="759.0" cy="691.9" r="4.5" fill="url(#g_red)"/>
<circle cx="765.0" cy="692.8" r="4.5" fill="url(#g_red)"/>
<circle cx="772.0" cy="695.1" r="4.5" fill="url(#g_red)"/>
<circle cx="777.0" cy="696.5" r="4.5" fill="url(#g_red)"/>
<circle cx="782.2" cy="686.3" r="4.5" fill="url(#g_red)"/>
<circle cx="786.0" cy="696.5" r="4.5" fill="url(#g_red)"/>
<circle cx="790.0" cy="696.5" r="4.5" fill="url(#g_red)"/>
<circle cx="794.8" cy="682.6" r="4.5" fill="url(#g_red)"/>
<circle cx="798.0" cy="696.5" r="4.5" fill="url(#g_red)"/>
<circle cx="802.0" cy="695.6" r="4.5" fill="url(#g_red)"/>
<circle cx="806.0" cy="694.7" r="4.5" fill="url(#g_red)"/>
<circle cx="809.5" cy="694.2" r="4.5" fill="url(#g_red)"/>
<circle cx="813.1" cy="675.7" r="4.5" fill="url(#g_red)"/>
<circle cx="818.4" cy="692.8" r="4.5" fill="url(#g_red)"/>
<circle cx="826.0" cy="695.6" r="4.5" fill="url(#g_red)"/>
<circle cx="834.0" cy="697.4" r="4.5" fill="url(#g_red)"/>
<circle cx="841.0" cy="696.0" r="4.5" fill="url(#g_red)"/>
<circle cx="848.0" cy="694.2" r="4.5" fill="url(#g_red)"/>
<circle cx="856.0" cy="692.8" r="4.5" fill="url(#g_red)"/>
<circle cx="862.0" cy="691.0" r="4.5" fill="url(#g_red)"/>
<circle cx="869.0" cy="691.9" r="4.5" fill="url(#g_red)"/>
<circle cx="876.0" cy="691.0" r="4.5" fill="url(#g_red)"/>
<circle cx="883.0" cy="691.9" r="4.5" fill="url(#g_red)"/>
<circle cx="890.0" cy="693.7" r="4.5" fill="url(#g_red)"/>
<circle cx="897.0" cy="692.8" r="4.5" fill="url(#g_red)"/>
<circle cx="905.0" cy="694.2" r="4.5" fill="url(#g_red)"/>
<circle cx="912.0" cy="693.7" r="4.5" fill="url(#g_red)"/>
<circle cx="919.0" cy="694.7" r="4.5" fill="url(#g_red)"/>
<circle cx="925.0" cy="696.5" r="4.5" fill="url(#g_red)"/>
<circle cx="928.2" cy="696.5" r="4.5" fill="url(#g_red)"/>
<circle cx="931.4" cy="696.5" r="4.5" fill="url(#g_red)"/>
<circle cx="934.6" cy="696.5" r="4.5" fill="url(#g_red)"/>
<circle cx="937.8" cy="696.5" r="4.5" fill="url(#g_red)"/>
<circle cx="941.0" cy="696.5" r="4.5" fill="url(#g_red)"/>
<circle cx="944.2" cy="696.5" r="4.5" fill="url(#g_red)"/>
<circle cx="947.4" cy="696.5" r="4.5" fill="url(#g_red)"/>
<circle cx="950.6" cy="696.5" r="4.5" fill="url(#g_red)"/>
<circle cx="953.8" cy="696.5" r="4.5" fill="url(#g_red)"/>
<circle cx="957.0" cy="696.5" r="4.5" fill="url(#g_red)"/>
<path d="M605.5 466.9 L607.6 595.3 L614.1 653.5 L616.7 678.5 L620.0 696.5 L624.0 696.5 L628.0 696.5 L632.0 696.5 L635.5 696.5 L638.4 590.7 L642.2 562.5 L644.6 627.2 L651.5 527.4 L654.0 668.8 L657.8 621.7 L662.0 645.7 L666.4 627.2 L670.1 629.0 L674.2 645.7 L679.9 617.5 L683.2 685.0 L686.5 669.2 L691.4 659.5 L695.0 668.8 L698.0 673.4 L701.3 677.6 L704.5 684.5 L708.6 685.9 L711.9 687.7 L716.0 689.1 L720.1 692.3 L724.2 695.6 L730.0 696.5 L736.0 694.2 L741.0 692.8 L746.3 691.9 L752.0 691.0 L758.9 689.1 L763.5 690.5 L768.0 691.9 L773.0 694.2 L777.0 696.5 L782.2 683.6 L786.0 696.5 L790.0 696.5 L794.8 679.4 L798.0 695.6 L802.0 694.2 L806.0 692.8 L809.5 691.9 L813.1 673.4 L818.4 691.0 L826.0 694.2 L833.6 696.5 L841.1 693.7 L848.7 688.6 L856.3 685.0 L862.0 681.3 L869.5 685.0 L873.3 683.1 L879.0 688.6 L884.7 685.9 L890.4 691.0 L898.0 687.7 L907.4 691.0 L915.0 691.0 L920.7 695.1 L925.0 696.5 L928.2 696.5 L931.4 696.5 L934.6 696.5 L937.8 696.5 L941.0 696.5 L944.2 696.5 L947.4 696.5 L950.6 696.5 L953.8 696.5 L957.0 696.5" fill="none" stroke="#0000ff" stroke-width="1.6" stroke-linejoin="round"/>
<circle cx="605.5" cy="466.9" r="4.5" fill="url(#g_blue)"/>
<circle cx="607.6" cy="595.3" r="4.5" fill="url(#g_blue)"/>
<circle cx="614.1" cy="653.5" r="4.5" fill="url(#g_blue)"/>
<circle cx="616.7" cy="678.5" r="4.5" fill="url(#g_blue)"/>
<circle cx="620.0" cy="696.5" r="4.5" fill="url(#g_blue)"/>
<circle cx="624.0" cy="696.5" r="4.5" fill="url(#g_blue)"/>
<circle cx="628.0" cy="696.5" r="4.5" fill="url(#g_blue)"/>
<circle cx="632.0" cy="696.5" r="4.5" fill="url(#g_blue)"/>
<circle cx="635.5" cy="696.5" r="4.5" fill="url(#g_blue)"/>
<circle cx="638.4" cy="590.7" r="4.5" fill="url(#g_blue)"/>
<circle cx="642.2" cy="562.5" r="4.5" fill="url(#g_blue)"/>
<circle cx="644.6" cy="627.2" r="4.5" fill="url(#g_blue)"/>
<circle cx="651.5" cy="527.4" r="4.5" fill="url(#g_blue)"/>
<circle cx="654.0" cy="668.8" r="4.5" fill="url(#g_blue)"/>
<circle cx="657.8" cy="621.7" r="4.5" fill="url(#g_blue)"/>
<circle cx="662.0" cy="645.7" r="4.5" fill="url(#g_blue)"/>
<circle cx="666.4" cy="627.2" r="4.5" fill="url(#g_blue)"/>
<circle cx="670.1" cy="629.0" r="4.5" fill="url(#g_blue)"/>
<circle cx="674.2" cy="645.7" r="4.5" fill="url(#g_blue)"/>
<circle cx="679.9" cy="617.5" r="4.5" fill="url(#g_blue)"/>
<circle cx="683.2" cy="685.0" r="4.5" fill="url(#g_blue)"/>
<circle cx="686.5" cy="669.2" r="4.5" fill="url(#g_blue)"/>
<circle cx="691.4" cy="659.5" r="4.5" fill="url(#g_blue)"/>
<circle cx="695.0" cy="668.8" r="4.5" fill="url(#g_blue)"/>
<circle cx="698.0" cy="673.4" r="4.5" fill="url(#g_blue)"/>
<circle cx="701.3" cy="677.6" r="4.5" fill="url(#g_blue)"/>
<circle cx="704.5" cy="684.5" r="4.5" fill="url(#g_blue)"/>
<circle cx="708.6" cy="685.9" r="4.5" fill="url(#g_blue)"/>
<circle cx="711.9" cy="687.7" r="4.5" fill="url(#g_blue)"/>
<circle cx="716.0" cy="689.1" r="4.5" fill="url(#g_blue)"/>
<circle cx="720.1" cy="692.3" r="4.5" fill="url(#g_blue)"/>
<circle cx="724.2" cy="695.6" r="4.5" fill="url(#g_blue)"/>
<circle cx="730.0" cy="696.5" r="4.5" fill="url(#g_blue)"/>
<circle cx="736.0" cy="694.2" r="4.5" fill="url(#g_blue)"/>
<circle cx="741.0" cy="692.8" r="4.5" fill="url(#g_blue)"/>
<circle cx="746.3" cy="691.9" r="4.5" fill="url(#g_blue)"/>
<circle cx="752.0" cy="691.0" r="4.5" fill="url(#g_blue)"/>
<circle cx="758.9" cy="689.1" r="4.5" fill="url(#g_blue)"/>
<circle cx="763.5" cy="690.5" r="4.5" fill="url(#g_blue)"/>
<circle cx="768.0" cy="691.9" r="4.5" fill="url(#g_blue)"/>
<circle cx="773.0" cy="694.2" r="4.5" fill="url(#g_blue)"/>
<circle cx="777.0" cy="696.5" r="4.5" fill="url(#g_blue)"/>
<circle cx="782.2" cy="683.6" r="4.5" fill="url(#g_blue)"/>
<circle cx="786.0" cy="696.5" r="4.5" fill="url(#g_blue)"/>
<circle cx="790.0" cy="696.5" r="4.5" fill="url(#g_blue)"/>
<circle cx="794.8" cy="679.4" r="4.5" fill="url(#g_blue)"/>
<circle cx="798.0" cy="695.6" r="4.5" fill="url(#g_blue)"/>
<circle cx="802.0" cy="694.2" r="4.5" fill="url(#g_blue)"/>
<circle cx="806.0" cy="692.8" r="4.5" fill="url(#g_blue)"/>
<circle cx="809.5" cy="691.9" r="4.5" fill="url(#g_blue)"/>
<circle cx="813.1" cy="673.4" r="4.5" fill="url(#g_blue)"/>
<circle cx="818.4" cy="691.0" r="4.5" fill="url(#g_blue)"/>
<circle cx="826.0" cy="694.2" r="4.5" fill="url(#g_blue)"/>
<circle cx="833.6" cy="696.5" r="4.5" fill="url(#g_blue)"/>
<circle cx="841.1" cy="693.7" r="4.5" fill="url(#g_blue)"/>
<circle cx="848.7" cy="688.6" r="4.5" fill="url(#g_blue)"/>
<circle cx="856.3" cy="685.0" r="4.5" fill="url(#g_blue)"/>
<circle cx="862.0" cy="681.3" r="4.5" fill="url(#g_blue)"/>
<circle cx="869.5" cy="685.0" r="4.5" fill="url(#g_blue)"/>
<circle cx="873.3" cy="683.1" r="4.5" fill="url(#g_blue)"/>
<circle cx="879.0" cy="688.6" r="4.5" fill="url(#g_blue)"/>
<circle cx="884.7" cy="685.9" r="4.5" fill="url(#g_blue)"/>
<circle cx="890.4" cy="691.0" r="4.5" fill="url(#g_blue)"/>
<circle cx="898.0" cy="687.7" r="4.5" fill="url(#g_blue)"/>
<circle cx="907.4" cy="691.0" r="4.5" fill="url(#g_blue)"/>
<circle cx="915.0" cy="691.0" r="4.5" fill="url(#g_blue)"/>
<circle cx="920.7" cy="695.1" r="4.5" fill="url(#g_blue)"/>
<circle cx="925.0" cy="696.5" r="4.5" fill="url(#g_blue)"/>
<circle cx="928.2" cy="696.5" r="4.5" fill="url(#g_blue)"/>
<circle cx="931.4" cy="696.5" r="4.5" fill="url(#g_blue)"/>
<circle cx="934.6" cy="696.5" r="4.5" fill="url(#g_blue)"/>
<circle cx="937.8" cy="696.5" r="4.5" fill="url(#g_blue)"/>
<circle cx="941.0" cy="696.5" r="4.5" fill="url(#g_blue)"/>
<circle cx="944.2" cy="696.5" r="4.5" fill="url(#g_blue)"/>
<circle cx="947.4" cy="696.5" r="4.5" fill="url(#g_blue)"/>
<circle cx="950.6" cy="696.5" r="4.5" fill="url(#g_blue)"/>
<circle cx="953.8" cy="696.5" r="4.5" fill="url(#g_blue)"/>
<circle cx="957.0" cy="696.5" r="4.5" fill="url(#g_blue)"/>
<path d="M601.7 570.8 L605.5 488.1 L606.0 676.6 L609.7 680.3 L614.1 658.2 L616.7 667.9 L620.0 696.5 L623.0 696.5 L626.0 696.5 L629.0 696.5 L632.0 696.5 L635.0 696.5 L638.9 605.0 L642.1 579.2 L644.9 639.2 L648.3 696.5 L651.6 559.7 L654.4 654.0 L657.4 636.0 L659.8 644.3 L663.4 664.6 L667.0 634.6 L669.4 642.4 L673.0 658.2 L676.5 696.5 L679.6 628.6 L682.6 678.5 L685.6 696.5 L688.1 691.0 L690.6 663.7 L693.9 666.9 L696.7 662.8 L700.0 662.8 L702.9 670.2 L705.7 672.5 L708.6 673.9 L711.9 678.5 L715.2 677.6 L718.1 681.7 L721.3 686.3 L724.6 689.6 L727.1 695.1 L730.6 693.7 L733.5 691.9 L736.6 687.3 L740.7 695.6 L744.7 684.5 L749.3 696.5 L752.8 682.6 L757.9 696.5 L762.4 681.7 L765.5 696.5 L768.5 688.6 L772.6 696.5 L777.1 696.5 L781.7 671.6 L785.7 696.5 L789.8 696.5 L794.8 659.5 L797.5 696.5 L801.9 696.5 L806.0 696.5 L809.0 696.5 L813.1 637.4 L815.1 683.6 L818.4 677.6 L823.1 681.3 L828.8 683.6 L834.5 691.0 L840.2 676.6 L844.0 680.3 L846.8 666.0 L850.6 659.5 L853.4 667.9 L856.3 666.0 L859.1 648.9 L862.3 644.3 L865.4 662.3 L868.6 663.7 L871.4 650.8 L874.8 654.9 L877.5 670.6 L880.5 671.6 L883.8 660.0 L887.5 662.3 L891.3 675.7 L894.2 675.7 L896.0 666.9 L899.8 669.7 L903.6 679.4 L908.4 678.5 L912.2 681.3 L917.8 683.1 L921.6 687.7 L925.0 696.5 L928.2 696.5 L931.4 696.5 L934.6 696.5 L937.8 696.5 L941.0 696.5 L944.2 696.5 L947.4 696.5 L950.6 696.5 L953.8 696.5 L957.0 696.5" fill="none" stroke="#008800" stroke-width="1.6" stroke-linejoin="round"/>
<circle cx="601.7" cy="570.8" r="4.5" fill="url(#g_green)"/>
<circle cx="605.5" cy="488.1" r="4.5" fill="url(#g_green)"/>
<circle cx="606.0" cy="676.6" r="4.5" fill="url(#g_green)"/>
<circle cx="609.7" cy="680.3" r="4.5" fill="url(#g_green)"/>
<circle cx="614.1" cy="658.2" r="4.5" fill="url(#g_green)"/>
<circle cx="616.7" cy="667.9" r="4.5" fill="url(#g_green)"/>
<circle cx="620.0" cy="696.5" r="4.5" fill="url(#g_green)"/>
<circle cx="623.0" cy="696.5" r="4.5" fill="url(#g_green)"/>
<circle cx="626.0" cy="696.5" r="4.5" fill="url(#g_green)"/>
<circle cx="629.0" cy="696.5" r="4.5" fill="url(#g_green)"/>
<circle cx="632.0" cy="696.5" r="4.5" fill="url(#g_green)"/>
<circle cx="635.0" cy="696.5" r="4.5" fill="url(#g_green)"/>
<circle cx="638.9" cy="605.0" r="4.5" fill="url(#g_green)"/>
<circle cx="642.1" cy="579.2" r="4.5" fill="url(#g_green)"/>
<circle cx="644.9" cy="639.2" r="4.5" fill="url(#g_green)"/>
<circle cx="648.3" cy="696.5" r="4.5" fill="url(#g_green)"/>
<circle cx="651.6" cy="559.7" r="4.5" fill="url(#g_green)"/>
<circle cx="654.4" cy="654.0" r="4.5" fill="url(#g_green)"/>
<circle cx="657.4" cy="636.0" r="4.5" fill="url(#g_green)"/>
<circle cx="659.8" cy="644.3" r="4.5" fill="url(#g_green)"/>
<circle cx="663.4" cy="664.6" r="4.5" fill="url(#g_green)"/>
<circle cx="667.0" cy="634.6" r="4.5" fill="url(#g_green)"/>
<circle cx="669.4" cy="642.4" r="4.5" fill="url(#g_green)"/>
<circle cx="673.0" cy="658.2" r="4.5" fill="url(#g_green)"/>
<circle cx="676.5" cy="696.5" r="4.5" fill="url(#g_green)"/>
<circle cx="679.6" cy="628.6" r="4.5" fill="url(#g_green)"/>
<circle cx="682.6" cy="678.5" r="4.5" fill="url(#g_green)"/>
<circle cx="685.6" cy="696.5" r="4.5" fill="url(#g_green)"/>
<circle cx="688.1" cy="691.0" r="4.5" fill="url(#g_green)"/>
<circle cx="690.6" cy="663.7" r="4.5" fill="url(#g_green)"/>
<circle cx="693.9" cy="666.9" r="4.5" fill="url(#g_green)"/>
<circle cx="696.7" cy="662.8" r="4.5" fill="url(#g_green)"/>
<circle cx="700.0" cy="662.8" r="4.5" fill="url(#g_green)"/>
<circle cx="702.9" cy="670.2" r="4.5" fill="url(#g_green)"/>
<circle cx="705.7" cy="672.5" r="4.5" fill="url(#g_green)"/>
<circle cx="708.6" cy="673.9" r="4.5" fill="url(#g_green)"/>
<circle cx="711.9" cy="678.5" r="4.5" fill="url(#g_green)"/>
<circle cx="715.2" cy="677.6" r="4.5" fill="url(#g_green)"/>
<circle cx="718.1" cy="681.7" r="4.5" fill="url(#g_green)"/>
<circle cx="721.3" cy="686.3" r="4.5" fill="url(#g_green)"/>
<circle cx="724.6" cy="689.6" r="4.5" fill="url(#g_green)"/>
<circle cx="727.1" cy="695.1" r="4.5" fill="url(#g_green)"/>
<circle cx="730.6" cy="693.7" r="4.5" fill="url(#g_green)"/>
<circle cx="733.5" cy="691.9" r="4.5" fill="url(#g_green)"/>
<circle cx="736.6" cy="687.3" r="4.5" fill="url(#g_green)"/>
<circle cx="740.7" cy="695.6" r="4.5" fill="url(#g_green)"/>
<circle cx="744.7" cy="684.5" r="4.5" fill="url(#g_green)"/>
<circle cx="749.3" cy="696.5" r="4.5" fill="url(#g_green)"/>
<circle cx="752.8" cy="682.6" r="4.5" fill="url(#g_green)"/>
<circle cx="757.9" cy="696.5" r="4.5" fill="url(#g_green)"/>
<circle cx="762.4" cy="681.7" r="4.5" fill="url(#g_green)"/>
<circle cx="765.5" cy="696.5" r="4.5" fill="url(#g_green)"/>
<circle cx="768.5" cy="688.6" r="4.5" fill="url(#g_green)"/>
<circle cx="772.6" cy="696.5" r="4.5" fill="url(#g_green)"/>
<circle cx="777.1" cy="696.5" r="4.5" fill="url(#g_green)"/>
<circle cx="781.7" cy="671.6" r="4.5" fill="url(#g_green)"/>
<circle cx="785.7" cy="696.5" r="4.5" fill="url(#g_green)"/>
<circle cx="789.8" cy="696.5" r="4.5" fill="url(#g_green)"/>
<circle cx="794.8" cy="659.5" r="4.5" fill="url(#g_green)"/>
<circle cx="797.5" cy="696.5" r="4.5" fill="url(#g_green)"/>
<circle cx="801.9" cy="696.5" r="4.5" fill="url(#g_green)"/>
<circle cx="806.0" cy="696.5" r="4.5" fill="url(#g_green)"/>
<circle cx="809.0" cy="696.5" r="4.5" fill="url(#g_green)"/>
<circle cx="813.1" cy="637.4" r="4.5" fill="url(#g_green)"/>
<circle cx="815.1" cy="683.6" r="4.5" fill="url(#g_green)"/>
<circle cx="818.4" cy="677.6" r="4.5" fill="url(#g_green)"/>
<circle cx="823.1" cy="681.3" r="4.5" fill="url(#g_green)"/>
<circle cx="828.8" cy="683.6" r="4.5" fill="url(#g_green)"/>
<circle cx="834.5" cy="691.0" r="4.5" fill="url(#g_green)"/>
<circle cx="840.2" cy="676.6" r="4.5" fill="url(#g_green)"/>
<circle cx="844.0" cy="680.3" r="4.5" fill="url(#g_green)"/>
<circle cx="846.8" cy="666.0" r="4.5" fill="url(#g_green)"/>
<circle cx="850.6" cy="659.5" r="4.5" fill="url(#g_green)"/>
<circle cx="853.4" cy="667.9" r="4.5" fill="url(#g_green)"/>
<circle cx="856.3" cy="666.0" r="4.5" fill="url(#g_green)"/>
<circle cx="859.1" cy="648.9" r="4.5" fill="url(#g_green)"/>
<circle cx="862.3" cy="644.3" r="4.5" fill="url(#g_green)"/>
<circle cx="865.4" cy="662.3" r="4.5" fill="url(#g_green)"/>
<circle cx="868.6" cy="663.7" r="4.5" fill="url(#g_green)"/>
<circle cx="871.4" cy="650.8" r="4.5" fill="url(#g_green)"/>
<circle cx="874.8" cy="654.9" r="4.5" fill="url(#g_green)"/>
<circle cx="877.5" cy="670.6" r="4.5" fill="url(#g_green)"/>
<circle cx="880.5" cy="671.6" r="4.5" fill="url(#g_green)"/>
<circle cx="883.8" cy="660.0" r="4.5" fill="url(#g_green)"/>
<circle cx="887.5" cy="662.3" r="4.5" fill="url(#g_green)"/>
<circle cx="891.3" cy="675.7" r="4.5" fill="url(#g_green)"/>
<circle cx="894.2" cy="675.7" r="4.5" fill="url(#g_green)"/>
<circle cx="896.0" cy="666.9" r="4.5" fill="url(#g_green)"/>
<circle cx="899.8" cy="669.7" r="4.5" fill="url(#g_green)"/>
<circle cx="903.6" cy="679.4" r="4.5" fill="url(#g_green)"/>
<circle cx="908.4" cy="678.5" r="4.5" fill="url(#g_green)"/>
<circle cx="912.2" cy="681.3" r="4.5" fill="url(#g_green)"/>
<circle cx="917.8" cy="683.1" r="4.5" fill="url(#g_green)"/>
<circle cx="921.6" cy="687.7" r="4.5" fill="url(#g_green)"/>
<circle cx="925.0" cy="696.5" r="4.5" fill="url(#g_green)"/>
<circle cx="928.2" cy="696.5" r="4.5" fill="url(#g_green)"/>
<circle cx="931.4" cy="696.5" r="4.5" fill="url(#g_green)"/>
<circle cx="934.6" cy="696.5" r="4.5" fill="url(#g_green)"/>
<circle cx="937.8" cy="696.5" r="4.5" fill="url(#g_green)"/>
<circle cx="941.0" cy="696.5" r="4.5" fill="url(#g_green)"/>
<circle cx="944.2" cy="696.5" r="4.5" fill="url(#g_green)"/>
<circle cx="947.4" cy="696.5" r="4.5" fill="url(#g_green)"/>
<circle cx="950.6" cy="696.5" r="4.5" fill="url(#g_green)"/>
<circle cx="953.8" cy="696.5" r="4.5" fill="url(#g_green)"/>
<circle cx="957.0" cy="696.5" r="4.5" fill="url(#g_green)"/>
</g>
<line x1="682" y1="513" x2="646" y2="513" stroke="#ff5a5a" stroke-width="1.3"/>
<path d="M639.5 513 L647.5 509.8 L647.5 516.2 Z" fill="#ff0000"/>
<line x1="682" y1="513" x2="719" y2="513" stroke="#5a5aff" stroke-width="1.3"/>
<path d="M726.5 513 L718.5 509.8 L718.5 516.2 Z" fill="#0000ff"/>
<text x="611" y="502.2" font-size="14.8" text-anchor="start" fill="#ff0000" textLength="68.7" lengthAdjust="spacingAndGlyphs" >micropore</text>
<text x="733" y="518" font-size="15" text-anchor="start" fill="#0000ff" textLength="169" lengthAdjust="spacingAndGlyphs" >mesopore and macropore</text>
<line x1="818" y1="433" x2="854.5" y2="433" stroke="#555555" stroke-width="1.6"/>
<circle cx="836.4" cy="433.0" r="4.3" fill="url(#g_gray)"/>
<text x="858.3" y="438.3" font-size="15.5" text-anchor="start" fill="#000" >NPAC-K</text>
<line x1="818" y1="452.7" x2="854.5" y2="452.7" stroke="#ff0000" stroke-width="1.6"/>
<circle cx="836.4" cy="452.7" r="4.3" fill="url(#g_red)"/>
<text x="858.3" y="458" font-size="15.5" text-anchor="start" fill="#000" >NPAC-Zn</text>
<line x1="818" y1="472.1" x2="854.5" y2="472.1" stroke="#0000ff" stroke-width="1.6"/>
<circle cx="836.4" cy="472.1" r="4.3" fill="url(#g_blue)"/>
<text x="858.3" y="477.4" font-size="15.5" text-anchor="start" fill="#000" >NPAC-Zn/K</text>
<line x1="818" y1="491.6" x2="854.5" y2="491.6" stroke="#008800" stroke-width="1.6"/>
<circle cx="836.4" cy="491.6" r="4.3" fill="url(#g_green)"/>
<text x="858.3" y="496.9" font-size="15.5" text-anchor="start" fill="#000" >BNPAC-Zn/K</text>
</svg></body></html>
